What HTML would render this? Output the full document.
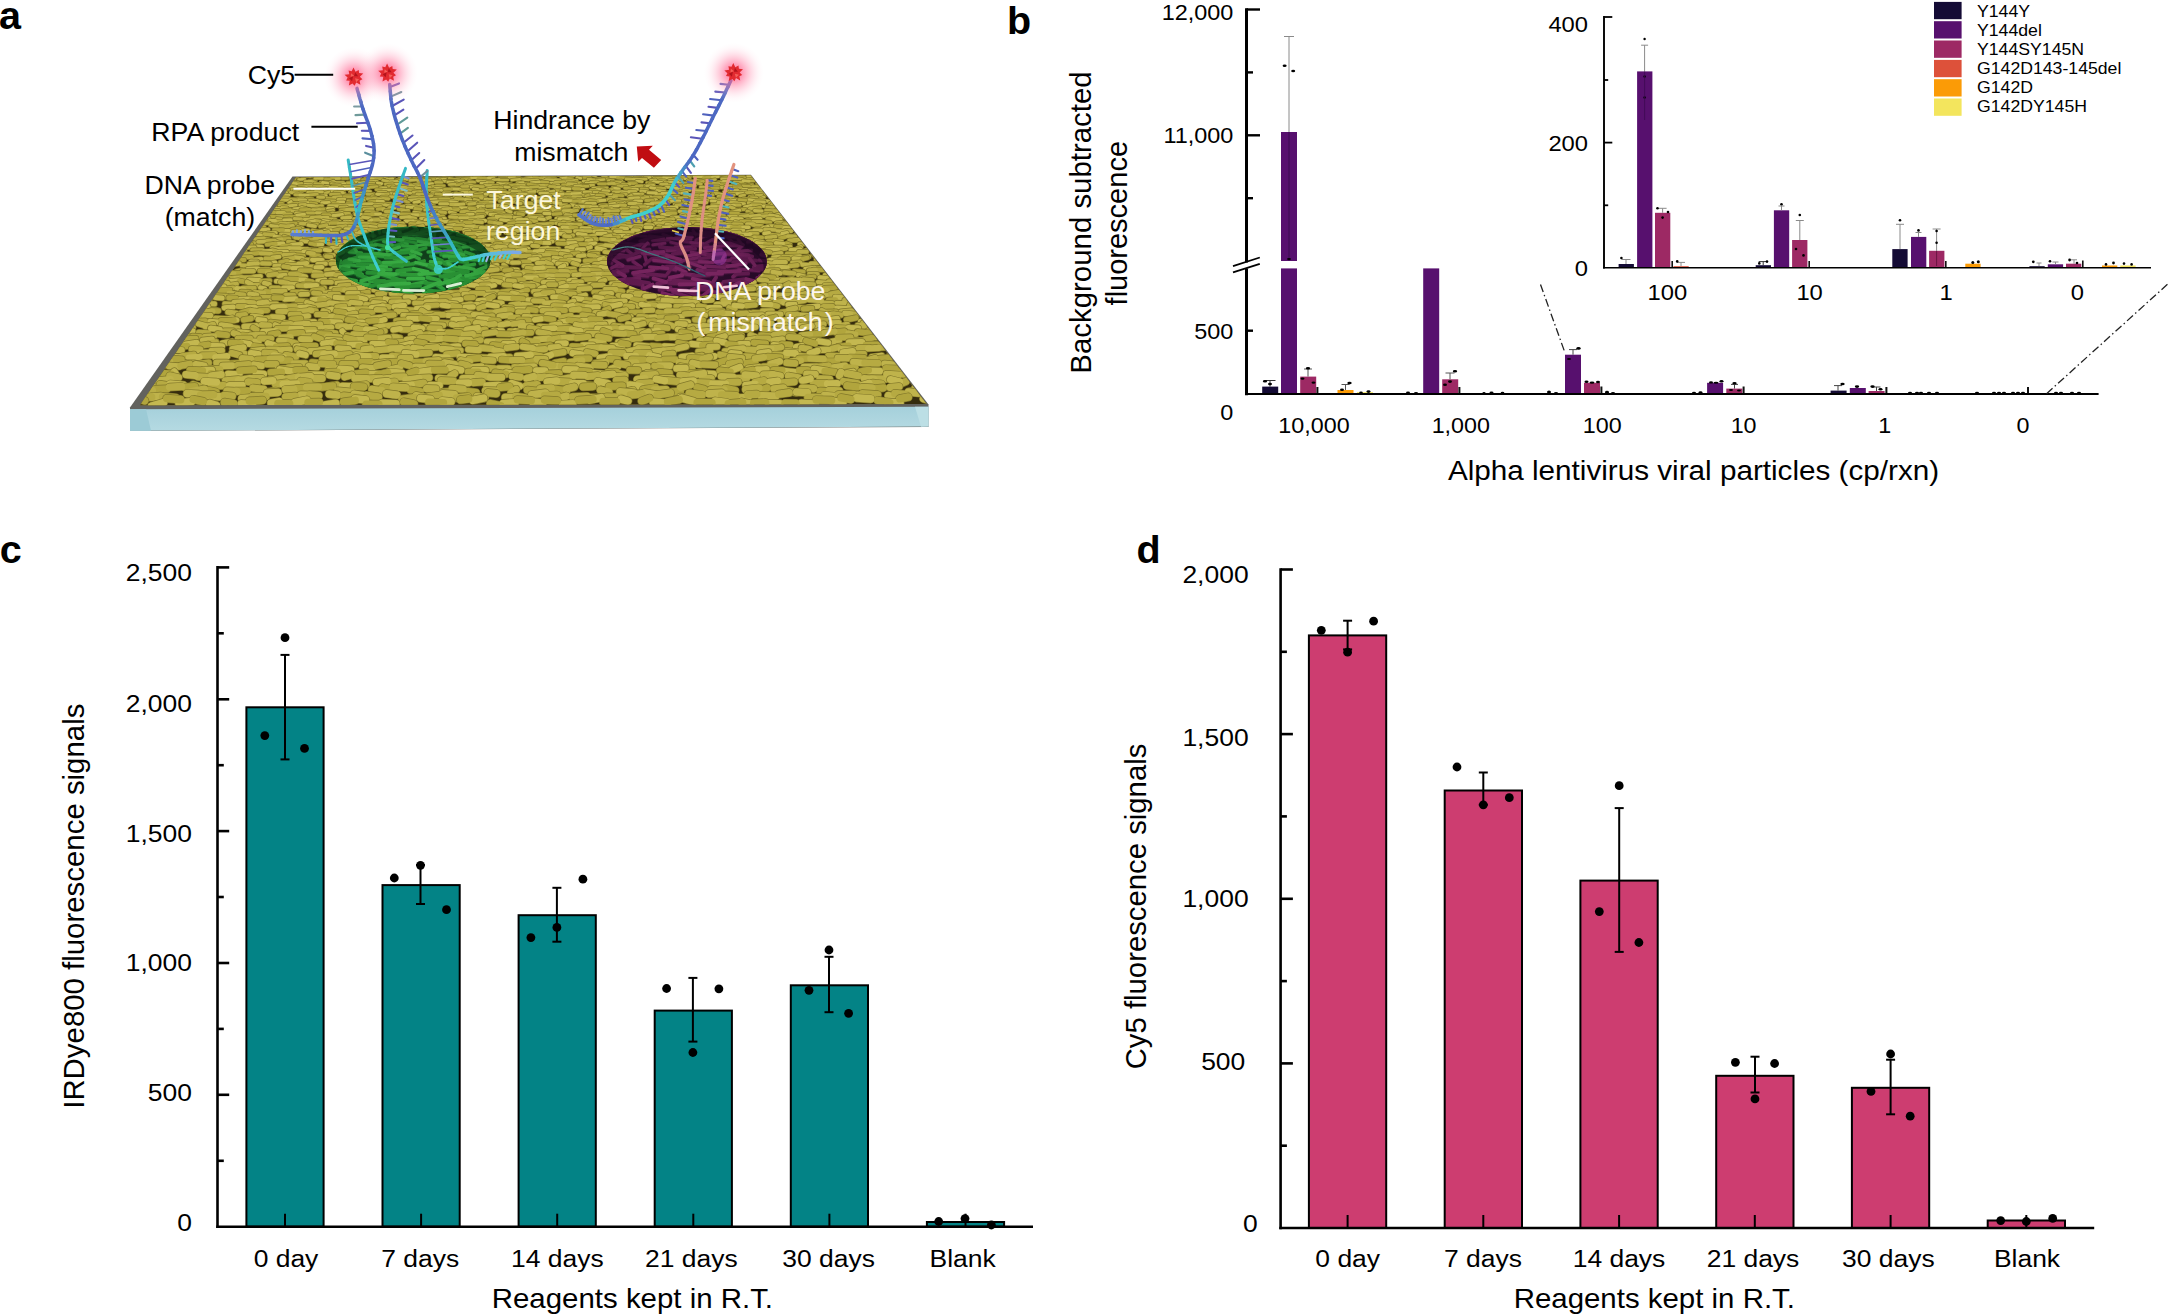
<!DOCTYPE html>
<html><head><meta charset="utf-8"><title>Figure</title>
<style>html,body{margin:0;padding:0;background:#fff}svg{display:block}text{font-family:"Liberation Sans",Arial,Helvetica,sans-serif}</style></head>
<body><svg width="2168" height="1316" viewBox="0 0 2168 1316">
<defs>
<radialGradient id="glow"><stop offset="0" stop-color="#ff4f7e" stop-opacity="0.8"/><stop offset="0.3" stop-color="#ff6a94" stop-opacity="0.62"/><stop offset="0.6" stop-color="#ff97b6" stop-opacity="0.32"/><stop offset="0.85" stop-color="#ffc4d6" stop-opacity="0.1"/><stop offset="1" stop-color="#ffd8e4" stop-opacity="0"/></radialGradient>
<radialGradient id="gwell" cx="0.5" cy="0.7" r="0.65"><stop offset="0" stop-color="#4fd04f" stop-opacity="0.15"/><stop offset="0.6" stop-color="#1a6a2c" stop-opacity="0.1"/><stop offset="1" stop-color="#0c3a18" stop-opacity="0.55"/></radialGradient>
<radialGradient id="pwell" cx="0.5" cy="0.75" r="0.7"><stop offset="0" stop-color="#a0357a" stop-opacity="0.15"/><stop offset="0.55" stop-color="#4a1440" stop-opacity="0.1"/><stop offset="1" stop-color="#1c0620" stop-opacity="0.6"/></radialGradient>
<linearGradient id="glass" x1="0" y1="0" x2="0" y2="1"><stop offset="0" stop-color="#a5d0db"/><stop offset="1" stop-color="#b5dae2"/></linearGradient>
<clipPath id="cq"><polygon points="296,177.6 750.5,175.4 926.5,404 140,405.3"/></clipPath>
<clipPath id="cg"><ellipse cx="413.2" cy="260" rx="77.3" ry="33.6"/></clipPath>
<clipPath id="cp"><ellipse cx="686.9" cy="261.5" rx="79.8" ry="34.6"/></clipPath>
</defs>
<g>
<polygon points="292.5,176.6 751,174.8 928.5,404.6 928.5,427 130,431 130,407.4" fill="#62625e"/>
<polygon points="130,409.2 928.5,406.7 928.5,426.6 130,430.8" fill="url(#glass)"/>
<polygon points="130,409.2 146,409.1 151,430.7 130,430.8" fill="#9ccbd6"/>
<polygon points="915,406.8 928.5,406.7 928.5,426.6 921,426.7" fill="#bcdfe5"/>
<polygon points="296,177.6 750.5,175.4 926.5,404 140,405.3" fill="#baa945"/>
<polygon points="296,177.6 750.5,175.4 926.5,404 140,405.3" fill="#352c0e"/>
<g clip-path="url(#cq)" fill="none" stroke-linecap="round">
<defs><path id="w1" d="M283.2 178.6l6.8 -0.6M302 176.5l8.1 -0.1M320.8 177.6l5 -0.2M333.5 176.5l7.8 -0.6M351.7 177.2l8.8 -0.4M368.7 176.2l4.9 0.7M388.3 175.7l6.5 0.2M403.8 177.4l6.3 -0.1M420.5 175.6l4.1 0.6M438.8 176l6.6 -0.2M456.3 176l6.3 0.2M474.4 175.9l6.3 -0.1M489.3 176.1l6.4 -0.4M507.6 175.3l7.1 0.7M526.1 175.1l5 0.9M541.8 175.7l8.2 -0.2M557.6 175.1l8.3 0.1M573.6 175l5.2 -0.1M590.7 175.1l4.9 1M605.7 174.4l7.7 0.8M627 175.3l7.1 0.2M644.3 176.1l7.5 0.4M663.1 176.6l5.4 -0.6M679.4 176.3l6.1 0.5M695.9 174.5l7.4 -0M713.3 175.5l5 0.2M727.8 176.3l8.1 -0.4M747.6 175.4l5.4 0.7"/><path id="w2" d="M290.2 177.3l7.3 0.1M309.9 176.2l8.5 0.2M327.5 176.3l5.7 -0.2M343.2 177.4l6.8 0.1M365.1 176.9l0.3 1.1M378.7 176.5l8.1 0.4M399 176.3l3 0.7M414.6 177.3l5.3 0.1M429.8 176.5l5.4 0.2M443.5 176.3l8.7 -0.3M465.5 176.9l5.3 -0.2M480.6 175.2l3.9 0.6M499.5 176.5l7 -0.3M513.7 175.2l5.7 0.9M532.1 175.5l4.9 -0.3M549.9 175.8l5.4 -0.3M566.1 175.2l7.5 0.7M581.5 175.4l6.6 0.5M602.8 176.4l3.9 -0.7M615.4 176.3l6.3 -0.4M635.7 176.6l7.9 -0M654.6 176.5l6.4 -0.3M670.6 175.9l5 -0.3M688.2 175.9l5.7 -0.6M702.7 174.9l7.6 -0.2M720.7 175.8l5.6 -0.2M738.3 175.8l5.1 -0.4M756.6 174.9l4.7 -0.4"/></defs>
<g stroke="#82782a" stroke-width="4"><use href="#w1"/><use href="#w2"/></g><use href="#w1" stroke="#bfb34b" stroke-width="2.6"/><use href="#w2" stroke="#b6aa42" stroke-width="2.6"/>
<defs><path id="w3" d="M284 180.5l6.1 -0.3M298.6 179.5l6.1 -0.4M314.8 178.3l7.7 0.1M331.2 178.6l8.3 -0.2M351.4 179.4l7.8 -0.6M368.6 178.2l6.7 0.6M387 179.4l5.9 -0.6M404.7 179.3l7 0.4M421.8 179.3l6.7 0.5M436.9 179.1l8.6 0.3M454.2 179.5l5.2 0.2M471.1 177.6l8.1 0M487.2 178.3l6.6 -0.9M508.9 177.5l6.1 0.1M524.5 178.7l8.3 -0.3M543.2 178.5l6.9 -0.3M561 178.6l5.8 -0.8M577 177.5l3.9 0.8M595.3 179.1l5.3 -0.4M610.6 176.9l7.7 0.1M625.9 178.2l5.8 0.3M644.5 177.8l5.6 -0.3M663.3 177.9l8 0.2M678 178.4l8.5 0.4M694.2 176.6l8.2 0.3M710.6 177.2l7.9 -0.6M732.4 177.8l5.5 0M747.7 176.5l8.5 0.1"/><path id="w4" d="M290.8 179.9l3.9 -0.9M309.3 180.7l6.6 -0.4M325.3 179l8.1 -0.2M342.4 178.5l5.1 -0M362.6 179.8l5.4 -0.5M375.7 178.6l6.3 0M396.3 180.1l4.9 -0.4M413.6 178.5l6.7 0.4M426.2 179.5l8.2 -0.3M449.2 178.3l5 1.1M462.3 179l7.7 -0.5M478 178.4l8.1 -0.2M498.5 179.5l7 -0.1M516.3 178.5l6.2 0.6M533.6 177.5l7.8 0.5M550.3 178.6l5.1 -0.1M567.7 178.4l4.9 0.4M583.9 177.5l6.4 -0.3M602.8 178.9l5.6 0M617.3 177.5l7.3 0.3M634.6 177.7l6.5 0.4M654 178.1l7.1 -0.1M673.1 178.7l6 -0.3M688.4 176.4l1.5 1.4M703.2 177.6l6.9 -0.5M721.8 178l4.7 -1.1M737.6 177.4l7.2 0.1M761.5 178.1l5.5 0.2"/></defs>
<g stroke="#82782a" stroke-width="4"><use href="#w3"/><use href="#w4"/></g><use href="#w3" stroke="#c4b850" stroke-width="2.6"/><use href="#w4" stroke="#b1a53d" stroke-width="2.6"/>
<defs><path id="w5" d="M279.5 181.7l6.8 0M291.6 182.1l6.6 0.1M311.1 181.1l4.5 1.1M329.9 182.4l3.8 -1.4M347.4 182.7l6.8 -1.1M363.1 181.7l6.3 0.4M382.7 180.4l5.1 0.6M396.9 182.6l7.6 -0.6M417.5 180.6l5.8 -0.1M436.6 181.7l3.6 -1.2M447.1 181.2l8.8 -0M469.1 180.6l3.8 0.9M483.5 181.4l7.5 -0.5M499.2 180l8.6 -0M522.3 179.5l6.5 0.4M541.3 181.7l3.3 -1.4M555.2 179.6l5 0.4M571.4 180.9l5.6 -0.8M588 179.1l6.5 0.7M608.2 180.6l5 -0.5M626.1 178.9l6.6 0.3M639 179.3l7.2 -0.3M659.3 180.5l5.6 0.1M675.3 179.7l6.5 -0.1M695 180.1l6.3 0.4M710.7 180.2l4.6 -0.7M729.1 178.9l7.4 -0.3M747.6 178.9l7 0.6"/><path id="w6" d="M285.7 181.8l7.2 -0.5M304.9 181.6l5.8 -0.3M320.6 182.3l7.4 0.1M335.3 182.4l8 -0.1M355.7 181.7l6.8 0.7M369.6 180.9l7.4 0.2M390.2 181.5l7.1 -0.3M409.8 180.4l6.7 -0.7M424.3 180.2l6 0.1M443.4 181.3l8.3 -0.1M457.8 180.9l5.7 -0.2M476.9 180.8l6 0.4M493.1 179.7l6 -0.2M511.7 180l8.2 -0.7M530.9 180.2l6.9 -0.3M546.1 179.5l7.4 0.3M563.1 180.7l6.8 0.2M583.2 181.1l7.6 0.5M597.3 180.1l6.8 -0.6M614.4 181.6l7.3 -0.8M633.2 179.1l7.2 0.1M650.7 180.2l5 -0.5M669.2 180.3l8 -0.2M687.8 180.5l5.1 0.8M702.2 180.7l5.2 -0.2M721.7 178.7l5.9 0M736.8 178.5l5.7 0.7M757.6 180.1l8.5 0.6"/></defs>
<g stroke="#82782a" stroke-width="4"><use href="#w5"/><use href="#w6"/></g><use href="#w5" stroke="#baae46" stroke-width="2.6"/><use href="#w6" stroke="#bfb34b" stroke-width="2.6"/>
<defs><path id="w7" d="M279.6 183.7l8.8 -0.3M296.2 183.8l5.7 -0.4M314.7 183.7l7.9 0.4M331.4 183.5l6.4 0.8M347.4 182.8l5.4 -0.1M366.8 182.9l7 0.1M385.4 184.2l7.2 -0.7M402.1 183.4l7.3 0.6M418.3 183.7l6.6 0.1M435.6 182.4l6.1 0.1M451.9 183.5l5.3 0M468.8 182.2l5.9 0.1M487 182.3l6 0.3M504.4 183.6l6.9 0.4M520.7 183.8l7.2 0.1M541.9 181.9l5.9 0.5M555.5 182l8.5 -0.3M575.6 182.5l4.7 0.3M590.9 182l7 -0.1M611.7 181.9l8.8 0.1M629.2 182.1l5.9 0.4M647 182.9l4.9 -0.4M665.1 182.2l7.6 0.5M678.8 183.1l7.7 0.1M698.4 181.9l5.1 -0.5M718.1 182.1l8.4 -0.1M734.4 182.2l8.6 0.2M748.3 181l8.6 -0.3"/><path id="w8" d="M290.5 183.2l5.7 0.4M304.8 184.4l6.8 0.3M322.5 182.3l5.3 0.7M336.7 183.9l8.2 -0.2M358.9 183.4l5.5 -1.1M377.2 182.9l4.6 0.7M392.8 184.4l6.7 -0M411.4 184.8l6.5 -0.8M424.1 184.2l8.5 -0.7M447.7 182l5.6 0.4M460.8 183.5l8.5 -0.4M481.1 183.1l5.7 0.3M497.7 183.3l5.7 0.7M517.3 182.9l5.8 -0.2M531.2 182.6l8.3 -0.7M550.7 183.2l7.5 0M566.2 182.7l8.8 0.4M586.2 182.9l7.2 0.8M602 183.6l7.3 -0.3M618.5 183.3l5.3 -0.5M636.7 181l5.3 0.7M653.5 181.7l8.3 0.7M671 182.2l7 0M688.7 181.9l6.8 -0.4M706.7 182.3l6.2 0.4M723.5 181.2l4.9 -0.4M743.1 180.7l5.9 0.4M759.6 181.7l7.8 0.1"/></defs>
<g stroke="#82782a" stroke-width="4.1"><use href="#w7"/><use href="#w8"/></g><use href="#w7" stroke="#b6aa42" stroke-width="2.7"/><use href="#w8" stroke="#c4b850" stroke-width="2.7"/>
<defs><path id="w9" d="M282.7 186.1l5.2 -0.2M299 186.5l6.5 -0.1M314.2 186l7.3 0.2M332.5 185.8l7.9 -0.4M353.3 184.9l4.7 0.5M369.2 185.2l6.3 0.4M388 186.1l5.6 -0.6M402.9 184.7l8.5 0.2M419.3 185.6l5.8 0.1M436.6 185.9l7.5 -0.1M456.4 184.8l5.4 -0.4M473.5 185.3l4.6 0.6M489.9 185.7l7.9 -0.4M510 185.3l7.7 -0.8M528.2 184.2l7.1 0.9M542.8 185.1l6.8 0.2M562.6 184.9l6.7 -0M581.1 185l8.1 0.4M598.5 183.8l7.3 0M613.7 183.7l6.1 1.1M629.3 183.3l7 0.3M649.3 183.6l4.5 0.7M665.9 185.1l7.6 0.3M683 185.1l7.9 -0.6M705.6 183.9l6.4 0.3M719.1 184.5l7.9 0.1M737.9 185.2l7.5 -0.3M757 183.8l5.9 0.6"/><path id="w10" d="M287.4 186.3l8 0.6M305.9 186.5l5.5 -0.1M321.6 187.2l7 -1.1M343.4 186l8 -0M356.8 185.4l7.4 -0.3M374.7 186.9l5.7 -0.2M395.1 187l8.4 -0.3M409.6 186l8.2 -0.5M431.2 186.5l7.8 0M449.4 184.5l5.5 -0.4M464.7 184.6l6.9 0.4M484.5 185.4l6.9 0.2M499.7 186.8l6.8 -1M517.6 185l6.7 0.2M535.7 185.1l8 0.3M553.4 184.7l5.3 0.1M568 183.6l8.3 0.5M586.6 185.6l6.9 -0.5M608.2 183.7l5.9 -0.3M622.5 184.1l7.2 0.4M643.9 185.7l6.8 -0.3M660.7 184.4l6.2 -0.5M676 185.2l5.4 -0M695.3 182.9l6 1M713.1 183.4l5.9 0.1M732.6 184.5l5.3 -0.4M746.3 185.3l6.4 -0.4M765.1 184.6l5.6 0.1"/></defs>
<g stroke="#82782a" stroke-width="4.1"><use href="#w9"/><use href="#w10"/></g><use href="#w9" stroke="#b1a53d" stroke-width="2.7"/><use href="#w10" stroke="#baae46" stroke-width="2.7"/>
<defs><path id="w11" d="M276.4 188l5.9 -0.1M291.7 189.5l5.9 -0.9M308.4 188.7l7.1 0.1M329.6 187.5l7.5 0M346.4 188.8l6 0M363.9 189l4.6 -0.8M380.6 187.9l5.4 -0.1M400.5 187.2l5.1 0.2M415.5 187.7l4.4 0.6M435.3 188.2l6 0.4M450.9 188.2l6.8 0.3M471.1 187l6.6 -0.4M487.6 188l7.4 0M504.8 186.8l4.5 0.5M520.5 187.5l8.2 0.5M539.7 187.9l5.9 0.1M555 187.3l9.1 -0.3M574.9 186.2l6.2 -0.2M593 188.1l6.6 -0.1M612.8 187.4l6.5 0.1M628.2 187.6l6.7 -0.2M646.5 185.8l7.2 -0.3M666.1 187l6.3 0.2M684.4 186l6 -0.1M700.5 187l7.8 0.5M719.1 187.4l7.8 0.3M733.8 186.2l6 -0.3M752.4 186.7l6.6 -0"/><path id="w12" d="M285.6 189.4l4.2 0.5M299.4 188.1l5.7 0.8M319.9 189.1l6.7 -0.7M334 188.3l8.2 -0.4M355.3 187.9l4.5 0.4M370 187.2l6.8 -0.5M392 187.7l5.1 0.9M405.7 188l6.9 0.3M423.2 186.8l7.1 0.5M441.3 188.8l5.2 0.1M461.7 186.6l6.1 -0.1M474.5 186.3l8.9 0.3M493.2 187.2l8.5 0.5M513.4 187.8l5.4 -0.1M530.2 187.4l7.8 -0.7M549.5 186.3l5.6 0.4M568.3 187.8l5.6 0.4M582.1 186.6l5.7 -0.4M600.9 188.2l6.2 -0.4M618 186l8.7 -0.1M636.4 185.8l5.8 -0M654.3 187l5.9 0.4M674.5 186.3l6.7 0.2M687.8 185.2l7.5 0.5M710.4 185.9l7.9 -0.1M724.9 186.4l6.4 -0.3M742.8 185.8l6.9 0.5M761.3 185.3l7.6 0.2"/></defs>
<g stroke="#82782a" stroke-width="4.2"><use href="#w11"/><use href="#w12"/></g><use href="#w11" stroke="#bfb34b" stroke-width="2.8"/><use href="#w12" stroke="#b6aa42" stroke-width="2.8"/>
<defs><path id="w13" d="M276.7 191l5.7 0.5M294.2 191.1l6.1 -0.4M312.3 190.2l7.1 -0.2M329 191.6l7.6 0.1M349.9 191.7l4.4 -0.6M364.4 191.4l6 0.2M382.8 190.1l7.8 0M401.3 191.5l8.8 -0.4M419 191.2l7.7 0.1M435.6 190.8l6 -0.4M452 188.9l7.9 0.2M473.4 188.9l4.5 0.5M489.6 190.3l6.5 -0M509.9 190.3l6.5 -0.8M526 190l5.3 0M542.3 190.3l5.9 -0.6M562.2 188.4l7.8 0.4M577.6 189.8l5.9 -0.5M597 189.5l6.8 0.1M614.4 188.1l4.7 0.8M631.3 189.1l6.1 0.4M650.6 187.6l4.8 0.8M671.7 188.1l6.8 0.4M686.9 189.5l8.6 -0.4M707.9 189.3l5.9 0M724.8 188.3l6 -0.1M742.6 189.4l8.5 -0.1M758.9 189.9l5 -0.6"/><path id="w14" d="M283.7 190.5l5.3 0M299.6 190.3l8.7 0.1M320.8 191.8l6.6 -0.3M338.7 190.7l5.6 -0.7M355.3 190.1l4.9 0.7M376.2 189.6l5 0.2M392.3 190.3l6.4 0.6M408.3 190.5l7.4 0.4M427.6 190.4l6.6 -0.3M444.4 189.3l7.3 -0.1M460.5 189.8l8.3 0.1M479.8 190.4l6.9 -0.9M498.2 189.9l6.8 0.9M519.4 190.2l5.4 0.3M534.3 190.4l8.9 0.4M556 190.5l5.2 0.3M573.3 188.5l6.5 0.1M590.6 190.1l6.4 0M609.6 190.1l2.8 -1.4M624.7 188l5.6 0.6M641.2 188.8l6.2 0.5M657.7 188.1l7 0.4M680.8 188.9l4.9 -0.4M699 190.2l6.7 -0.3M711.7 187.8l6.7 0.1M733.7 187.6l7.4 -0M752 189.6l8 -0.7M769.3 187.2l7.5 0.5"/></defs>
<g stroke="#82782a" stroke-width="4.2"><use href="#w13"/><use href="#w14"/></g><use href="#w13" stroke="#c4b850" stroke-width="2.8"/><use href="#w14" stroke="#b1a53d" stroke-width="2.8"/>
<defs><path id="w15" d="M270.1 193.1l6.5 -0.5M290.3 192.5l7.5 0.4M307.8 192.2l6.4 0.2M325.3 193l3.7 -1M340.7 194.5l3.9 -1M359.2 193l5.4 0.4M378.2 192.5l7.7 -0.3M396 192.4l6.4 0.8M413.3 192.2l6.8 -0.6M432.1 192.5l6.9 0.3M451.9 193.9l4.6 -0.7M469.8 192.1l6.2 1M487.5 192.7l7.1 -0M502.2 192.1l7.5 0.7M524.4 193.3l5.5 -1.2M538.2 191.3l5 0.5M560.6 192.3l2.8 1M574.4 192.2l6.6 -0.1M593.9 192.1l8.1 0.1M613.3 192l9.1 -0.3M629 191.1l6.7 0.4M649.2 192.7l5.6 -0.4M664.5 192.4l8.8 -0.4M683.6 190.4l6.5 -0.4M702.1 190.8l8.6 -0.3M723.8 192.2l4.8 -0.5M737.5 191.7l8.6 -0.3M756.2 190.9l7.2 -0.5"/><path id="w16" d="M280.9 193.2l5.6 -0.7M295.1 193.5l7.1 0.3M315.3 191.7l7.1 0.2M334.5 192.7l8.3 -0.4M351.1 193.1l5.1 0.5M368.1 194l5.8 -0.2M388.1 193.7l7.7 -0.4M404.9 192.6l5.8 0.6M420.2 193l6.8 -0.4M443.4 193l6.5 -0.1M462.1 192l5.4 0.5M477.4 193.6l5.3 -0.3M496.1 192.6l4.3 0.7M511.9 191.3l8.3 0.3M529.6 191.8l5.4 -0.3M546.9 192.1l7.1 -0.9M567.5 192.3l7.2 0.8M584.2 192l6.4 0M603.1 190.7l5.7 0.2M622.3 192l6.7 0.2M640.9 191l6.6 0.6M656.8 190.5l8 0.8M675 192.2l6.8 -0.6M694.9 190.6l8.2 0.2M710.1 190.9l6.7 0.1M731.4 190.3l6.2 -0.4M749.2 190.1l7.1 -0.5M766.1 192l9.4 0.1"/></defs>
<g stroke="#82782a" stroke-width="4.2"><use href="#w15"/><use href="#w16"/></g><use href="#w15" stroke="#baae46" stroke-width="2.8"/><use href="#w16" stroke="#bfb34b" stroke-width="2.8"/>
<defs><path id="w17" d="M273.2 196.7l9.2 -0.7M295.1 194.6l6.2 0.3M309.1 194.9l8.1 -0.6M330.6 194.4l8.8 -0.2M346 195.5l8.5 -0.4M367.1 194l5.7 0.5M381.8 194.7l6.5 -0.7M399.4 196.4l7.3 -0.6M417.1 193.9l7.7 0.4M436 193.9l7.1 0.9M455.1 193.6l6.8 0.4M475.1 194.4l6.1 0.4M492.1 194.7l6.9 -0.4M511.5 194.7l5.5 -0.3M527.3 195l7 -0.1M549.8 194.2l6.1 -0.4M565.7 194.3l5.7 -0M582.7 195.2l7.7 -0.5M600 193.4l7.7 0.4M621.5 193.8l4.8 0.5M635 194.9l7.7 -0.9M656.2 194.6l6.6 -0.5M671.3 192.6l7.4 0.4M695.1 193.6l7 0.3M713 193.2l6.6 0.5M729.2 193.2l8.4 0M746 192.8l6.7 -0.5M767.6 194.1l1.7 -1.1"/><path id="w18" d="M282.4 195.8l6.4 -0.7M300 195.2l8.3 -0.1M318.3 196.5l7.8 -0.7M341.3 196.2l5.3 -0M356.1 195.2l5.8 -0.1M376.7 194.3l6.6 0.3M394.2 193.9l8.6 0.2M412.5 196.1l7 -0.1M428.3 195.2l4.5 -0.6M445.4 194.6l5.6 -0.2M464.9 195.8l9.1 -0.4M484.9 194.2l6.6 -0.3M499.9 195.2l5.2 0.3M518.8 193.9l7.2 0.2M539.9 193.2l7.7 -0M556.9 194.6l6.4 -0.3M571.9 193.7l8.5 -0.3M589.5 195.1l8.7 0.3M609.7 195l4.1 -0.6M631.2 194.7l7.3 -0.4M648.1 192.6l8.3 0.4M662.3 193.1l8.2 0.4M681.6 193.1l5.3 -0.6M703 194.5l5.7 -0.2M721.3 194.5l7.4 0.1M737 193.7l5.9 -0.2M755.2 193.2l8.5 0.7M775.5 192.5l6.5 0.1"/></defs>
<g stroke="#82782a" stroke-width="4.3"><use href="#w17"/><use href="#w18"/></g><use href="#w17" stroke="#b6aa42" stroke-width="2.9"/><use href="#w18" stroke="#c4b850" stroke-width="2.9"/>
<defs><path id="w19" d="M273.4 197l4.5 0.8M289.3 198.8l6.4 0.5M306.8 198.2l5.7 0.8M327.2 198.3l8.5 0.1M344.1 196.7l9 0M363.8 198.3l8.3 -0.4M381.5 196.9l5.8 -0.1M396.6 197.3l8.7 0.2M417.8 197.8l7.7 -0.8M434.3 197.9l6.8 0M454.5 196.7l5.7 0.1M472.8 196.3l9.3 -0.4M490.4 195.5l8 0.9M508.2 196.1l7.2 -0.4M527.5 196.7l7.2 -0.3M541.9 196.5l8.7 -0.6M565.2 197.4l7 0.6M585.8 196l2.5 -0.9M596.7 195.2l7.2 0.4M614.2 195.1l8.5 0.5M633.7 197l7.5 -0.1M654 197.1l6.4 0.1M672.1 196.6l6.4 -0.1M689.4 195.7l8.5 -0.2M710.3 195.9l2.5 -1.1M727.1 194.9l6.8 0.2M749.4 196.7l3.4 -0.7M765.4 194.7l9.4 0.4"/><path id="w20" d="M281.6 197.6l7.2 0.4M297.4 198.6l5.7 -0.3M317.9 197.3l5.8 0.1M333.5 197.1l7.5 -0.3M355.7 198.4l6.1 -0.7M372.1 196.6l3.4 0.7M390.2 196.7l6 0.3M409.4 197.7l7.5 -0.3M425.1 196.8l6.7 -1.2M445.5 198l6.6 0.6M467 197l2.8 0.9M480.4 198l5.6 -0.1M499.3 197.7l8.6 0.1M517 196.9l6.1 -0.1M535.7 197.9l7.7 -0M556.2 197.3l8 0.9M572.9 196.8l7.9 0.1M587.5 197.6l9.2 -0.3M609.4 197.5l7.1 -0.9M628.7 196.5l2.7 -1.1M645.1 196.4l6.5 0.7M664.3 196.8l6.7 0.2M684.6 195l5.8 0.5M700.6 195.5l6.4 -0.9M718.3 196.4l8.3 1M740.1 195.9l4.4 -0.8M756.3 195.4l5.7 0.1M776.2 194.7l7.3 1.2"/></defs>
<g stroke="#82782a" stroke-width="4.3"><use href="#w19"/><use href="#w20"/></g><use href="#w19" stroke="#b1a53d" stroke-width="2.9"/><use href="#w20" stroke="#baae46" stroke-width="2.9"/>
<defs><path id="w21" d="M264 201.5l8.1 0.1M281.6 199.9l8.7 0.4M298.4 199.8l7.4 0.1M319.5 201.2l5.3 0.2M338.1 199.4l6.5 -0.3M354.8 201.1l9.2 -0.5M373.4 198.8l8.2 0.2M394.6 200l6 -0.3M409.1 200.3l7.7 -0.5M430.1 199.8l6.2 -0.6M448.3 200.3l9.1 0.4M465.2 199.4l5.5 0.6M485.1 199.2l6.2 0.5M503 199.8l7.3 -0.3M520.9 198.8l5.1 0.7M541.2 199.6l8.2 -0.8M560.4 199.2l6.2 -0.2M578.1 199.3l8.7 0.3M593.4 198.3l7.5 0.1M615.5 200l8.1 -0.2M629.5 198.2l9.1 -0.5M647.3 199.6l9.1 0.1M669.2 198.4l6 -0.1M689.7 199.2l5.9 -0.5M709.1 197.6l5 0.9M725.5 198l7.3 -0.2M742.8 198.9l7.9 -0M760.6 198.5l3.4 -1.3"/><path id="w22" d="M274.1 200.8l8.9 0.3M290.1 199.4l6.4 0.3M309.5 200.3l8.2 0.3M325.9 200.7l9 0.2M348.1 200.9l6.2 0.6M367.3 198.8l8.5 0.1M382.7 198.6l6 0.2M400 199.6l5.2 -0.4M418.4 199.1l8.4 0.5M439.7 199.1l9.2 -0.2M455.5 198.5l7.5 0.6M474.2 199.5l4.4 0.9M491.2 199.6l6.3 -0.3M510.7 199.7l9.5 0M532.8 199.8l6 0.4M549.1 199l6.4 0.3M568.1 199.6l9.3 0.4M587.3 198.7l6.9 -1M603.1 199.7l7.9 -0.1M619.9 200.2l9 -0.2M641.8 198.3l6.2 -1M661.2 200.3l5.6 -1M678.8 197.9l8.2 0.1M694.5 198.9l8.3 -0.1M717.2 199.1l8.3 -0.7M731.6 198.9l7.2 0.7M751.1 197.7l5.7 0.3M770.5 198l6.1 -0.2"/></defs>
<g stroke="#82782a" stroke-width="4.4"><use href="#w21"/><use href="#w22"/></g><use href="#w21" stroke="#bfb34b" stroke-width="3"/><use href="#w22" stroke="#b6aa42" stroke-width="3"/>
<defs><path id="w23" d="M268.3 202.4l7.8 -0.9M288.9 202.9l2.2 -1.4M299.6 203l8.5 -0.2M321.8 202.7l7.4 -0.3M337.7 202.1l5.9 -0.2M357.8 203l5.5 -0.3M376.7 201l6.6 0.5M395.3 202.8l5.4 -0.5M414.2 202.4l5.1 -0.8M430.6 202.3l7.7 -0.6M450.2 201.8l6.5 0.4M467.4 202.5l8.5 -0.1M486.6 202.3l7.6 0.1M502.6 201.6l8 0M522.3 202.4l7.8 0.8M544.5 202.4l6.5 -0M563.3 200.6l8.5 0.1M579.3 201.3l8.9 0.5M598 200.8l7 -0.5M616.1 201.8l8.1 0.5M634.6 201l6.9 -0.1M657.6 202.3l5.9 -0M670.9 201.1l8.9 -0.1M692.5 200.5l7.4 0.3M711.4 201l6.3 0.3M728.5 201.3l6.3 -1.2M749.1 199.7l5.7 0.7M764.6 200.7l6.5 1"/><path id="w24" d="M273.9 203l8.7 0.4M291.7 203.7l5.5 -0.4M310.7 202.9l5.8 0.9M332.8 203.6l5.5 0.1M347.4 203.1l8.1 -0.7M369.5 201.8l5 -0.6M382 203.4l8.7 0.3M404.8 200.9l3.6 1.5M424.3 202.4l6.2 0.7M439.8 201.6l8.6 0.1M460.8 203.5l8.4 -0.6M480.1 202.6l7.8 -0.6M499.6 201l6.3 1M512.5 201.9l9.1 -0.6M535.1 201.3l7.8 0.3M553.7 202.2l6.5 -0.8M573.1 201.3l7.2 -0.6M589.7 200.5l7.9 0.8M609.8 201.8l8.9 -0.5M628 202l7 0.2M645.9 200.4l6.7 -0.1M661.1 201.7l8.5 0.4M683.5 200.4l8.3 -0.2M699.3 201l8.5 -0.4M718.7 200l9.5 -0.1M739 199.8l6.8 0.4M756.1 200.5l6.5 -0.9M776.2 199.5l5.6 0.3"/></defs>
<g stroke="#82782a" stroke-width="4.4"><use href="#w23"/><use href="#w24"/></g><use href="#w23" stroke="#c4b850" stroke-width="3"/><use href="#w24" stroke="#b1a53d" stroke-width="3"/>
<defs><path id="w25" d="M265.7 205.7l5.7 0.1M279.3 205.9l7.5 -0.2M300 204.7l5.5 -0.1M316 206.4l6.3 -0.6M337.7 205.9l6.7 -0.6M356.2 205.7l5.2 0.2M374.3 204.2l8.4 0.5M392.5 205.3l7 -1.4M410 206.3l6.1 -0.6M427.4 205.8l6.8 0.3M450.7 204.4l7.9 0M468.8 204.1l6.1 -0.6M483.6 204.9l8.7 0M501.7 204.8l8.5 -0.1M525.4 203.4l6.1 0M540.4 204.9l7.9 0.3M560.6 205l6.2 -0M578.9 205.2l6.2 -0.1M599.8 205.4l6.7 -0.4M617.6 203.7l5.5 -0.2M633.6 203.9l7.5 0.3M651.6 203l9.1 -0.1M674.6 204l8.6 -0.1M690.4 201.9l5.2 1M712.2 204.4l6.7 0.2M729.9 202.4l7.1 0.3M748.4 202.9l5.8 0.6M769.7 203.4l2.7 -0.9"/><path id="w26" d="M269.2 206l6.2 -0.2M289.2 205.7l6.8 -0.5M308.3 205.3l6 0.4M328.9 205.7l8 0.1M345.9 205l7.7 -0M363.3 204l8.8 -0.3M384.9 204.8l5.6 1.1M404.8 205.8l5.6 -0.3M421.4 204.9l9.6 -0.3M439.9 203.7l7.8 -0M455.7 205l8 -1M477.9 204.8l5.4 0.2M494 205.5l7.7 0.2M516.9 202.8l4 0.7M532.8 205.4l6.8 0.1M553.8 202.6l6.8 0.7M571.2 204.9l5.2 0.7M586.3 203.6l8.9 -0.3M609.9 204.2l4.8 -0.6M629 203.5l6.8 -0.1M645 204.5l7.7 -0.2M660.8 203l7.2 -0.3M681.9 204.8l4.2 -0.8M697.4 202.2l9.1 0.2M718.2 202.4l6.3 0M737.1 203.2l7.3 0.6M754.9 201.9l9.4 0.2M776.7 203.9l6.6 -0.4"/></defs>
<g stroke="#82782a" stroke-width="4.5"><use href="#w25"/><use href="#w26"/></g><use href="#w25" stroke="#baae46" stroke-width="3.1"/><use href="#w26" stroke="#bfb34b" stroke-width="3.1"/>
<defs><path id="w27" d="M266.3 206.9l8.7 -0.2M282.1 207.4l5.1 0.5M301.8 207.5l4.4 1.1M320.2 208.8l7.4 0.4M340.3 207.3l6.2 -0.3M355.4 207.4l9.1 -0.2M374.6 206l6 0.4M396.3 207.3l7.5 -1.1M412.8 206.9l8.4 -0.1M430.9 207.5l7.2 0.1M453.1 208.3l5.5 0.2M469.9 208.1l8.2 -0.3M486.9 206.1l7.9 -0.4M508.8 207.2l7.4 0.6M526.5 207.7l5.2 -0.4M545.3 206.6l8 0.3M564.3 207.1l5.1 -1M583.1 206.2l7.2 0.1M600.7 206.7l6 -0.8M619.7 205l5.8 0.4M637.2 206.7l8.1 0.1M656.6 206.9l8.4 0.1M676.1 205.3l6.1 -0.5M695.4 206.9l6.3 0.7M711.9 205.8l9.5 0.6M733.1 205.1l6.9 -0.1M751.7 204.7l9.1 0.3M771.9 204.6l5.6 0.6"/><path id="w28" d="M273.9 208.2l8.5 0.6M293.7 209l8.3 -1M311.2 209.3l9.1 -0.4M328 208.3l5.2 0.3M347 208.1l8 0.9M365.4 207.9l6.8 -0.4M389.1 207.8l5.7 -0M407.2 207.1l6.8 0.1M420.3 208.5l8.8 -0.9M439.8 207.8l7.9 0.1M459.9 207.9l8.4 0.1M477.9 206.3l5.5 0.1M500.9 206.6l6 -0.1M518.4 207.7l9.1 -0.7M535.8 206.5l7.5 -0.6M555.3 207.9l8.9 0.1M576.2 206.6l7.2 -0.1M591 207l6.1 -0M609.8 206.5l8.3 -0.8M628.3 207.7l8.1 -0.6M647.7 207.2l6.5 0.5M667.8 207.2l9 0.1M689 205.6l7.7 -0.5M707.3 207.3l8.6 -0.4M726.6 205l7.6 0.6M744.6 206.9l5.9 -1.1M763.3 206.1l7.2 0.2M782.9 206.1l8 -0.2"/></defs>
<g stroke="#82782a" stroke-width="4.5"><use href="#w27"/><use href="#w28"/></g><use href="#w27" stroke="#b6aa42" stroke-width="3.1"/><use href="#w28" stroke="#c4b850" stroke-width="3.1"/>
<defs><path id="w29" d="M262.6 211.3l7.1 0.6M282 210.6l8.4 -0.8M300.7 209.9l9 -0.2M318.6 209.7l5.2 -0.6M340.7 210.1l6.6 -0.4M354.7 210.5l6.2 0.1M377.5 209.2l6.1 -0.7M398.5 209.1l5.5 1M415.1 208.7l5.6 0.4M434.4 210.8l8.6 -0.5M450.7 210l7.9 -0.3M469.4 208.2l5.7 0.7M487.6 210.7l8.4 -0.7M510.3 208.5l8 -0.2M526.4 209.4l6 -0.1M547.8 207.6l5.1 1M564.4 209.7l6 0.5M587.2 210.4l6.8 -0.3M605.5 209.3l6.2 -0.6M621.6 209.2l7.2 0.1M641.7 210.1l7 0M662.2 209.9l5.8 -0.2M681.5 209.4l6.9 0.3M699.6 208.8l4.5 -0.9M721.9 209.4l5.7 0.7M736.1 209.6l9.3 -0.3M755.8 208.5l4.4 -1.2M776.9 207.9l5.8 -0"/><path id="w30" d="M271.6 210.4l7.1 -0.1M292.4 211l5.2 0.8M312.6 209.8l6.9 0.2M327.8 211.4l5.5 -0.8M346.7 209.6l8.6 0M364.1 209.4l8.6 -0.6M383 209.8l6.8 0.2M402.7 211l5.6 -0.5M425 209.9l9 0.4M443.2 209.2l7.3 -0.6M463.8 210.9l4.9 -0.7M480.9 209l4.9 1.2M497.5 209.4l4.5 0.7M519.6 208.8l5.9 1M535.2 208.2l6.4 0.9M552.9 210.3l9.8 -0.2M574.3 208.9l3.9 -1M591.9 209.5l8.7 0M612.2 209.5l8.6 0.2M631.5 207.7l5.9 0.1M650.7 208.5l6 -0.1M668 209.4l6.6 0.2M691.2 209.3l6.9 0.1M710.2 209.7l8.2 0.2M730.3 207l3.6 1.2M749.5 208.7l5.4 -0.3M767 207l6.3 0.6M784.2 208.4l7.4 0.2"/></defs>
<g stroke="#82782a" stroke-width="4.6"><use href="#w29"/><use href="#w30"/></g><use href="#w29" stroke="#b1a53d" stroke-width="3.2"/><use href="#w30" stroke="#baae46" stroke-width="3.2"/>
<defs><path id="w31" d="M258.3 212.1l7.7 -0.3M276.9 212.6l7.5 0.1M295.8 213l8.6 0.3M316.4 212.8l9 0.3M334.9 213.8l7.3 -1.3M354.5 213.6l6.2 0.6M371.4 213.9l5.7 -0.9M393.7 213.7l5.9 0M414.1 212.4l6.1 0.6M428.6 212.4l6 -0.1M449.6 212l5.6 1.4M466.9 213l9.5 -0.6M486 212.9l6.6 0.1M506.8 210.4l4 1.5M526.5 211.9l5.7 -0.8M544 210.5l5.4 1.5M563.2 210.9l9.1 -0.2M583 212.6l7.8 0.7M602.4 210.2l8 0.9M622.5 211.8l7.3 0M641.4 211.9l5.1 0.5M659.7 211.2l8.4 -0.2M679.3 211.4l8.8 0.6M699.2 211.5l7 0.5M719.3 211.1l9.5 0.8M734.9 211.2l4.6 -1M754.6 210.6l7.3 0.5M773.7 211.1l6.9 -0"/><path id="w32" d="M268.8 212.8l5.7 -0.4M284 214.1l7 0.1M306.8 213l7 0M327 214l5.9 -1M341 213.7l8.3 -0.2M366.1 211.8l7.8 0.2M385.5 211.4l6.5 0M403.3 213.5l5.6 -0.4M416.9 213.5l9.6 0.1M439.4 211.8l6 0.8M461.2 211.9l6.2 -0.5M477.6 211.2l5.8 -0.3M494.3 213.1l9.5 -0.2M515.2 213l8.7 -0.4M534.7 211.2l9.7 -0.2M555.6 213.1l8.8 -0.5M571.3 211.4l5.9 -1.2M593.8 212.4l7.2 -0.1M611.6 211.2l6.8 -0.6M629.7 210.9l6.5 0M652 212.1l8.1 -0.6M665.9 211.9l9.6 0.2M693.7 211.7l2.6 -0.9M705.5 212.6l7.2 -0.7M728.3 212.7l5.7 -0.8M747.2 211.2l3.7 1M765.8 210.3l9.7 0.7M786.4 210.4l7.8 0.1"/></defs>
<g stroke="#82782a" stroke-width="4.6"><use href="#w31"/><use href="#w32"/></g><use href="#w31" stroke="#bfb34b" stroke-width="3.2"/><use href="#w32" stroke="#b6aa42" stroke-width="3.2"/>
<defs><path id="w33" d="M255.7 215.8l6 0.4M276.1 216.9l6.1 -0M296.8 215.3l7.5 -0.9M311.2 217.1l8.6 -0.2M333 215.6l9.3 -0.9M355.3 214.5l6 -0.2M371.1 214.1l9.4 0M387.3 215.5l8.2 0.9M411.2 214.8l7.3 0.1M431.9 214.8l6.4 0M451.9 215.2l5.6 0.2M467.3 214.3l5.7 0M490.2 214.3l5.8 0.3M502.5 215.4l9.3 0.1M529.2 215.7l5.2 0.5M544.1 213.3l5.7 0.3M565.6 214.8l5.4 0.5M586.3 214.2l4.5 -0.6M605.1 215l7.8 0M621.7 214l9.7 0.3M644.1 213.5l6.4 -0.2M662 214.7l8.2 -0.4M681.3 214.9l7 0.1M700.5 214.4l9.7 0.3M717.1 213.1l6.6 0.9M739.8 215.1l9.8 0M759.2 215.2l7.7 -0.4M776.9 214.6l7.6 -0.1"/><path id="w34" d="M266.8 216.5l8.4 0.2M284.7 216.9l10 -0.3M301.2 217.2l7.8 -0.4M322.8 214.8l6.8 0.1M345.5 217.2l5.2 -1M364.2 214.6l8.7 -0.2M382.8 215.5l7.5 -0.2M401 214.2l8.6 0.2M420.4 215l6 -0.7M435 216.8l8.4 -0.7M457.3 215.3l9.7 0.1M477.3 214.6l7 0.3M493.1 215.7l8.5 -0.9M518.1 213.8l5.1 0.7M535.1 216l5.7 -0.3M553.4 214.1l7.2 -0.4M573.8 215.2l6.6 0.4M592.9 214.2l8 0.7M611.7 214.4l5.9 0.3M633.9 215.3l7.4 0.1M649.8 213.7l2.9 -1M667.2 213.2l8.3 0M688.4 214.2l5.5 -0.2M711.2 215.3l7.8 -0.8M730.7 213.2l7.5 0.3M748.7 214.6l3.2 -0.9M765.2 213.7l6 -0M786.3 213.1l5.2 -1.3"/></defs>
<g stroke="#82782a" stroke-width="4.7"><use href="#w33"/><use href="#w34"/></g><use href="#w33" stroke="#c4b850" stroke-width="3.3"/><use href="#w34" stroke="#b1a53d" stroke-width="3.3"/>
<defs><path id="w35" d="M255.7 217.8l6.2 -0.2M276.8 218.7l5.6 0.4M294.3 218.7l7 0.4M311.1 217.6l9.3 -0.8M329.9 219.1l5.5 0.2M353.8 219l6.9 -0.2M371.5 219.7l7.2 -0.9M389.1 217l6 -0.3M408.7 217.1l6.7 1.2M429.2 218.3l8.1 -0.3M449.9 216.8l6.9 0.5M468 218.1l7.9 -0.4M489 219l7.9 -0.3M504.5 216.9l6.5 -0.1M526.5 218.1l7.9 -0.6M545.2 218.8l4.6 -1.4M564.5 217.2l6.4 -0.1M588.1 217.7l5.6 -0.2M604.8 217l8.5 -0.1M619.7 217.7l9.8 -0.3M640.8 216l8.8 0.3M661.5 217.1l4.7 1.7M681.2 216.9l3.9 -0.9M703.2 217.4l7.1 -0.8M719.1 217.3l5.8 -0.4M740 216.3l8.3 -0.7M759.7 216.1l7.6 -0.1M778.9 217.8l7.2 -0.7"/><path id="w36" d="M262.9 218.4l6.2 0M281.7 219.8l8 -0.7M304.1 219.6l8.1 0.1M322.1 217.7l5.7 -0.2M342.1 217.8l8.3 -0.3M362.8 217.1l7.6 1M380.5 218l4.2 1M401 217.3l8.9 -0.4M420.9 218.6l9.4 -0.7M436.4 218l8.7 0.6M459.7 217.9l7.9 0.1M476.2 217.1l6.8 -0.7M496.3 216.3l7.9 0.9M514.4 217.5l6.2 0.3M534 217.7l8.2 -0.6M556.3 218.5l5.7 -0.8M578.1 219.1l6 -1M594.1 217.7l8.4 0.2M614.3 218.1l6.6 -0.9M632.7 216.5l7 -0.7M649.3 217.2l9.8 -0.4M671.6 217.3l7.8 0M691.3 216.5l8 0.4M710.1 216.1l6.5 1.5M728.7 216.5l7.6 0M750.5 216.2l9.1 -0.7M769.7 215.2l8.4 1.1M788.9 216.4l8.3 0.2"/></defs>
<g stroke="#82782a" stroke-width="4.7"><use href="#w35"/><use href="#w36"/></g><use href="#w35" stroke="#baae46" stroke-width="3.3"/><use href="#w36" stroke="#bfb34b" stroke-width="3.3"/>
<defs><path id="w37" d="M259.7 220.3l5.8 0.1M274.8 221.3l6.3 0M294.5 223l7.8 -0.8M315.4 220.6l5.2 1M333.7 221.2l6.1 0.3M355.1 221.3l7.1 -0M372.8 219.9l5.8 -0.2M390.7 221.8l8.6 -0.4M413.2 221.1l6.1 0.5M431.2 220.1l9.5 -0.7M451.9 221.6l5.8 -0.5M469.2 220.8l8.9 -0.5M488.8 221.1l6.8 -0M509.6 221.3l7.8 -0.3M530.4 220.8l5.9 0.4M551.1 221.5l9 -0.1M566.6 219.3l6.7 0.1M588.3 219l7.9 0.4M609.4 220.9l6 -1M630.4 220.6l5.8 -0.4M648.2 220.3l6.6 -0.4M665.9 220l7.4 -1M690.4 219.8l5.6 -0.8M706.2 218.9l7.7 0.5M728.3 220.3l9.7 -0.1M747.1 220.2l8.1 0.2M767.3 218.8l6.7 -0.2M786.3 218.5l7.5 0.9"/><path id="w38" d="M269.5 220.8l5.8 -0M283.9 220.1l7.1 -0.1M308.2 222.1l5.8 -0.8M323.2 220.6l7.1 1M344.5 221.5l6.5 0.2M369.3 221.6l2.1 -1.6M381.2 221.1l6.5 -0.2M405.4 221.1l7.6 0.1M425.2 220l5.2 -0.7M440 221.7l9.9 -0.3M461.4 221.7l8.8 -0M477.9 220.2l7.5 0.5M500.7 219.9l8 0.7M517.3 219.8l9.9 -0.2M539 218.9l5.1 0.5M559.1 218.9l9.1 0.1M579.6 221.5l6.2 -1.1M598.3 219.8l8.6 0.2M620 220.9l8.9 0.7M637.9 219.2l8.3 -0.2M659 220.7l7.2 0.2M678.2 220.3l8.9 0.4M698 219.2l8.2 0.3M717.2 218.5l9.8 0M731.8 218.8l10 0.1M753 219.2l7.5 -0.4M772.7 219.7l8 -0.4M797 218.4l6.5 -0.4"/></defs>
<g stroke="#82782a" stroke-width="4.8"><use href="#w37"/><use href="#w38"/></g><use href="#w37" stroke="#b6aa42" stroke-width="3.4"/><use href="#w38" stroke="#c4b850" stroke-width="3.4"/>
<defs><path id="w39" d="M249.1 225.6l10 -0.2M270.3 225.4l7.8 -0.5M288.1 223.4l7.9 0.1M310 224.6l7.3 -0.3M330.7 223l7.4 -0.1M347.9 223.2l5.5 0.8M370 223.9l8.3 0.9M386.6 223.2l9.1 -0.1M410.3 223.7l6.2 0.5M427.6 223.2l6.9 -0.6M449.9 222.5l7.6 -0.5M464.5 222.5l7 -0.2M489.3 222l5.1 0.6M509 223.4l5.4 -0.5M524.4 223.1l5.9 -0.3M546.8 223.9l6 -0.5M563 222l6.9 0.8M584.7 222.5l5.9 0.1M607.6 223l7.7 -0.2M623.9 223.1l7.7 0.2M648.6 222.5l1.3 -1.7M663.4 222.2l7.9 -0M685.8 222.5l8.7 -0.1M703 222l9.4 0.2M726.7 222.4l6.3 0.5M741.1 221.3l8.7 0.1M763.1 221.6l7.3 0.8M782 222.7l6.3 -0"/><path id="w40" d="M260.1 223.5l9.2 -0.3M279.8 223.8l8.4 -0.2M300.2 223.7l9.7 0.1M322.7 222.5l5.6 1.5M338.6 223.6l7.3 -0.4M359.2 223.2l8.9 0.8M379.1 224.4l4.6 -0.9M395.3 223.5l7.9 -0.1M417.8 222.8l8.6 0.9M437.2 222.9l4.6 1.4M459.3 223.6l5 0.7M474.4 221.8l7.8 0.4M494.7 223l6.5 0.5M517 222.9l9.4 -0.2M537.1 224.4l10.3 -0.2M556 223.1l8.4 -0.5M574.3 223.4l7.4 0.7M597.8 223.9l8.2 -0M615 222.6l8.5 -0.3M635 221.1l6.3 0.6M654.9 223.1l10.1 0.4M672.3 222.8l9 -0.2M696.7 222.9l7.8 -0.3M712.8 220.8l8.5 0.4M735.3 221.6l4.5 1M752.8 221.4l10.2 0.2M775.9 222.9l6.6 -0.4M794.3 221.6l7.1 -1"/></defs>
<g stroke="#82782a" stroke-width="4.8"><use href="#w39"/><use href="#w40"/></g><use href="#w39" stroke="#b1a53d" stroke-width="3.4"/><use href="#w40" stroke="#baae46" stroke-width="3.4"/>
<defs><path id="w41" d="M251.8 226.2l6 -0.6M270.9 225.6l6.5 1.2M287.5 226.3l5.6 -0.5M308.2 225l7 1.2M327.5 227.7l10.2 0M349 226.7l9.1 0.6M368.5 226.5l7.5 0.9M386.9 225.8l9.1 -0.2M410.2 227l5.5 0.4M430.7 225.3l5.2 0.5M448.3 225.4l6.4 -0.7M465.9 226.6l8.5 -0.3M486.4 226.7l9.8 0.3M506.2 226.3l6.1 0.2M529.5 226.2l5.9 -0.3M544.3 227.7l6.7 -0.8M566.8 224.2l8.5 0.5M589.4 226.7l5.7 0.5M608 225.8l6.2 0.1M622.7 226.2l10 0.2M645.8 224.7l7.1 0.6M666.4 224.6l6.1 0.7M684.2 224.6l5.5 -0.7M704.5 226.4l6.7 -0.4M723.3 224.5l9.8 0.8M746.8 224l6.9 0.1M768.3 225.9l8.7 0.1M783.7 224l8.6 0.2"/><path id="w42" d="M256.6 226.4l7.7 0.9M280.5 225.8l8 0.7M297.9 226.8l4.5 1.5M320.1 226.4l6.5 -1.4M337.9 227l8 -0.9M361.4 226.3l5.9 -0.2M379.2 225.8l8.8 -0.3M399.3 225.8l5.4 0.4M417.1 226.7l5.9 -0.9M434 226.6l8.5 0M455.6 225.4l7.8 -0.3M476.1 227.1l6.4 -0.4M500.3 227.3l6.6 -0.7M516.6 225.5l9.8 0.3M534.9 226.8l6.8 0.4M559.5 224.3l7.1 0.7M574.6 224.7l6 -0.3M597.5 225.9l8.9 -0.5M614.6 224.8l10.1 0.4M634.3 225.7l8.5 0.2M658.3 226.1l5.6 0.6M675.3 224.2l7.7 -0.4M695.8 224.8l9 -0.1M715.1 223.9l10 0.1M733.4 224l8.3 0.3M753.1 225.1l9 1M776.9 225l8.3 0.5M793.3 225.9l10.4 0.1"/></defs>
<g stroke="#82782a" stroke-width="4.9"><use href="#w41"/><use href="#w42"/></g><use href="#w41" stroke="#bfb34b" stroke-width="3.5"/><use href="#w42" stroke="#b6aa42" stroke-width="3.5"/>
<defs><path id="w43" d="M245.7 230.1l6.4 0.6M258.5 230.1l10 -0.6M280.3 230.6l9.1 0.1M298.7 230.5l9.5 -0M322.7 230.7l8.3 -0.6M345.4 228.9l7 0.2M360.4 230.3l7.3 -0.8M379.5 230.2l7.6 -0.7M400.2 230.7l9.9 -0.8M422.5 230.5l9.9 0.1M444.6 227.7l8 0.5M463.9 229.8l8.5 0.3M480.5 227.8l8.3 0.2M502.2 229.5l9.7 0.7M519.4 229.9l7.4 0.1M540.3 229.1l6.5 0.3M562.3 227.3l9 0.3M581.2 228.1l8.8 0.1M600.5 229.4l7.2 -0.9M620.9 228l6.3 0.6M645.4 227.3l6 -0.1M663.4 227.4l6.9 -0.3M684.6 227.9l9 -0.4M704.2 229.7l5.5 -1.1M724.4 227.1l6.6 -0.5M739.1 227.3l9.7 -0.1M762.2 228.1l5.8 -1.4M783.3 227.4l6.3 0.5"/><path id="w44" d="M252.6 228.7l6.8 -0M273.8 229.9l9.4 0M292.1 229.2l7.5 -0.6M312.2 230.5l7.6 0.9M333.9 230.5l5.9 -1.3M354.6 229.7l5 0.5M368.8 229.7l9.2 0.7M390.8 231.2l9.4 -0.8M410.7 228.9l5.6 -0.9M432.8 229.1l8.6 0.9M453.9 228.6l7.2 -0.1M472.6 230.5l9.2 -0.1M491.9 227.8l5.9 0.3M510.6 228.7l9 0.6M533.7 230.5l4.7 -0.8M551.7 229.7l8.4 -0.2M570.3 227.1l6.4 0.7M594 228.9l10.1 0.3M613 229.1l8.8 1.2M634.6 227.9l5.8 0.3M655.5 228.7l5.8 0.6M672 228.4l8.8 -0.1M692.2 227.2l6.7 0.3M713.2 227.2l7.7 0.4M731.3 227.1l8.6 0.1M755.9 228.9l6.5 0.3M775.6 226.5l5.9 -0.1M795.6 226.9l7.3 -0"/></defs>
<g stroke="#82782a" stroke-width="4.9"><use href="#w43"/><use href="#w44"/></g><use href="#w43" stroke="#c4b850" stroke-width="3.5"/><use href="#w44" stroke="#b1a53d" stroke-width="3.5"/>
<defs><path id="w45" d="M244 232l6.9 -0.4M260.1 233.9l5.2 0.8M280.8 234.2l10.2 0.2M304 233.6l6 -0.1M321.8 233.4l6.6 -1.6M341.7 231.8l5.1 0.5M359.6 231.8l6.2 0M379.1 232.6l10.4 -0.1M403.2 232.1l9.1 0.7M420.5 233.2l7.7 -0.2M445.6 231.3l5.8 -0.8M464.7 232l4.9 -0.9M484.9 232.2l7.6 0.3M505.6 232.5l7.2 1.2M523 230.4l6.6 0.4M546.4 232.3l5.9 -0.3M563.4 231.3l6.9 0.1M582.3 231l8.4 -0M602.4 231.6l8.3 0.5M623.8 232.6l8.8 -0.1M644 232.4l10 0.1M668.2 232.9l6.7 -0.6M687.3 232l4.4 -0.7M707.4 230.9l7.6 0.1M724.9 231.1l10.2 0.8M747.4 232l5.9 -0.9M764.9 229.3l10.3 0.7M785.5 230.5l5.7 0.6"/><path id="w46" d="M252.6 233.5l9 0.2M267.7 233.1l8.1 -0.2M292.8 231.6l6.7 -0.4M313.6 232.7l8.2 -1.1M330.4 233.8l6.7 -0.2M353.5 233.4l7.9 0.2M371.5 232.9l6.2 -0.5M390.6 233.4l5.8 -0.6M409 232.8l7.6 1.3M430 233.7l8.4 -1M448 233.6l9.2 -0.6M473.4 232.4l7.6 0.4M490.2 232.2l9.2 -0.4M515.3 231.3l4.7 -1.3M530.3 232.1l7.2 -0.4M553.8 232l8.2 0.1M574.9 231.1l7.4 -0.1M593.9 231.3l9 -0.4M615.1 231.2l6 0.2M632.6 230l6.1 0.3M656.8 231l6.2 -0.8M672.6 231l6 -0.7M693.5 230.4l5.5 -1M716 230.7l8.7 -0.5M732.8 230.3l10.6 0.1M754.3 230.2l7 0.1M777.4 231l9.3 0.6M793.3 229.6l7.6 0.1"/></defs>
<g stroke="#82782a" stroke-width="5"><use href="#w45"/><use href="#w46"/></g><use href="#w45" stroke="#baae46" stroke-width="3.6"/><use href="#w46" stroke="#bfb34b" stroke-width="3.6"/>
<defs><path id="w47" d="M241.3 234l6.6 1.4M264.3 234.1l9.2 0.7M284 236.4l4.9 1.5M301.8 237.1l8 -0.2M323.7 236.3l9.8 0.2M345.9 234.2l6.9 -0.2M365 234.4l9.6 -0.2M382.8 235.9l8.7 0.4M399.6 235.9l9.8 0.2M425.7 235.3l5.9 0.7M445.8 235l7.1 0.6M466.5 233.6l9.2 0.1M483.7 233.4l9.3 0.5M507.6 233.2l7.1 0.6M527.9 234.4l6.2 0.1M545.9 235.7l8.9 -0.9M565.1 236.7l8.1 -1.4M587.4 236.5l7.4 -1.1M607 235l7.7 0M627.6 235.7l8.3 0.3M650 235l2.8 -1.6M668.5 234.4l7.9 -0.8M687.8 235.1l7.4 -1.4M707.1 234.7l8.8 0.2M732.1 232.9l7.7 -0.7M750.2 233.5l7.2 -0M771.8 234.7l8.5 0.8M794.5 235.7l2.9 -1.8"/><path id="w48" d="M256.5 234.4l4.5 0.9M274.6 236.5l6.1 0.7M294 236.9l6.8 -1M314.1 236.4l8.2 -0.1M329.9 236.5l5.9 1M353.2 236.1l8.2 0.6M373.5 236.5l8.9 0.8M396.1 236.7l6.1 -0.6M416.2 234.4l6.5 -0.4M437.5 236.1l4.5 0.9M452.9 236.4l7.3 -0.4M477.1 234.5l8.7 -0.1M493 234.2l6.4 -0.6M518 235.9l7 0.1M536.3 235l6.5 -1M558 233.6l6.3 0.4M577.6 233.7l8.2 1M597.2 233.6l8.6 -0M616.4 236.1l7.8 -0.5M637.4 234.5l4 -1M655.3 233.2l9.1 0.2M678.5 232.8l8.3 -0M700.7 234.4l8.4 0.2M718.7 234.8l8.3 0.6M740 234.2l10.5 0.1M764.2 233.4l5 -0.7M782.3 233.6l4.9 -0.8M802.8 234.3l6.8 -0.7"/></defs>
<g stroke="#82782a" stroke-width="5"><use href="#w47"/><use href="#w48"/></g><use href="#w47" stroke="#b6aa42" stroke-width="3.6"/><use href="#w48" stroke="#c4b850" stroke-width="3.6"/>
<defs><path id="w49" d="M247.3 237.6l6.1 0.8M265.2 238.7l5.1 1.2M282.5 239l6.8 -0.2M304 240.3l9.2 -0.8M325 239l4.1 0.9M346.6 237.9l8 0.4M367.5 239.4l8.1 -0.4M386.5 238.9l7.2 0.1M405.4 237.8l7.4 -0.4M427.7 237.3l9 0.3M451.3 238l7 0.1M467.7 238l6.8 -0.6M489.8 238.8l6.6 -1M507.5 238l9.7 -0.5M527.4 237.3l8.9 0.6M551.4 238.9l6.2 -1.2M573.6 239.5l6.2 -1.5M590.5 238.5l6.4 0.7M611.6 237.9l7.2 -0.7M630.9 236.8l8.1 -0.4M653.7 237.1l5.4 0.7M677.5 236.6l7.1 0.3M696.5 236.1l8.5 0.1M716.7 237.9l8.1 -0.5M735.3 236.2l6.7 0.1M754 237l8.2 0.6M780.1 238.4l5.3 -1.5M801.7 236.9l7.8 0.7"/><path id="w50" d="M254.9 239.1l9 -0.7M272.7 239.9l8.8 -0.8M295.1 237.6l5.5 0.8M314.2 238.9l8.4 -0.9M339.3 238.1l6.2 -0.6M356.5 238.1l7.3 0.9M379.2 237.7l4.9 -0.9M398.5 237.3l4.6 1.9M414.8 239.9l7.8 -0.5M435.4 238.4l7.5 -0.2M462.3 237.8l6.1 -0.1M479.3 238l6.8 -0.1M498.4 239.6l6.2 -0.4M518.3 237.9l8.7 0.2M543.7 238.9l6.1 0.5M564.1 235.9l6 1M580.9 238.3l8.4 0M604.6 236.7l5.9 -1.2M625 237.7l7 0.5M646.1 238.6l6.9 0.6M664.8 237.6l7.8 0M686.6 238l7.7 0M706.1 236l9.4 1.1M728.1 235.7l7.3 -0.2M750.2 238.5l4.7 -0.8M766.2 237.5l9.2 -0.8M787.8 236.1l7.5 0.3M807.5 235.9l10.4 0.4"/></defs>
<g stroke="#82782a" stroke-width="5.1"><use href="#w49"/><use href="#w50"/></g><use href="#w49" stroke="#b1a53d" stroke-width="3.7"/><use href="#w50" stroke="#baae46" stroke-width="3.7"/>
<defs><path id="w51" d="M240 241l7.3 0.7M258.1 241.9l8 -0.6M276.6 241.9l4.8 1.1M301.4 241.2l6.1 0.1M320.3 241.7l8.3 -0.6M339.7 241.6l9.2 0.7M363.8 242.5l7.2 -1.3M380.3 240.2l9.4 -0.3M400.7 242.2l7.3 1.3M422.9 240.2l9.8 -0.6M441.3 242.3l5.2 0.6M464.9 241.2l9.2 0.4M483.3 240.3l9.5 -0.5M502.2 241.4l10.1 -0.5M528.3 242.6l9.2 -0.2M544.6 242.5l8 -1.1M568.4 240.5l7.8 0.1M586.7 240.9l4.9 -0.8M609 240.1l5.7 -0.4M632.3 239.8l8.5 0M648.1 239.9l9.5 0.7M671 239.9l10.1 0.3M693.4 239.2l7 -0.7M713.9 239.8l9.4 0.7M730.9 241.6l8.9 -0.5M754.8 240.7l8.2 1.2M774.2 240.7l7.6 0.8M793.8 240.2l7.4 -0.8"/><path id="w52" d="M245.7 243.8l8.6 -0.6M267.5 240.6l7.5 0.1M288 241.7l6 0.7M311.5 242.5l7.3 -0.1M330.5 242.9l7.2 -0.1M353.2 241.7l7.7 -0.6M371.2 242.2l7.2 -0.2M395.7 242.8l5 -1M410.3 240l7.8 1M433.4 239.9l7.8 -0.1M456.2 240.9l8.3 -0.8M470.8 240.6l10.2 0.4M493.3 242.5l9.5 -0.7M515.5 241.3l6.3 0.1M536.7 241l6.9 -0.3M557.1 241.3l6.7 -0.7M575.7 239.6l6.5 -0.5M601 238.8l8.5 1.1M616.6 241.4l9 -0.5M637.9 240.7l9.4 -0.8M660.4 240.2l9 -0.5M683.2 241l8.3 -0M705.5 241.5l5.6 -1.2M720.2 239.7l9.8 0.7M744.8 239.2l6.7 0.4M767.7 241.4l6.8 -0.1M789.2 240.3l7.2 0.1M802.8 239.6l9.7 -0.4"/></defs>
<g stroke="#82782a" stroke-width="5.2"><use href="#w51"/><use href="#w52"/></g><use href="#w51" stroke="#bfb34b" stroke-width="3.8"/><use href="#w52" stroke="#b6aa42" stroke-width="3.8"/>
<defs><path id="w53" d="M233.3 243.7l4.7 1.2M256.3 246.4l5.7 0.5M273.1 243.9l10.3 -0.4M291.8 244.6l9.7 -0.6M316.4 244.3l5.8 0.2M336.3 244.3l6 1M357.1 245.7l9.5 -0.2M379.3 244.4l9.4 0.9M399.2 245.6l7.7 -1.5M421.4 242.5l4.2 1.7M439.9 243.4l7.8 -0.5M462 243.9l7.8 -0.7M482.9 245.6l8.4 0.3M501.9 245.3l10 -0.2M522.3 243.8l9 -1.1M542.9 242.8l6.7 0.2M567.4 243.1l8.3 -0.2M587.8 244.5l7.6 -1.2M610.3 244.3l7 0.1M630.4 242.7l6.8 -0.2M649.6 244.1l6.7 -0.4M671.6 242.6l8.6 -0.4M692 243.3l6.5 0.4M711.1 244.4l7.3 -0.4M730.2 242.5l8.7 -0.5M756.5 243l8.9 0.7M775.8 243l8.4 0.8M799.5 244.2l6.4 -0.1"/><path id="w54" d="M241.3 245.2l10.2 -0.7M266.8 244.6l9 -1M282.3 245.9l8.1 -0.5M310.2 243.5l5 0.9M328.3 243.3l5.4 1M350.9 244.2l6.8 -0.4M365.8 246.7l8.8 -1M388 246.3l7.5 -0.4M407 245.5l8.4 -0.5M431.9 243.7l6.1 -1M447.5 243l10.1 0.6M468.6 245l10.4 0.2M495.1 244.2l5.7 -0.6M511.4 244.3l6.9 -0.2M535.7 243l5.6 -0.6M557.6 243.3l8 0.5M579.3 244.1l7.5 -0M598.7 245.4l10.7 -0M621.4 243.7l5.9 -0.4M641.7 242.1l6.4 1.7M662 243l5.6 -0.9M677.4 243l10.8 0.2M702.8 242.3l7 0.1M721.7 243.8l8.2 -0.6M742.3 242.2l6 -0.3M765 244.2l6.2 0M786.7 243.3l3.4 1.2M810.5 244.2l7.3 -0.1"/></defs>
<g stroke="#82782a" stroke-width="5.2"><use href="#w53"/><use href="#w54"/></g><use href="#w53" stroke="#c4b850" stroke-width="3.8"/><use href="#w54" stroke="#b1a53d" stroke-width="3.8"/>
<defs><path id="w55" d="M240.3 247.1l7.5 0.1M254.5 249.8l7.5 0.2M279.6 248.8l9.9 -0.6M298.9 248.8l8.7 0.4M320.3 249l10.3 -0.2M340.5 246.4l8.7 0.4M362 246.9l9.4 -0.1M383 247.2l10.5 -0.7M404.4 247.1l9.4 -0.1M427.5 248l10.6 -0.3M447.4 246l6.5 0.2M465.3 247.4l8.8 -0.3M492.2 247.4l7.5 -0.2M510.1 246l5.7 1M532.3 245.7l5.8 0.4M549.4 248.8l9.5 0.1M571.1 246.6l5.6 -0.8M597 246.9l7.4 -1M612.8 248l9.3 0.1M635.9 245.3l6.3 0.2M655.3 245.1l7.8 0.3M681.2 245.8l8.3 -0.2M699.4 247.6l6.6 0.1M720.3 247.1l6.8 0M742.1 246.9l7.4 0.5M761.3 247.1l9.6 0.5M784.5 247.6l5.8 -1.2M808.8 246.5l6.7 -1.3"/><path id="w56" d="M246.2 247.5l8.5 -0.1M271.9 248l6.3 1M289 248.1l10.7 0.1M307.1 249.4l9.9 0.7M331.8 247.7l6.4 1.3M355.9 246.9l5.9 0.6M371.6 246.5l7.1 0.8M398 248.6l6 -0.6M416.9 246.9l7 0.2M438.4 247.9l6.4 -0.4M455.5 246.4l8 1.5M475.8 247l7.7 -0.1M496.8 246.5l8.8 0.7M517.7 248.3l10.7 0.4M540.8 248.9l6.8 -1.1M566.7 247.7l6.1 0.3M587.1 248.2l3.6 -1.1M605.2 245.1l8.1 0.9M629.5 248.6l7.6 -1.2M648.1 248.5l8.3 -0M665.9 247.7l10.7 0.7M688.3 246.4l9.4 -0.5M708.4 248.3l8.3 -1.3M730.3 245.9l5.4 -1.5M751.6 246.2l10.1 1.1M770.9 247.4l10.6 0.1M797.6 248.2l3.5 -1.3M813.6 246.3l10.8 1"/></defs>
<g stroke="#82782a" stroke-width="5.3"><use href="#w55"/><use href="#w56"/></g><use href="#w55" stroke="#baae46" stroke-width="3.9"/><use href="#w56" stroke="#bfb34b" stroke-width="3.9"/>
<defs><path id="w57" d="M229.3 252.3l8 -0.2M252.1 250.1l10.3 -0M272.3 250.2l4 0.9M291 252.5l10.6 0.2M312.9 250.5l7.4 -0.2M336.1 251.4l10.9 -0.5M354.8 251.8l7.6 -1.2M376.4 251.2l6.7 -0.3M401 251.2l8.3 0.3M418.4 249.5l8.4 0.1M440.6 251.1l6.2 -0.3M462.6 251.7l6.7 1M481.3 249l10.2 0.6M503.3 250.3l10.6 0.3M525.3 251.7l7.7 0.4M547.3 250.6l8.5 -0.1M566.2 251.3l8.8 1.2M589.7 252.3l8.4 -1.2M611.8 251l6.2 0.3M631.6 248l9.8 1.2M654.8 251.7l6.1 -0.8M674.1 251.6l9.8 -0.1M695.2 248.2l7 0.7M716.5 250.5l10.9 -0.1M736 248.9l7.4 0.2M760.8 250.7l8.2 -0.3M780.1 249.5l6 -0.9M802.8 251.5l4.2 -1.4"/><path id="w58" d="M237.8 252.5l7.5 -0.7M264 251.3l6.6 -0.4M278.6 251.8l8.4 -0.2M303.5 251.5l6.9 -0.3M324.8 249.8l5.3 0.7M342.8 252.2l6.3 0.1M368.7 249.6l7.3 0.3M384.8 249.6l9.1 0.2M408.2 251.6l6.1 0.8M433.5 250.3l4.1 1.3M451 249.2l7.4 0.8M472.3 252.4l5.5 -0.9M491.8 252.5l7.7 -1.3M517.7 250.6l7.9 -0.8M534.6 251.5l8.8 -0.7M557.7 251.3l10.2 -0.1M577 249.5l7.1 -0.2M596.7 248l8.1 1.6M624.2 251.9l7.7 -0.5M644.3 249.9l6.8 -0.3M661.6 249.3l7.5 -0.2M687.9 248.9l7.5 0.5M705.2 250.7l8.5 0.5M728.4 251.2l3.1 -1.1M751.6 250.5l8.8 0.3M767.3 249.7l10.8 -0.3M790.5 249.9l9.8 -0.7M814 248.2l6.5 -0.5"/></defs>
<g stroke="#82782a" stroke-width="5.3"><use href="#w57"/><use href="#w58"/></g><use href="#w57" stroke="#b6aa42" stroke-width="3.9"/><use href="#w58" stroke="#c4b850" stroke-width="3.9"/>
<defs><path id="w59" d="M228.8 254.6l7.4 1M251.7 253.7l7 -0.6M273 254.6l7.5 -0.9M293.8 255l9.9 0.8M311.3 254.8l7.9 0.9M339.6 253.9l5.8 -0.8M359.8 254.5l5.6 1.5M379.5 253.8l8.1 0.3M402.5 255.1l6.8 -0M422.1 255.8l5.9 -1.3M442.7 252.8l9.5 0.4M466.9 254l8.4 0.9M482 255.8l8.5 -0.4M503.5 255.5l9.6 -0.3M524.7 255.5l10.7 -0.2M546.5 252.8l10.3 0.8M572.1 253.7l6.6 -0.4M591.6 253.8l6.4 0M612.6 254.2l6.4 0.1M633.2 252.7l8.7 0.2M656.7 251.6l7.8 0.6M679.3 253.9l8.6 -0.5M702.7 252.8l7.4 1.1M724.9 254.6l8.5 0.1M745.2 253.5l7.1 -0.5M762.5 251.8l7.8 0.4M786.9 253.8l10.1 -0.2M812.9 254.2l7.1 0.5"/><path id="w60" d="M239.7 254.2l11 -0.2M260.8 253.3l10.2 0.4M283.5 254.9l10.8 -0.4M307.9 252.8l5.9 0.8M325.1 255.8l8.5 -0.8M347.3 255.9l6.5 0.1M369.3 255l6.8 -1.2M388.6 255.7l9.4 -1.1M408.8 254.4l6.6 -0M432.9 253.3l6.4 0.4M457.1 253l7 0.4M476.7 256.9l0.8 -2.3M495 255.2l8 -0.5M515.2 254.1l8.2 0.4M539.2 255.1l9.9 -0.3M560.7 253.6l8.8 1.5M583 254.2l2.5 1.3M604.6 251.9l7.2 0.6M624.4 252.5l9.6 1.1M646.6 252.9l7 -0.2M666.5 254.1l8.3 0M693.1 254.1l3.3 -1.2M713.4 252.8l8.6 0.3M735.2 254.9l7.2 -0.8M754.4 254.8l6.3 -0.2M773.7 254.2l7.6 -1.2M798.8 251.8l8 -0.1M823.9 254.4l4.5 -1.1"/></defs>
<g stroke="#82782a" stroke-width="5.4"><use href="#w59"/><use href="#w60"/></g><use href="#w59" stroke="#b1a53d" stroke-width="4"/><use href="#w60" stroke="#baae46" stroke-width="4"/>
<defs><path id="w61" d="M231.7 259.7l6.8 0.2M251.8 259.8l9.6 -0.8M272.5 257.6l6.8 -0.8M294.9 257.3l7.7 1M313.3 260.3l7.5 -2M338 258.2l9.1 -0.6M357.2 257.4l8.8 -1.6M379.7 258.6l4.9 -1M398.3 257.5l9.9 0.3M423.9 258l7.7 -0.7M447.7 258.3l8 0.7M463.1 258.4l8.5 0.7M489.3 259.1l8.1 -0.6M512.5 255.7l8.7 0M533.4 257.1l6.4 -0.6M553.5 257.9l7.8 0.6M578 256.1l6.4 -0.9M595 257.2l10.2 0.5M616.1 256.1l11 0.6M641 255.5l7.3 -0.4M658.5 256.3l6.7 -0.1M682.3 255.8l6 1M706.2 256.7l10.5 -0.4M724.6 256.6l7.4 -0.2M746.3 258l8 -1M773.2 257.6l5.9 -0.9M790.2 256.7l9.8 -0.3M814.6 255.5l4.1 -0.9"/><path id="w62" d="M243.5 257.3l8 -0.2M265.4 258.5l7.4 0.4M284.7 259l8.7 -0.9M306.1 259.7l9.4 0.1M326.1 256.2l5.1 0.7M345.1 257.3l9.7 -0.6M373.9 259.2l4 -1.2M391.5 256.5l9.9 -0.4M416.8 258l3.8 -1.9M434.5 258.5l10.8 -0.7M458.1 258.7l6.8 0.5M476 257.2l9.4 -0.2M501.1 257l10.1 0.8M520.9 256.1l8.9 -0.4M540.1 258.9l9.4 -0.2M565.4 257l5.3 -0.8M588.8 255l6 0.8M607.5 259.2l4 -1.1M630.1 256.3l11.3 0.1M651.7 256l7.8 -0.3M669.5 255.1l10.9 0.4M689.6 255.9l10.7 0.7M715.7 255.8l10.3 -0.2M738.2 255.3l5.9 0.7M756.6 255.2l8.4 0.3M782.9 256.7l10.5 0.3M802.7 257.7l6.3 -0.9M821.9 255.8l9.3 1"/></defs>
<g stroke="#82782a" stroke-width="5.5"><use href="#w61"/><use href="#w62"/></g><use href="#w61" stroke="#bfb34b" stroke-width="4.1"/><use href="#w62" stroke="#b6aa42" stroke-width="4.1"/>
<defs><path id="w63" d="M225.3 262.8l9.1 -0.4M250.8 261.6l6.4 0M265.3 263.6l10 -1.1M290.1 262.1l4.3 1.4M312.1 259.8l10.3 0.3M331.6 261l7.6 1.3M355.6 261.4l8.7 1.2M372.9 259.8l10.5 -0M397.9 259.6l7.9 0.6M416.2 263.2l9.2 -1.4M442.7 260.3l3 1.5M463 262.9l6.4 -0.5M482.8 259.5l10.2 0.9M507.4 261.2l4.5 1M529.4 259.6l8.4 -0.5M553.5 261.4l5.1 1.3M568.9 259.7l10.1 0.8M599 259.4l4.7 -1.3M617.9 261.4l6.3 -1.3M641 261l9.3 -0.4M659.7 259.2l7 0.1M684.1 259.7l8.3 0.3M708.1 260.4l5.6 -0.8M724.4 261.4l10.1 -0.3M745.9 259.6l7.2 -1M769.7 260.2l8.2 0.4M793.7 258.4l8.6 0.8M816.1 259.3l7.1 -0.1"/><path id="w64" d="M235.3 260.2l8.9 -0.3M256.6 264l8.7 -1.2M280.5 262.3l6.7 -1.5M302.3 261.2l4.1 1.4M323.5 262.6l10.1 -0.4M343.3 261l6.3 0.4M363.7 262.6l7.4 0.3M386.7 260.1l10.1 -0.7M410 261.4l6.7 -0M432.2 261.7l7 0.5M453.9 260.4l8.1 -0.2M476.2 259.1l9.9 0.7M494.6 260.2l10 0.2M519.1 262l10.2 -0.4M542.2 260l7.1 -0.9M561.1 260.7l8.6 -0.1M585 260.8l10.7 -0.5M604 259.9l8.8 -1.3M628.3 260.6l6.7 -0.9M646.6 260.2l7.4 -0M670.6 260.6l6.5 0.6M692.4 257.9l6 1M712.6 261.1l9.6 0.4M737.4 258.7l10.8 1M759.5 260.9l7.6 -0.1M779.8 259.2l8.5 -0.4M802 259.1l5.5 -1.4M826.2 259.9l7.5 1.4"/></defs>
<g stroke="#82782a" stroke-width="5.6"><use href="#w63"/><use href="#w64"/></g><use href="#w63" stroke="#c4b850" stroke-width="4.2"/><use href="#w64" stroke="#b1a53d" stroke-width="4.2"/>
<defs><path id="w65" d="M218.4 265.2l10.2 -0.9M242.1 265.5l5.9 0.5M262 263.4l7.8 0.2M286.5 264.7l9.2 0.4M306 266.9l7 -0.4M330.9 263.6l8.6 0.3M348.4 266.4l7.8 0.4M373.2 264l7.8 -0.9M390.1 263.9l10 -0.5M413.1 267l5.7 -1.2M438.5 264.8l7.7 -0.2M463.2 262.8l4.5 1M482.5 262.7l6.5 -0M503.5 264.6l2.3 1.6M523.8 265.9l8.4 -0M546.3 262.3l5.3 2.2M572.8 263.1l4.9 1.4M594.2 264.1l8.3 -0.2M611.5 264.1l10 0.1M634.2 264.6l8.1 -0.9M655.1 263.6l7.4 0.4M674.6 262.9l11 -0.3M699.1 262.4l9.8 0.8M722 263.1l8.8 -0.1M742.7 265.4l9.3 -1.1M766.5 262.9l8 1M792.2 262.7l7.9 -0.3M810.7 263.7l9.2 -0.7"/><path id="w66" d="M232.7 264.5l6.8 -1.1M248.9 263.9l9 -0.6M274.7 265.9l7.5 -0.2M298.2 263.9l8.9 -0.8M317.6 264l8.1 -0.4M341.6 263.7l7.8 1.3M359.7 264.9l9.3 -0.3M381.1 264.5l8 -1.3M405.7 262.9l6.4 1M425 263.2l8.1 0.3M448.6 263.1l11 0.5M471 264.4l8.4 -0M492 266.1l5.2 -1.2M512.1 262.6l6.9 -0.1M537.1 263.2l6.4 -0.4M557.4 263.6l8.9 0.5M581.5 266.1l6.8 -0.9M601.4 263.1l11 -0.5M626.3 265.2l7.3 -0.7M647.8 262.4l7.5 0.2M669.7 264l5.2 1.4M687.8 263.3l8 -0.8M711.7 265l9.5 0.6M736 264.4l6.9 0.3M753.7 261.7l9.7 1.1M774.6 262.2l11.1 -0M802.2 264.6l6.5 0.5M820.6 262.2l10.3 -0.6"/></defs>
<g stroke="#82782a" stroke-width="5.6"><use href="#w65"/><use href="#w66"/></g><use href="#w65" stroke="#baae46" stroke-width="4.2"/><use href="#w66" stroke="#bfb34b" stroke-width="4.2"/>
<defs><path id="w67" d="M214.6 270l9.2 0.8M236.7 271.3l6.6 -1.5M259.2 269.5l9.7 0M283.4 266.4l5.8 0.9M304.9 269.3l6.9 1.2M326.2 270.1l9.4 0.2M349.9 266.5l9.7 0.2M367.9 267.4l7.6 -0.5M390.8 267.5l8.2 0.3M414.5 267.1l9.7 -0.5M432.7 266.8l10.1 0.3M456.4 267.8l9.7 -0.7M479.1 267.6l6.6 0.1M499.5 268.3l7.8 0.4M526.9 267.9l8.1 1M543 267.6l10.6 0.7M566.5 268.9l8.1 -0M592.8 266.8l6.4 0.9M612.1 266.8l7.8 0.9M631.4 268.4l10.2 0.2M659.6 266.6l7.2 -0.5M680.8 267.6l8.1 0.1M699.6 267.3l8.5 -0.5M722.6 266.7l7.3 0.9M747.1 266.1l10.4 1.3M767.8 267.7l7.4 -0.7M789.7 266l7.8 -0.9M816.7 268.7l6.2 -0.8"/><path id="w68" d="M225.3 269.9l5.1 0.9M247.9 268.9l10.1 -0.3M271.8 269.8l7.3 -0.5M292.4 268.1l9.3 -0.3M315.5 267.3l6.6 -0.1M333.2 268.1l10.3 -0.6M355.8 268.6l8.6 -1.4M378.9 267.3l6.9 0M400.6 267.4l6.4 0.3M428.1 268.8l6.8 0M448 269.4l8.6 -0.3M467.9 269.6l8.9 -0.9M491.5 266.8l5.6 1.7M511.1 269.4l6.6 0.4M535.1 268.1l7.9 -0.5M560.2 267.5l3.9 -1.9M583.2 267.7l6.2 -0.6M600.6 267.2l6.8 0.9M625.6 269.3l10.7 -0.6M647 267.1l8.4 -1.6M669.9 266l6.4 -0.1M687.9 268.8l10.6 -0.2M714.4 266.5l5.4 -0.8M732.5 266.9l8.5 1.4M759.5 266.4l7.9 -0.6M777.3 266.9l10.2 0.6M805.6 268.8l9 -0.9M823.8 266.4l7.4 -0.4"/></defs>
<g stroke="#82782a" stroke-width="5.7"><use href="#w67"/><use href="#w68"/></g><use href="#w67" stroke="#b6aa42" stroke-width="4.3"/><use href="#w68" stroke="#c4b850" stroke-width="4.3"/>
<defs><path id="w69" d="M210.9 271.6l10.3 -1M232.9 272.9l6.9 0.2M259.7 270.8l10.3 0.5M278.7 272.6l8.4 0.3M299.9 270.4l10.9 0.1M325.1 274.4l8.2 -1.2M345.7 273.9l7.3 -0.7M368.2 273.9l9.6 -0.5M392.8 270.4l9.8 -0.5M412.5 270.2l8.7 0.6M432.6 273.3l9.3 0.1M458.7 272.8l8.7 -0.1M479.6 270.9l6.4 0.6M504.5 270.4l6.6 -0.3M523.6 271.8l8.7 1M548.5 270.9l8.2 0.6M569.2 272.7l5.8 -1.1M590.7 270.2l9 0.4M616.2 270.5l9.6 -0.3M634.3 271.6l11.2 -0.1M659.2 270.4l5.9 -1.7M681 271l10.4 0.7M702.1 269.9l7.3 -0.6M727.1 269.9l5.8 -0.6M750.3 268.4l7.9 1.7M769.4 270.5l8.7 -0.4M794.5 271.2l8.8 0.7M813.4 269.6l11.3 0.3"/><path id="w70" d="M223 274.2l11.3 -0.4M242.3 271.3l11.3 -0.2M267.1 272.6l8.3 -0M290.9 273.3l9.7 -0.2M314.1 272l6.8 1M333.7 273.5l6.8 0.1M355.5 273.1l10 -0.4M381.4 272.4l10.4 0.6M404.2 273.1l7.4 -0.4M424.9 273.2l7.6 -1.1M446 271.1l6.1 -0.7M468 272.3l7.4 0.5M488.9 270.5l8.7 -1.1M516.1 271.8l6.9 1.6M535.6 273.3l11.1 -0.7M560.3 270.9l7.4 0.6M581.1 270.1l6.9 -0.5M601.7 272.6l7 -0.1M622.7 271.5l9.3 0.3M649.9 272.3l11.1 -0.4M667.6 271.4l10.3 0.9M693.4 272.3l10 -0.8M710.9 270.8l11.2 -0.6M736.2 270.4l8.2 0.7M762.5 270.7l7.4 0.6M782.5 272.5l6.6 -0.8M808.9 270.5l6.9 -0.2M831.8 271.5l8.2 -0"/></defs>
<g stroke="#82782a" stroke-width="5.8"><use href="#w69"/><use href="#w70"/></g><use href="#w69" stroke="#b1a53d" stroke-width="4.4"/><use href="#w70" stroke="#baae46" stroke-width="4.4"/>
<defs><path id="w71" d="M214.3 274.9l10.2 -0.9M232.8 277.9l9.2 -0.5M253.6 276.9l7 -0.7M278.5 275.7l6.8 -0.7M298.1 274.9l7.6 1.7M326.2 274.5l7.3 -0.5M347.1 275.2l6.9 0.6M369.7 274.1l7.9 -0.7M392.6 275.4l8 -0.4M414.3 277l7.4 -1M436 277.1l7.2 -0.4M457.1 276.9l7.7 0.1M479.7 275.7l7.7 0M506.2 275.7l7 -1.5M527.1 276.2l8.6 -0.2M545.2 275.5l11.2 0.5M573.8 275.1l6.7 -0.7M592.5 273.9l10.3 -0.1M615.6 274.2l7.9 0.1M640.2 274.6l10.3 -1M659.4 273.5l8.1 0.1M684.5 272.9l6 1.2M709.5 273.9l9 -0.2M731.2 274.9l7.3 1.4M750.9 273.2l10 0.2M772.7 272.1l7.6 1.1M798.3 275l6.3 1.6M825.2 275l5.6 -1.7"/><path id="w72" d="M220.9 277.8l11.1 0.4M241 277.8l10.8 -0.4M268.7 275.1l7.9 -1.1M290.1 274l9.4 0.6M313.5 275.6l8.9 0M335.4 274.9l6.5 0.6M357.2 274.6l9.2 0.8M380.6 276.2l8.9 1.5M398.9 276.6l10.6 0M420.1 275.2l10.6 0.6M447.4 274.5l6.9 0.3M469.3 275.1l8.9 -1M491.5 275.9l10.5 -0.9M512.7 274.7l7.1 0M533 275.9l10.4 -0.3M556.5 275.4l11.4 0.1M583.4 274.7l10.4 0.4M603.5 274.1l11.5 0.5M627.6 274.1l8.7 0.6M651.9 276.6l7.9 -0.6M674.1 273.2l9.9 -0.5M694.3 274.9l6.5 -0.5M717.3 272.9l10.3 0.3M740.9 275.3l7.5 -0.8M768.1 275.9l8.1 0.3M784.3 272.5l9.8 1M809.3 274l8 0.2M833.8 272.8l7.6 -0.5"/></defs>
<g stroke="#82782a" stroke-width="5.9"><use href="#w71"/><use href="#w72"/></g><use href="#w71" stroke="#bfb34b" stroke-width="4.5"/><use href="#w72" stroke="#b6aa42" stroke-width="4.5"/>
<defs><path id="w73" d="M207.8 278.8l8 0.4M227.6 281.6l10.5 -1.2M249 279.7l10.5 0.5M276.2 281.2l9.9 -0.1M296.3 279.6l9.2 0.2M317.6 281l7.5 -1.3M339.9 278.3l10.6 -0.6M364.2 278.9l8.1 -0.1M390.1 277.2l7.3 0.5M407.8 280.2l8 -1.1M430.6 278.8l9 -1M459.5 277.2l8 0.1M478.5 281l9.4 -1.7M502.6 279l7.4 1.8M525 277.5l11.6 0.1M548.9 279.6l8.5 1.1M568.7 280.5l6.7 -0.8M593.2 278.7l6.6 -0.3M617.5 279.5l9.2 -0.6M635.3 279.4l9.8 -0.7M662.9 279.4l8.4 1.3M682.1 279.3l8.3 1.4M704.9 277.7l11.6 0.4M732.4 278.2l7.1 -0.5M751.3 276.3l11.2 0M776.2 280.1l8 -0.6M801.5 278.5l10 0.8M819.8 277.6l7.3 0.7"/><path id="w74" d="M217 279.4l10.4 -0.4M239.2 280.7l8.1 1.6M261.2 281.2l8.6 -0.5M285.5 278.8l11.2 0.1M306.8 280.7l5.7 1.1M330.6 279.9l10 0.9M353.8 278.9l7 0M378.6 277.6l8.6 0.6M396.4 278.4l9.3 -1.6M421 279.4l10.2 -0.8M444.2 280.9l7.7 0M467.6 280.7l7.2 -0.3M492.6 278l8.3 0.1M512.6 279.8l11.1 -0.3M535.2 279.6l7.5 0.8M557 280.1l7.7 -0.1M583.3 279.4l11.1 -0.2M603.7 278.1l11 -0.1M627.9 277.7l8.9 -0.3M652.7 277.2l6.7 0.2M673.8 276.1l8.3 0.7M695.6 276.9l11.7 -0.2M715.8 278.2l10.5 -0M742 279.2l6.7 -1.6M764.5 276.7l9.4 0.8M787.9 279.7l4.4 -1.3M807.9 277.4l6.2 -0.7M830.6 278.7l12.1 0.5"/></defs>
<g stroke="#82782a" stroke-width="5.9"><use href="#w73"/><use href="#w74"/></g><use href="#w73" stroke="#c4b850" stroke-width="4.5"/><use href="#w74" stroke="#b1a53d" stroke-width="4.5"/>
<defs><path id="w75" d="M211.9 283.1l5.7 -1.2M229.2 285.1l7.4 -1.2M250.4 285.4l8.3 -0M280.1 281.9l7.9 1.1M302.5 284.6l8.2 -0M322.5 282.3l9.1 -0.1M346.8 282.2l7.9 -0.2M370.3 285.4l9.2 -1M395.3 282.1l6.5 0.4M413.7 284.6l10.8 0.7M438.3 282.3l10.5 0.6M457.3 284.3l11.1 -0.2M484 282.7l8.3 -1.9M507.8 280.6l6.9 0.4M531 283.3l6.9 2.1M555.2 284.6l8.3 -1.6M573.5 281.9l8.2 -0.1M600.4 281.7l4.5 -1.6M621.7 283l7.9 0.3M646.7 281.5l7.9 0.7M667.3 283.1l8.1 0.7M690.4 279.9l11.3 0.9M716.7 283.5l7.2 0.3M739.7 281.5l9.5 0M759.1 279.5l7.8 1M782 280.4l10.1 -0.8M803.3 279.6l8.9 0.7M828.4 281.6l8.6 0"/><path id="w76" d="M221 282.3l6.7 0.7M247 282l4.1 2.1M264.3 283.1l5 1.1M290.2 284.1l6.7 0.2M309.1 284.9l8.1 -0.1M336.8 283l7.8 -0.4M356.1 283.3l5.2 -1.1M378.7 283.6l9.7 -0.7M401.1 282.7l10.2 0.9M427.3 282.9l4.3 -2.2M444.8 284.9l9.9 -1.4M476.1 280.6l5.2 1.3M493 280.7l8 1.6M521.4 284l7.2 -0.1M543.1 282.2l10.4 -0.1M566.5 284.7l10 -1.2M589.6 284.3l9.3 -0M611.4 283.8l8.8 -0.5M628.8 280.9l10.7 0.8M657.8 283.3l8.4 0.6M681 281.1l9.9 -1.4M699.4 281.7l9.7 1.6M726.7 281.2l10.9 -0.5M747.3 282.7l6.9 -0.5M770.4 283l9.2 -0.2M791.4 279.7l9.5 0.7M818 282.2l7 0.5M843.9 282.4l6 2"/></defs>
<g stroke="#82782a" stroke-width="6"><use href="#w75"/><use href="#w76"/></g><use href="#w75" stroke="#baae46" stroke-width="4.6"/><use href="#w76" stroke="#bfb34b" stroke-width="4.6"/>
<defs><path id="w77" d="M200.8 289.4l6.8 0.3M222 289.3l11 -1.4M242.8 288.2l11.5 -0.1M271.3 287.9l7.5 0.2M298.1 285.5l7.7 0.2M313.7 288.7l10.9 -0.7M339.7 285.8l9.3 -0.7M359.1 287.8l10 -1.5M383.8 288.6l6.2 -2.3M408.9 286.8l9.6 -1.1M433.1 287.8l8.1 -0.2M453.5 285.5l11.5 -0.3M481.3 284.9l7.9 -0.4M504.1 284.7l6.5 0.5M524 285.6l9.5 0.5M548.5 284.6l7.4 0M567.2 286.5l10.9 -0.8M593 285.4l10 -0.5M614.4 285.2l11.2 -0.3M640.9 284.3l9.1 0.6M667.9 284.5l7.7 -0.2M689.5 287.4l7.9 -0.7M712.7 287.1l9.5 -0M734.5 287.1l7.9 -0.2M760.3 286.4l4.7 -1.1M785.6 285l3.1 -1.6M804.5 284l9.2 0.5M824.9 285.2l9.3 0.3"/><path id="w78" d="M217.2 287l7.1 -0.5M236.7 288.4l7.6 1.2M260.4 287.7l4.4 1.1M283.4 287.9l9.1 -0.2M306 285.7l10.8 -0.4M331.4 288.5l7.2 -0.3M352.5 287.9l10.8 0.2M371 288.2l7.8 0.6M395.7 288.4l11.3 -0.7M421.8 286.4l8.6 -1.6M444.8 285.4l8.4 0M469.1 284.7l7.8 0.9M487.8 286.5l6.8 -1.2M514.8 285.5l7.1 1.1M540.1 288.5l4.5 -1.4M560.8 287.8l5.8 -1.8M580.4 286l8.3 1M605.6 287.7l8.1 0.1M631.5 287.5l5.6 -1.5M650.9 286.5l7.2 -0.6M674.9 284.2l10.2 0.3M702.5 287.5l7.2 0.9M722.1 286.2l10.9 0.3M745.9 287.6l10.5 -0.9M770.6 285.8l9.8 0M792.3 284.9l10.7 -0.2M819.3 287l9.9 0.6M839.1 286.1l7.8 -0.1"/></defs>
<g stroke="#82782a" stroke-width="6.1"><use href="#w77"/><use href="#w78"/></g><use href="#w77" stroke="#b6aa42" stroke-width="4.7"/><use href="#w78" stroke="#c4b850" stroke-width="4.7"/>
<defs><path id="w79" d="M195 292.3l6.9 -1.3M219.2 290.7l10.9 -0.7M241.3 291.8l8.2 0.3M265.6 291.3l6.4 0.7M292.5 292l7.9 0.1M312.7 290.7l9.9 -1.4M334.5 290l10 -0.5M360 293.3l8.3 -1.1M383.2 290.7l11.9 -0.5M405.6 290.2l8.5 0.3M433.6 289.4l5.7 -1M450.1 292.8l11.1 -0.4M477.9 289l10 -0.1M502 291.8l8.4 -0.9M522.2 291.5l5.4 -1.6M546.2 290.8l9.2 0M567.7 291.9l11.2 0.6M593.8 292.2l8.9 -0.3M616.2 290.3l6.6 1.1M637.5 291.8l9.6 0.4M661.9 289.7l7 -0.5M686.3 288.5l7.9 1.6M710 290.2l9.5 0.7M734.3 289.8l7.9 0.4M759 289.7l6.6 -0.5M785.2 290.6l9.1 1.5M808.1 289.1l8.2 0.6M824.6 288.1l11 -0.4"/><path id="w80" d="M209.2 292.9l6 0.6M228.9 293.2l7.4 0.4M254.4 292.5l9.5 0.4M273 291.2l11.9 -0.2M301.4 292l6.1 0.6M323.7 293.2l6.3 -0.8M344.4 290.1l10.1 -1.1M373.7 289.9l9 0.5M394.9 290.8l7.6 0.1M417.8 288.7l11.1 1M444.4 292.5l7 0.3M462 290l6.6 1.2M485.9 292.5l12.1 -0.3M512.5 292l9.6 0.9M533.4 291.5l9.9 -0.5M558.4 291.1l8.9 0.4M579.1 288.8l10.9 -0.4M605.4 289.1l10.4 0.1M629 292l7.4 0.1M651.7 291.3l9.4 -1.3M676.2 292l11.3 -0M694.5 288.6l10.8 -0.2M719.9 287.9l7.5 1M746.9 288.8l6.7 -0.2M769.7 288.4l6.2 -0.7M793.9 289.9l8.2 -0.4M818.6 290.6l9 -0.5M841.6 290.6l8 -0.4"/></defs>
<g stroke="#82782a" stroke-width="6.2"><use href="#w79"/><use href="#w80"/></g><use href="#w79" stroke="#b1a53d" stroke-width="4.8"/><use href="#w80" stroke="#baae46" stroke-width="4.8"/>
<defs><path id="w81" d="M201.7 297l6 1.2M225.7 296.7l10.5 -0.2M249.6 293.9l7.2 1.1M273.7 296.4l9.8 1.2M300.6 294.4l6.9 -0.3M323.5 296l8.4 0.6M347.8 293.4l10.2 -0.3M364.2 296.7l9.1 0.5M391.3 293.8l7.7 0.2M415.5 293.1l7.8 0.3M439 294.2l9.4 1.4M463.8 294.3l11.1 1M485.6 295.2l8.4 -0.5M512.1 292.9l5.4 1.3M535.7 294.9l9.3 -0.8M561.7 295.7l4.8 -1.2M579.2 296.2l6.3 -1.1M601.2 293.8l10.5 -0.3M630.9 294.6l8.1 0.4M653.7 294.6l8.4 -1.4M675.3 293.2l9.3 -1.2M700.3 293.8l8.6 0.3M724.1 292.1l11.9 -0.4M747.2 295.5l11.8 -0.2M773.8 294.8l10.4 0.8M799.3 295.1l5.7 -1.5M821.7 295.1l8.9 0.2M839.5 293.3l11.3 0.1"/><path id="w82" d="M217.5 295.6l9.9 0.7M237.1 294.3l6.8 0.7M262.2 297.2l9.9 0.2M285.5 295.3l8.2 -0.2M313.5 292.9l6.5 0.7M329.8 294.1l8.6 0.1M351 296.5l11.7 -0.8M377.6 294l7 -0.5M399.4 293.4l11.3 0.1M423.3 296.5l9.2 -0.5M452 296.2l6.2 -1.3M471.2 293.1l12.1 0.1M500.1 294.3l10.4 0.6M519.4 296l6.6 -0.9M543.2 292.6l9.7 -0.1M567.6 293.7l6.9 0.3M595.8 295.9l8.7 0.2M618.1 295.4l9.7 0.9M636 293.1l10.5 0.3M662.7 293.8l9.4 -0.4M685.6 295.8l10.9 0.3M711.2 292l6.9 0.5M733.2 292.6l9.2 0.9M759.7 292.4l11 -0.5M785 295.3l9.9 -0.4M805.3 294.7l7.9 1.3M830.5 293.9l8 -1.6M854.6 294.5l10 -0.5"/></defs>
<g stroke="#82782a" stroke-width="6.3"><use href="#w81"/><use href="#w82"/></g><use href="#w81" stroke="#bfb34b" stroke-width="4.9"/><use href="#w82" stroke="#b6aa42" stroke-width="4.9"/>
<defs><path id="w83" d="M195.5 300.3l8.1 -0.3M215.3 297.6l6.9 0.4M240.1 299.2l10.5 -0.3M259 301.6l10.3 -0M284.5 299.2l11.2 -0.5M312.4 299.5l12.2 -0.9M335.1 297.2l10.7 1M358.5 297.6l7.1 1.5M384.8 298.6l8 1.9M405.2 296.9l9.3 0.7M426.2 298.1l10.7 -1.6M450.3 300.3l10.7 -0.8M478.2 300.6l11.9 -0.8M500.2 298l12.2 0.2M527.6 299.8l8.3 0.1M552.7 297l7.9 0.1M574.3 298.3l8.5 0.9M595.1 297.3l7.4 0.9M623.4 296.3l7.5 0.1M644.8 296.5l9.6 -0.4M666.9 296.5l8.7 -0M690.1 300.1l9.2 -1.1M719.7 297l9.4 0.6M735.8 297l12.1 1M764.4 299.6l7.7 -0.1M791.9 298l8.3 0.9M816.2 294.5l5.9 2.7M835.1 297.1l11.6 0.9"/><path id="w84" d="M202.6 298.7l7.3 0.3M228.7 297.8l7.4 0.3M250.9 299.5l8.3 -0.6M273.8 297.8l8.1 0M297.2 300.7l9.9 0.8M319.4 299.4l9.6 1.2M346.8 297.7l9.8 -0M371.9 300.5l8.3 -1.3M391.7 299l7.7 -0.1M419.2 300.6l11.2 -1M441.6 297.4l8.2 0.2M466 297.7l7.3 -0.2M488.2 298.3l5.1 -2M512.8 298l10.4 0.8M538.1 300l7.9 -0.7M559.9 297.5l6.5 0.7M586.1 299.5l8.6 1.2M607.1 297.5l6.9 1.4M632.5 299.5l11.6 1M658.3 300.3l9.8 -0.5M681.6 299.4l9.1 -1M707.3 297.9l6 -1.4M732.5 298.8l9.5 -0.4M751 299.2l11.8 1.1M779.5 299.7l8.1 -0.5M799.8 297.2l6.9 0.8M828.5 299.9l7.1 -0.2M847.9 295.3l8.4 1.1"/></defs>
<g stroke="#82782a" stroke-width="6.4"><use href="#w83"/><use href="#w84"/></g><use href="#w83" stroke="#c4b850" stroke-width="5"/><use href="#w84" stroke="#b1a53d" stroke-width="5"/>
<defs><path id="w85" d="M202.4 302.4l5.8 2M224.9 303.7l7.6 0.8M243.8 302l10 0.7M264.9 304.3l11.6 -0.3M293.1 305.6l8.8 0M316.4 305.3l11.1 -1.3M336.6 304l12.1 -0.1M365.6 304.6l7.6 0.4M391.2 302.1l9.5 -0.2M414.6 303l8.4 0.3M436 301.8l10 -0.2M462.7 305.3l8.1 -1.3M482 303.6l8.5 0.9M510.9 304.9l8.2 -1M533.5 300.7l9.3 0.3M555.2 302.4l8.5 0.9M584.7 303.3l8.3 1.3M603.3 302.7l9 -1.5M630.7 303.3l7.2 2.6M655 303.8l12.1 0.2M675.4 301.3l11.7 0.5M704.5 300.6l7.4 -0.5M723 300.4l7.2 -0.4M747.6 300.9l8.8 2.2M774.9 302.2l10.3 -1.1M795.3 301.9l9.4 -1.4M821.4 303.1l11 0.4M844.7 300.3l7.4 -0.5"/><path id="w86" d="M205.7 303.8l8.8 0.1M234 302.2l9.2 -0.4M258.6 303l8.1 -1M277.3 305.4l8.4 0.4M306.7 302.4l5.6 1.8M329.2 302.8l8.2 1M351.2 302.2l9.4 1M373.4 302.6l10.7 0.6M397.2 302.5l11.2 -0.8M426.1 301.8l9.4 -0.3M448 303.1l8.3 0.7M470.7 305.2l7.1 -1M494.6 302.5l7.3 0.5M522.3 304.6l8.1 0.5M544.6 303.1l8.4 -0.2M570 302.8l3.8 -1.6M594.3 302.3l8.9 1.7M614.6 301.6l10.4 -0.5M646.1 304l6.9 -0.5M663 300.3l9 0.4M685.5 301.7l11.7 1.2M716.3 304.2l12.4 -0.4M740 301.6l12.3 1M759 300.6l10.7 1.9M783.5 302.8l11 -0.9M809 299.8l12.4 0.8M837 303.3l7.5 0.2M859.6 302.9l11.7 0.2"/></defs>
<g stroke="#82782a" stroke-width="6.5"><use href="#w85"/><use href="#w86"/></g><use href="#w85" stroke="#baae46" stroke-width="5.1"/><use href="#w86" stroke="#bfb34b" stroke-width="5.1"/>
<defs><path id="w87" d="M187.1 307.3l11 -0.4M208.8 309.6l7.1 0.4M238 306.3l7.5 0.3M257.2 308.7l10.9 -0.9M286.5 306.5l8.8 -0.3M307 306.8l7 1.4M336.8 307l7.9 -0.8M355.3 309.2l11.6 -0.4M382.5 305.8l6.6 1.1M401.7 309.2l11.3 0.9M426.4 305.6l11 -0.6M452 305.7l7.7 0.8M478.9 308.1l5.3 -2M504.4 307.3l7.6 0.6M528.8 308.4l8.1 -0.4M553.3 305.7l11.8 0.4M577.3 305.2l10.4 1.8M604.9 304.5l7.2 1.5M625.6 306.1l7.2 0.4M648.4 304.7l7.1 0.3M675.9 306.3l11.7 0.8M698.4 305.9l7.8 1.5M729 307.7l6 1.3M746.1 305.6l9.1 -0.8M769.4 304.4l8.1 1.6M793.5 307.4l12.4 0.4M823.3 306.7l9.2 -0.3M849.5 305.2l1.8 -2.3"/><path id="w88" d="M198.1 307.4l9.9 -0.9M224.3 307.8l8.8 -0.8M247.5 307.6l7.7 0.1M272.5 306.9l11.9 -0.4M299.8 307.4l9.8 -0M325.3 310.4l6.5 -1.2M341.2 310.2l11.7 -0.9M371.3 307.5l11.6 -1.2M394 306.7l10.4 -1.3M416.5 308.3l11.9 -0.7M442.2 305.2l6.1 0.8M465 307.2l8.3 -0.3M487.9 304.7l9.3 1.4M513.5 309.3l12.1 -0.3M540.6 307.8l9.4 1M565.5 306.9l7.2 -1.4M587 307.2l11.3 -0.3M612.2 306l8.1 -1.7M641.1 304.4l7.3 1.6M659.2 305.8l10.2 0.2M685 306.5l7.6 -0.7M709 307.7l10.6 -0.2M734.1 305.3l8.2 0.8M763 304.5l7.7 0.1M787.9 304.6l7 -0.3M807.9 307.2l10.2 -1M836.9 308l12.3 0.6M858.8 306.5l10.5 0.2"/></defs>
<g stroke="#82782a" stroke-width="6.6"><use href="#w87"/><use href="#w88"/></g><use href="#w87" stroke="#b6aa42" stroke-width="5.2"/><use href="#w88" stroke="#c4b850" stroke-width="5.2"/>
<defs><path id="w89" d="M188.6 311.6l9 1M211.3 310.7l7.1 0.1M241.3 312.7l8.6 -2.5M259.6 310.7l7.8 -0.3M289.8 310.5l8.1 0.5M309.5 309.6l6.3 1.2M336 311.2l8.6 1.1M361.6 311.8l10.9 0.6M385 313.1l10 0.6M411.5 313.9l8.5 -0.7M429 313.5l9.5 0.3M452.6 311.8l12 -0.5M483.8 312.3l8.5 0.2M504.4 309.7l7.7 0.1M528.6 309.3l7.4 1.1M554.6 310l10.5 0.3M578.3 309.9l10.7 1M604.8 310.1l3.9 -1.5M631.1 312.3l11.2 0M657.9 312.3l8 1.1M681.6 309.9l7.5 -0.4M707.6 312.6l8.6 -0.5M728.1 311.9l4.8 2M753 312.6l11.1 0.2M781 312.3l8.1 -1.1M803.4 308.9l8.5 -0.6M826.2 312.1l9.9 -0.3M852.1 313l11 -1.2"/><path id="w90" d="M205.1 311.7l7.9 -0.3M227.9 312.1l8.7 1.2M251.7 310.6l9.7 1.5M278.2 311.6l7.9 -0.1M299.5 311.5l12.2 -1.1M323.3 310.9l4.5 1.3M347.9 314.7l7.7 -1.5M376.5 309.7l7.8 0.2M396.5 311.1l9.6 0.8M421.7 310.2l4.3 2.7M446.5 313.6l9.6 -1.2M467.5 313.2l8.4 1M495 312l9.7 -2M517.9 311.9l9.7 0.2M542.2 310.6l12 0.3M571.4 310l7.9 -1M595 312.7l12.1 0.3M616.8 311.5l9.1 -1.7M645.2 310.4l7.3 -0.2M666.7 311l12 0.1M691.2 310.9l11.9 -0.5M711.1 311l11.7 0.1M739.5 312.8l9.9 0M762.5 311.1l9.5 -0.1M788.8 309.5l6.7 -1.4M821.9 310.6l3.6 2M841.1 311.8l10.6 -1M866.8 311l6.3 -0.8"/></defs>
<g stroke="#82782a" stroke-width="6.7"><use href="#w89"/><use href="#w90"/></g><use href="#w89" stroke="#b1a53d" stroke-width="5.3"/><use href="#w90" stroke="#baae46" stroke-width="5.3"/>
<defs><path id="w91" d="M181.2 317.2l8.2 -0.4M200 315.8l10.5 -0.3M224.9 319.3l7.3 -1.3M252.3 316.3l8.6 1M271.9 317l10.7 0.3M297.4 317l10.9 -1M323.9 317.2l8.9 -1.1M349 317.9l9.6 -0.4M371.1 318.4l11.7 -1.2M403.1 315.5l6.8 0.7M422.6 317.4l10.8 -1.4M447.8 315.2l10.6 0.1M473.4 314.6l8.8 0.3M499.3 316.2l11.4 -1.3M524.4 316.4l9 0.8M546.9 314.8l11.5 -0.5M571.7 318l12.2 -0.4M599.3 314.3l7.9 -1.3M618.9 317l11.9 -0.3M646.3 317.7l8.9 -0.8M673.5 316.5l8.4 0.2M697.5 314.9l7.9 0.4M722.7 313.3l9.3 0.1M749.5 315.4l12.7 -0.4M768.1 314.2l12.6 0M799.8 315.3l8 0.4M824.3 315.7l7.1 -1.4M844.8 313.3l11.4 1.2"/><path id="w92" d="M188.8 316.6l10.4 0.4M215.5 318.5l10.5 0.3M238.2 315.5l7.1 -0.7M259.3 319.1l9.5 -1.1M290.6 314.5l8.6 -0.2M316.8 314.4l9.2 0.1M336 317.2l7.4 1M361 316.5l7.1 0.3M385.3 315.5l8.6 -0.5M408 315.7l12.2 0.2M435.3 314.6l8.4 0.1M461.4 316.5l7.9 0.5M484.2 316.7l8.4 -0.7M510.2 317.9l7.9 -0.6M534.5 317l7.9 0.1M561.1 317.3l9.8 -1.9M582.3 315l10.5 1.1M608.9 313.8l10.1 1.5M639.2 316.4l7.6 0.9M659.3 317.3l11.4 -0.4M684.4 314l10.4 -0.9M711.1 313.5l11.9 -0.7M738.1 313.9l8.3 -0.8M763.2 317l7.8 -0.1M788.1 314.8l9.2 -0.4M812 313.2l12 1.1M833.7 314l7.2 1.1M855.4 314.4l11.5 -0.4"/></defs>
<g stroke="#82782a" stroke-width="6.8"><use href="#w91"/><use href="#w92"/></g><use href="#w91" stroke="#bfb34b" stroke-width="5.4"/><use href="#w92" stroke="#b6aa42" stroke-width="5.4"/>
<defs><path id="w93" d="M185 320.8l9.8 0.4M209.9 321.5l8.2 0.7M229.9 320.9l6.7 -1M258.2 319.6l6.6 0.9M284.4 322.9l6.9 0.4M304.8 322.3l9.6 -0.4M328.9 321.8l11.4 0.5M353.5 322.2l9.2 -0M379.7 321.1l4.9 -1.5M408.7 318.5l8.9 0.2M428.9 318.6l7.9 0.1M453.1 319.8l11.3 -0.7M478.7 318.7l9.7 0.5M506.8 322.8l10.5 -0.4M534.7 319.7l6.8 -0.9M559.9 322.2l6.8 -1.2M582.3 320.4l12.8 0M603.4 322.7l9.4 -0.8M634.5 320.3l8.8 -0.4M653.8 322.4l11.7 -0.4M680.4 321.8l7.8 0.2M710 321.8l8.5 0.4M733.4 322l9.8 -0.5M759.2 320.2l3.4 -2.2M780.1 320.5l11.2 -0.9M806.4 318l11.3 0.8M830.9 319.5l6.4 -1M860.7 321.6l9.4 0.3"/><path id="w94" d="M192.5 321.5l12.6 -0.6M221 320.7l13 -0.5M243.6 319.7l7.4 -1.2M270.6 322.2l10.6 1.3M291.5 319.2l9.2 -0.6M320.6 321.5l7.3 0.2M347.4 319.7l7 0.6M367.8 321.2l9.1 -0.6M396.2 320.7l8.3 -0.6M420.8 318.1l9 1.1M440.4 322.7l12.7 0.6M468 321l9.6 0.4M490.6 319.9l8 0.7M518.6 320.1l10.5 0.1M545.6 318.4l7.8 1.1M568.2 320.1l12.1 1.1M590.1 318.9l10.3 0.7M620.3 319.1l8.1 -2.1M642.2 321.8l12.3 -0.8M667 318.2l9.2 -0.5M694.8 319.7l8.5 0.6M719 319.3l9.3 0.6M745.5 320l8.7 -0.2M769.7 318.4l5.7 -1.3M797.8 319.6l11 -1M819.3 319.9l11.5 1M846.5 319.7l9.4 -1.8M870.3 318.9l6.2 -1"/></defs>
<g stroke="#82782a" stroke-width="6.9"><use href="#w93"/><use href="#w94"/></g><use href="#w93" stroke="#c4b850" stroke-width="5.5"/><use href="#w94" stroke="#b1a53d" stroke-width="5.5"/>
<defs><path id="w95" d="M186 326l7 1.6M205.5 326.7l7.8 -2.2M228.8 327.2l8.6 1M261.5 324.9l7.8 0.4M283.3 324.6l7.4 -0.9M312.4 324.8l8 -0.5M337.8 326.1l7.7 0M357 324.9l8.5 1M384 326.3l11.1 -1.4M408.8 326.6l9.8 0.2M432.6 324.8l10.8 0.4M459.1 324.6l9 -0.7M486.1 324.8l8.8 -0.9M512.4 324l10.4 -1.4M539.2 326.6l8.9 0.5M560.1 326.1l9.9 1.5M581.6 325.2l12.6 -0.3M613.6 325.7l9.3 1.1M637.5 325.1l6.2 -1.5M666.8 323.7l7.3 2.7M690.1 326.6l9.2 0.1M715.8 325.6l8.5 -1.2M740.6 325.7l7.8 0.4M761.5 324.7l10 -1.3M793.7 324l8.2 1.9M816.8 324.8l7 -0.8M839.7 326.3l7.5 -1.7M863 323.3l12.3 -0.4"/><path id="w96" d="M198.2 323.6l7.4 2.2M221.2 325l9.3 1.2M244.3 326.6l12 -0.8M275.3 325l4.1 1.8M295.5 324.4l12.7 -0.9M320.4 328.4l11.1 -1.1M341.6 327.2l12.5 -0.7M375.7 327.3l7 -0.9M397.9 324.1l12.2 -0.9M424.9 326.9l10.5 1.1M451.4 324.3l5.3 1.3M475.8 322.8l8.9 0.6M500 325l8.2 -1.4M520.7 326.1l10.4 -0.4M551.7 325.2l8 -1.1M575.8 324.7l10.2 1.9M597.3 324.9l7.7 -0.7M627.8 324.1l9.1 2M651.6 324.7l11.1 1.9M677.5 323.8l7.6 0.3M702.9 325.9l13 0.7M727.5 323.2l11.6 -0.7M752.9 322.5l10.3 -0.5M778.8 327.1l7.3 -1.9M802.3 325.4l13.2 0.3M831.1 323l7.7 -0.3M857.7 325.6l7.6 0.2M879.6 324.7l8.1 0.2"/></defs>
<g stroke="#82782a" stroke-width="7"><use href="#w95"/><use href="#w96"/></g><use href="#w95" stroke="#baae46" stroke-width="5.6"/><use href="#w96" stroke="#bfb34b" stroke-width="5.6"/>
<defs><path id="w97" d="M176.9 328.1l10.1 1.1M198.9 332.6l9.2 0.6M224.6 331.1l8.4 -0.1M253.2 327.7l3.4 2.2M277.1 328.6l12.3 -0.3M303.5 329.9l10.6 -0.3M325.4 332.2l10.2 1M355.8 328.3l7.2 1.8M376.1 332.3l8.7 -1.4M401.7 329.6l9.8 0.3M429.8 328.1l10 0.3M456.3 330.6l9.6 0.7M477.8 331.1l7.6 -1.8M509.9 331.2l8.5 0.5M529.4 327.9l8.7 1.4M559.4 329.1l11.3 -0.5M585.9 331.2l8.6 0.3M604.6 328.4l12 -0.2M636.3 331.9l7.5 -0.7M656.3 327.2l11.3 0.8M688.4 331.2l4.5 -1.9M710 330.6l11 -0.2M738.6 328.7l12.3 1.2M763 329.3l12.2 1.7M786.9 328.4l8.7 0.3M816.6 331.7l6.3 -2.8M835.8 327.9l9 0.3M868.7 330.6l3.6 -1.6"/><path id="w98" d="M185.8 330.6l6.9 0.5M210.7 328.3l9.2 1.2M237.8 332l11.1 1.2M263 331.6l13 -0.7M291.3 328.6l10 0.1M308.1 332.6l12.6 -0.1M342.2 330.9l2 3.2M365.8 329.1l9.9 1.1M393.2 329.8l6.9 -1M413.5 327.3l8.8 1.1M439 331.7l8.1 0.8M466.8 329.3l11.1 -1.6M493.5 330.6l8.7 0.6M515.6 331l10.5 1.8M544.1 328.5l10.6 -0.3M571.6 329.5l8.9 1.4M597 328.3l12.4 0.5M621.4 328.2l9.8 0.2M647.1 331.8l11.1 -1.3M677.8 329.3l6.1 1.8M698.1 331.5l9.2 -0.6M728.1 329.4l7.5 1.5M744.9 327l10.7 0.2M775.7 330.9l8.5 0.8M802.5 327.7l9.5 -1.7M824.1 330.6l11 -0M848.3 327.8l10 0.3M880.4 331.4l8.7 -0.3"/></defs>
<g stroke="#82782a" stroke-width="7.1"><use href="#w97"/><use href="#w98"/></g><use href="#w97" stroke="#b6aa42" stroke-width="5.7"/><use href="#w98" stroke="#c4b850" stroke-width="5.7"/>
<defs><path id="w99" d="M162.8 336.5l12.9 -0.9M192.7 336.4l7.5 0.5M217.7 334l9.4 1.1M242.5 335.3l11.7 1.1M270.5 334.4l7.4 -1.2M290.1 333.4l12 -0.8M319.6 334l10 0.4M347.2 335.5l6.7 1M371.3 333.8l9.4 -1.7M393.7 336.8l6.2 1M417.3 335.8l12.2 -1.6M447.9 332.5l12.4 0.4M469.3 335.7l11.8 1.4M498.9 333.9l10.7 0.2M521.2 333.1l9.9 -0.5M550 335.2l13.2 -0.6M574.9 336.1l9.8 -0.4M603.1 330.8l7.9 2.8M625.7 333.2l8.2 1M654.9 334.4l7.2 -0.7M681.4 332.2l10.1 1.4M709.5 336.8l11.5 -1.3M729.8 336.2l11.8 -0.9M761.1 335.2l12.1 1.2M784.7 335.2l8.6 0.1M811.1 334.2l12.4 -0.6M835.9 332.2l8.6 -1.1M857.5 331.9l12.2 1.4"/><path id="w100" d="M178.7 336.2l8.3 -0.1M205.2 336.7l8.9 -0.6M233.6 333.1l4.4 1.4M250.9 335.2l12 -0.5M281.1 337.4l9.5 -0.5M303.9 336.5l10.4 -0.5M327.2 336.5l12.6 0.8M353.3 334.3l12.2 0.6M383.9 337.4l13.1 0.1M411 335.2l9.1 -2.5M430.6 335.1l12.5 -0.5M463.6 334.6l9.4 -0.6M484.6 333.6l10.6 -1.5M513.3 333.9l10.2 -1.5M538.6 332.1l10.4 1.7M561.1 336.6l9.2 0.8M588.1 333.7l9.6 0.3M614.8 333.2l9.2 0.6M642.5 333.9l6.2 -2.3M671.1 337.4l8.9 -2M691.9 335.2l8.8 -0.6M720 333.4l9.3 -1.7M750.5 335.1l5.5 2M773.7 334.9l9.6 -2.1M801.6 335.1l8.6 -0.7M824.6 332.7l10.1 -1.4M848.1 333.2l7.4 1.3M877.1 334.8l12.6 0"/></defs>
<g stroke="#82782a" stroke-width="7.3"><use href="#w99"/><use href="#w100"/></g><use href="#w99" stroke="#b1a53d" stroke-width="5.9"/><use href="#w100" stroke="#baae46" stroke-width="5.9"/>
<defs><path id="w101" d="M170.1 341.1l11.7 -0.5M202.9 340.5l9 -1M222.4 343.3l9.5 -1.7M246.9 341.1l11.8 0.5M279.1 340.7l8.3 0.6M301 339l9.1 0.3M327.6 339.8l12.5 0.6M352 340.1l12.4 -0.1M379 338.4l9.7 -0.7M406.6 339.8l6.9 -1.1M432.2 339.8l9.7 -1.2M460.2 339.6l9.9 0.2M486.9 341.7l9.2 -0.3M511.8 341.1l10.4 -1.9M536 339.4l12.9 -1M562.1 337.7l11.2 -0.5M591.5 341.6l12 -0.4M618.2 342.1l10.3 -1.1M642.6 337.1l12.4 -0.4M667.5 336.7l9.7 0.6M699.6 340.3l7.2 1.3M718.2 338.1l6.6 -2.1M747.4 340.3l9.5 -1.7M773.4 340.4l9.1 -1.2M801.7 339.6l11.3 1.6M830.7 342l8.4 -1.7M851.1 340.7l12.8 -0.3M876.1 337.2l5.5 -1.1"/><path id="w102" d="M186 339.3l9.6 -0.6M208.8 343.1l7.2 -1M237.9 338.6l12.2 -0.2M260 338.5l11.2 -0.1M289.6 341.6l6.4 1.8M314.2 336.6l6.7 2.4M346.1 337.9l8.7 1.9M366.7 337.3l8.4 0.4M394.1 342.3l8.6 -0.4M419.8 338.1l13.1 -0.4M445.5 338.5l10.4 0.7M473.3 341.9l7.4 -1.7M497.8 341.5l11.6 0.2M527.1 340.8l10.4 1.2M549.7 339.7l8.7 -1.6M576.5 338.1l11.9 -1.4M597.9 336.5l11.1 2M632.7 338.9l7.9 -0.7M657 337.9l9.3 -1M678.5 338.2l11.3 -1.4M706.1 339.7l10.7 1.5M731.3 338.4l10.1 -1.2M757.7 338.6l10.8 -0.2M788.8 336.9l10.1 0.7M809.8 340.4l9.3 0.1M838.1 337.6l12.5 -0.4M866.2 338.7l6.5 -0.9M897.2 339.5l7 -0.9"/></defs>
<g stroke="#82782a" stroke-width="7.4"><use href="#w101"/><use href="#w102"/></g><use href="#w101" stroke="#bfb34b" stroke-width="6"/><use href="#w102" stroke="#b6aa42" stroke-width="6"/>
<defs><path id="w103" d="M166.2 342.9l2.2 3.1M185.5 344.5l11.2 -1.7M212.7 345.9l9.3 0.3M241.6 342.7l8 1.2M267.9 343.2l6.5 1.9M296.1 346.5l9.5 -0.4M323.1 343.6l11.4 -1.6M347.5 344.8l12.7 -0.3M372.5 343.7l13.3 0.5M400.5 346.1l10.6 -2.4M426 346.1l13.2 0.2M446.6 347.4l11.6 -1.1M476.5 346.7l10 0.8M504.2 343.7l8.5 -0M526.6 347.2l13.5 -0.5M557.9 343.6l7.7 -0.4M582.9 345.2l10 -0M612.4 345.9l10.1 -0.1M636.5 345.2l12.5 1.3M664.3 346.4l9.5 0.5M691.5 343.9l8.5 0.8M716.2 340.7l8.5 1.9M739.7 344l8 -0.3M773.6 345l8.5 0.8M795.9 347.1l5.9 -1.2M818.6 341.2l9.7 1.5M848.9 342.2l13.2 -0.1M876.2 347.2l6.8 -2.8"/><path id="w104" d="M178.9 346.8l8.3 -0.9M200.9 345.6l7.4 -1.1M230.8 342.8l10.1 0.4M253.9 346.1l7.7 0.9M276 346.5l11.5 -0.5M303 345.9l12.3 0M336.3 343.2l7.8 0.6M358.4 346.1l8.1 -0.1M388 342.1l7.1 0.8M416.8 341.9l7.8 1.4M443.8 345.4l5 1.6M465.2 343.6l9.8 0.5M492.7 345l11.7 1.1M522.4 341.3l4.2 2.1M540.5 346.6l9.8 -1.4M572.2 346.4l8.6 0.3M597.2 347.2l8.2 -0.7M620.8 343l7.2 1.2M651.7 346.1l8 0.4M678.4 342.9l9 1.8M702.1 345.2l9.3 -0.8M727.7 344.3l7.9 0.5M753.8 342.6l12 1M782.1 344.3l8 0.6M806.1 340.9l9 2.6M838.2 346.8l10.5 -1.2M865.7 344.8l11.6 -0.2M890.1 344.3l1.4 -1.9"/></defs>
<g stroke="#82782a" stroke-width="7.5"><use href="#w103"/><use href="#w104"/></g><use href="#w103" stroke="#c4b850" stroke-width="6.1"/><use href="#w104" stroke="#b1a53d" stroke-width="6.1"/>
<defs><path id="w105" d="M160.2 349.9l7.1 1.1M191.7 349.1l8.4 0.2M211.7 350.8l10.2 -0.2M238.1 351.8l6.7 1.9M268 349.5l9.2 0.2M297 349.2l7.3 1.3M320.1 350l8.7 -1.3M347.2 352.2l12.2 0.5M375.7 350.3l13.3 -1.2M397.4 350.7l10.8 -2.5M426.8 348l10.4 -0.9M450 350.1l10.5 0.4M481.2 347.9l10.7 0.9M506.7 347.9l9.8 -1.2M533.9 349.8l11.1 -0.7M558 348.9l11.8 1.5M588.2 348.2l12.5 -0.8M615.4 350l11.9 1.7M638.3 348.2l9.5 0.3M663.8 350.5l10.8 -1M698.4 351.8l11.7 -0.9M724.9 351.4l8.7 0M747.1 349.6l10.7 0.5M772.8 348.4l8.4 -1.2M801.5 347.8l7.6 1.2M831.9 348.7l6.3 -1.4M858.8 348.1l10.5 -0.2M879 347.7l11.6 -1.1"/><path id="w106" d="M174 349.6l7.7 0.6M197.9 353.1l13.7 -0.5M232.6 348.9l10.9 -1.5M252.7 351l10.6 -1.1M279.3 350.3l10.3 -0.7M309.9 351.1l13.2 -0.6M338 348.4l10.4 0.6M363.7 349.3l7.3 -0.9M390.5 348.3l11 -0.3M413.4 347.7l8 1.1M441.9 348.9l9.7 0.6M468.2 349.4l10.6 0.7M494.5 350.3l7.2 1.2M522.8 346.7l10 1.4M550.6 347.5l7.8 -0.5M571.9 351.4l12.6 -1.4M601.5 347.5l11.2 0.6M628.8 351.3l8.9 -1.9M654 351.6l9.1 -1M677.9 348.2l8.1 -1.7M709.3 346.9l7.8 -0.3M730.9 349.6l12.2 -1.3M759.4 348l12 0.4M786.7 351l11 1.3M818.4 349.9l9.8 -0M840.9 349.2l12.7 0.3M868.1 348.5l10.4 -0.6M902.1 351.2l8.4 -0.7"/></defs>
<g stroke="#82782a" stroke-width="7.6"><use href="#w105"/><use href="#w106"/></g><use href="#w105" stroke="#baae46" stroke-width="6.2"/><use href="#w106" stroke="#bfb34b" stroke-width="6.2"/>
<defs><path id="w107" d="M153 355l8.1 0.1M181.7 356.5l12 -1.9M202.2 355.5l12.1 -0.2M231.9 353.1l7.5 2M264.7 352.7l10.1 0.7M286 354.9l9.9 2M315.9 353.9l8.2 -0.8M336.1 355.3l13.5 -1.2M362.4 356.1l13.6 0.1M392 355.9l9.2 0.8M418.6 353.5l10.8 -0.7M446.5 354.4l10.8 -1M474.7 357.1l12.7 0.9M497.3 357.7l12.4 -0.5M530.2 354.5l10.9 1.9M553.3 353.7l10.2 -1.6M586.8 352.1l8.2 1.5M611.1 352.7l11.8 0.3M636.3 353.3l12.8 -0.3M665 354.5l7.8 -0.9M693.6 357.2l8.4 -1.5M720.2 354.8l11.5 2M744.9 356.4l13.8 0.8M774.7 354.8l12.3 0.4M796.8 356l12.6 0.6M828.5 356l11.9 0.2M855.6 354.5l8.1 -0.6M888.3 357l5.6 -2"/><path id="w108" d="M170.7 356.6l8.3 0.8M189.1 357.6l10.3 -0.7M215.4 357.5l11.6 -1.2M251 353.1l7.4 1M273.6 355.5l10.2 1.7M299.5 353.6l6 1.4M323.3 354.2l11.4 -0.6M356.1 355.3l12.3 1.5M382.3 357.8l9.3 -0.2M404.8 352.9l11.5 1.6M435.6 357.2l11.8 0.6M459.9 356.9l12.5 0.4M490.3 356.9l13.3 -0.8M517.2 355.9l13.4 -0.9M545.4 357l5.4 -2.1M572.7 353.1l8.6 1.3M599.8 357.9l10 -1.5M626.4 356l9.4 -0.1M649.3 355.3l9.4 2M681.8 357.2l10.5 -1.3M701.9 357.6l12.4 -1.3M731.3 353.2l8 0.8M759.7 353.3l8.8 -1.2M786.3 352.7l9.2 0.6M809.9 353.2l7.7 -2.3M843 352.5l9.7 -1.4M872 357.1l9.5 -1.1M894.4 354.5l9.6 -0.9"/></defs>
<g stroke="#82782a" stroke-width="7.8"><use href="#w107"/><use href="#w108"/></g><use href="#w107" stroke="#b6aa42" stroke-width="6.4"/><use href="#w108" stroke="#c4b850" stroke-width="6.4"/>
<defs><path id="w109" d="M143 361.7l9.6 0.3M170.8 358.8l10.7 0.7M197.3 364.1l11.3 -1.3M227.1 364l13.7 -0.8M256.9 359.7l10.6 -0.5M279.4 360.6l10.7 -0.1M312.1 362.5l8 0.8M335.5 362.2l9.1 -0.5M361.3 362.1l9.5 0M390.8 361.9l12.3 -0.2M413.5 362.3l14 -0.4M442.4 361.4l8.1 -0.2M469.4 358.9l9.7 -0.8M501.7 359.6l7.7 0.5M526.1 362.6l11.6 -2M555 362.9l8.6 -1.6M576.7 358.8l12.3 -0.3M609.1 359.1l8.5 0.5M631.8 359.5l12 0.2M664 359.7l11 -0.3M689.7 358.1l11.1 0.3M717.7 363.3l7.6 -2.8M745.7 363.2l9.4 -1.2M767.8 356.7l12.3 0.8M799.1 358.8l8.3 -0.3M825.3 361.6l11.7 0M849.9 357.6l13.7 0.4M879.9 358.7l10.5 -0.7"/><path id="w110" d="M159.5 359.6l10.6 1.8M185.3 363.4l9 0M216.5 362.8l10.5 0M242.2 358.3l8.8 0.8M269.9 358.8l11.5 -0.3M293.9 363.6l11.3 -0.2M322.4 359.1l8 -0.8M347.9 359.2l9 -2M374.7 363.4l12.9 -1.4M400.8 358.2l9.3 -0.2M425.8 361.3l12.7 -1M460.7 360.3l9.1 1.5M483.7 359.9l9.4 0.7M512.1 360.2l9.8 0.1M536.7 358.9l8.5 0.3M570.1 362.1l11.9 -1.6M595.4 363.2l10.4 -0.9M626.4 362.9l9.7 -0.5M649.2 359.8l9.6 1.2M679.1 362.2l9.7 1.2M702.6 358.9l7.1 -1.9M729.9 357l12.1 1.3M755 358.5l8.8 -1.3M791.6 361.5l9.1 -1.1M810.4 358.6l13.2 0.4M837.7 358l11.8 0.2M868.4 360l6.5 -2M897.6 362.2l10.4 -0"/></defs>
<g stroke="#82782a" stroke-width="7.9"><use href="#w109"/><use href="#w110"/></g><use href="#w109" stroke="#b1a53d" stroke-width="6.5"/><use href="#w110" stroke="#baae46" stroke-width="6.5"/>
<defs><path id="w111" d="M142.3 366.8l7.4 1.1M169 365.9l9.8 0.6M195.9 364.3l8.3 1.5M222.7 365.8l9.4 -0.2M254.2 364.7l7.3 1M278.3 369l10 -0.3M308.7 366.3l8 0.9M328.6 368.3l12 0.3M362.5 367.5l9.6 0.9M390.3 369.5l9.3 -2.1M415.4 366.9l13.9 0.1M444.6 362.6l10.1 1.7M471.5 367.6l9.9 -0.9M498.7 368.6l9.2 -0M521 367.1l13 -0.4M550.1 366.2l10.6 0M577.9 365.9l12.4 1.6M611.4 368.8l6.3 -2.2M635.7 367.2l11.7 -0.6M658.3 365.7l11.9 -0.1M692.5 362.9l7.2 1.8M723.2 368.4l7.4 -1.1M748.4 368.6l10.3 -1.4M770.6 363.9l9.2 -2.6M804 367l12.5 -0.1M833.2 367.5l11.8 -1.7M853.4 362.1l13 1M884.6 363.8l9.7 1"/><path id="w112" d="M152.7 366.1l12.4 -1.3M180.6 365.8l9.2 -1.8M206.4 368.8l13.5 0.5M237.7 365.4l11 -1.1M267.3 364l8.5 -0M289.1 367.6l10.2 -0.4M321 363.7l12 0.5M342.5 364.1l12.9 0.3M376.4 365.8l11.5 -2.2M401.2 363.3l8.2 2.2M429 363.9l12.9 0.1M461.2 363.9l6.5 1.7M485.9 368l7.9 0.7M514.5 367.4l7.9 0.4M542.2 363.1l11 2.1M561 366l12.9 0.7M594.6 364.7l9.7 0.4M616.9 363.1l10.4 2M654.5 365.9l6.2 2M680.5 366.4l11.4 2.2M702.9 364.5l12.2 0.4M729.3 363.9l10.3 -1.7M763.7 366.8l11.4 0M786.7 362.7l8.3 0.6M818 367l10.3 -1.3M846.3 367.5l8.9 0.7M864.7 362.9l13.4 0.3M902.5 366.8l11.2 -0.2"/></defs>
<g stroke="#82782a" stroke-width="8.1"><use href="#w111"/><use href="#w112"/></g><use href="#w111" stroke="#bfb34b" stroke-width="6.7"/><use href="#w112" stroke="#b6aa42" stroke-width="6.7"/>
<defs><path id="w113" d="M147.8 370.8l4.6 1.7M174.2 371.6l2.1 3.4M203.3 370.1l8.5 0.1M228.1 374.1l11.2 0.5M256.1 373.4l7.6 0.8M279.9 369.5l11.6 1.9M309.1 374.6l14.3 0.3M340.3 369l10.4 0.6M368.4 374.1l11.2 0.1M390.4 372l11.3 1M418.3 372.2l11.8 -1.7M449.5 368l11.5 2.1M474.1 370.2l11.5 0.1M506.3 372.7l9.9 1.9M536.4 370.6l8.4 -0M565.5 369.3l10.6 0.4M591.3 373.2l12.7 0.9M614.4 373.2l10.5 1.6M647.3 373.1l8.2 0.1M676.6 368.4l8.8 -0.2M702.4 373.7l11.2 0.4M731.9 370.1l7.9 -3M757.3 369.6l9.1 -0.1M783.8 371.2l11.1 1.2M814.1 368.9l12.7 1.9M845.3 373l7.5 -1M868.5 371l11.3 0.1M900.6 372.6l9.4 0.3"/><path id="w114" d="M157.7 373l13.4 0.9M190 370.1l12.8 0.6M210.6 373.4l10.7 2.2M239.8 370.7l14.1 -1M270.9 372.3l10.8 -0.3M295.7 370.3l8.9 -0M327.7 372.1l9.7 -0.2M352.2 374.1l13.7 -1.4M377.6 374.7l10.3 -2.5M409.6 373.3l6.5 -2.4M434.3 370l11.1 -0.1M468.2 371.8l10 -0M495.2 372.6l10.9 1.4M515.9 370.5l13.3 -1M548 374l11.1 -0.7M580.6 371.1l9 0.7M608.1 372.1l8.1 -0.2M629.9 370.2l8.2 0.1M659.5 372.2l9.9 0.9M689.5 373.4l12.7 -0.4M719.9 370.6l10.5 1.2M744 371.7l8.6 -1.7M773.5 370.3l8.6 0.1M799.3 370.4l8.3 0M824.8 371.2l9.9 0.8M861.1 371.6l7.5 -1.4M886 368.5l11.5 0.4M907.7 368.4l8.3 -0.8"/></defs>
<g stroke="#82782a" stroke-width="8.2"><use href="#w113"/><use href="#w114"/></g><use href="#w113" stroke="#c4b850" stroke-width="6.8"/><use href="#w114" stroke="#b1a53d" stroke-width="6.8"/>
<defs><path id="w115" d="M145.2 376.2l8.5 1.1M169.7 375.8l8.9 1.8M198 376.8l10.5 0.5M225.5 380.7l12.8 -1.3M252 378.5l9.7 -0.2M285.4 379.1l12.3 -2.2M311.4 378.5l10.8 -0.1M344.6 376.8l7.1 -2M368.4 378.7l11.9 -0.5M393.8 376.9l10.4 -0.1M419.7 378.2l9.5 -0.5M451 375.7l3.7 -2.2M477.6 375.2l10.4 1.4M512.3 376.2l7.9 0.8M536.4 377.8l8.1 -0.9M562.7 379.2l9.5 -1.7M587.8 376.4l10.1 -1M617 376.5l7.7 -0.9M643.5 375.2l11.8 -0.8M680.1 375.1l9.9 1.1M702.4 377.9l8.9 0.5M732.4 378.6l14.2 -0.4M763.5 374.7l9.2 -0.3M788.4 375.9l9.9 1.7M819.9 378.8l9.8 0.5M847 373.5l11.3 2.3M871.8 378.8l13.9 0.3M904 374.3l9.1 0.4"/><path id="w116" d="M157.4 380.8l13 -1.3M185.9 374.6l9.2 1M211.5 375.7l9.8 -1.1M238.3 380.4l11.5 -1.9M270.3 379.6l11.4 -1.4M298.2 377.2l12.3 -1M329.6 375.1l7.6 1.1M355 378.6l11.6 -0.1M377 379.4l12.6 -1.1M405.8 379.9l13.3 -1.7M438.5 378.3l14.1 0.9M462.9 378.5l9.3 -0.2M490.4 377.3l11.3 0M526.6 378.4l7.1 -2M548.9 377.3l9.1 1.7M573.7 375l10.7 0.2M603.4 375l9.3 -1.1M637.1 379.5l7.9 -0.9M660.9 378.5l11 -0M692.8 374.9l10.9 -1.5M721.3 376.4l11.6 0.5M745.1 374.8l11.4 1M772.3 374.5l8.1 1.5M806.7 373.9l8.5 0.3M839.4 375.7l1.6 -3.5M864.2 378.5l10 0.8M886.6 374.2l12.1 0.9M917.4 373.9l11.1 -0.3"/></defs>
<g stroke="#82782a" stroke-width="8.4"><use href="#w115"/><use href="#w116"/></g><use href="#w115" stroke="#baae46" stroke-width="7"/><use href="#w116" stroke="#bfb34b" stroke-width="7"/>
<defs><path id="w117" d="M133.1 381.5l12.7 0.1M160.1 384.3l7.7 1.1M193.1 384.6l6 1.9M211.3 385.9l12.6 -0.3M248.3 381.8l8.9 0.7M275.5 384.3l11 -1.6M300.7 381.1l8.4 1M327.9 386.5l8.9 -1.4M351.9 386.2l14 -1.6M385.1 382.6l9.7 -0.7M412.8 384.7l10.8 -1.7M440.9 380.6l12.4 0.4M473.2 382.6l8.7 -0.6M499.6 386.1l13.3 -0.6M526.2 385.9l10.9 -1.3M555.1 381.2l14.2 0.9M587.1 385.2l9.8 0.5M616.4 380.4l8.3 -0.4M639.1 383.5l11.2 -0.7M665.2 380.3l14.4 1.4M694.9 382.6l14.3 0.4M728.7 382.3l9.5 -0.3M755.3 382.3l8.6 -1.7M782.3 382.8l11.9 -1.1M813.6 383.6l12 -0.4M843.5 381.4l13.7 2.2M872.7 383l8.7 0.9M901 383.6l4.9 -2.1"/><path id="w118" d="M148.4 383.9l3.9 2.2M170.3 383.9l13.3 1.2M204.3 381.4l12.2 0.7M229.5 385.5l12.7 -0.2M264.3 381.1l8.5 -0.5M283 384.3l13.6 -0.6M310.6 385.7l12.6 1.3M342.3 386.3l8.4 0.2M376.5 382.2l10.8 -0.9M400.5 385.6l10.9 -0.6M430.2 385.3l9.2 0.3M459.3 383.1l9.2 -0.3M486.8 385.9l11.7 -0.6M511.6 383.3l8.1 2.7M547.2 381.7l9.5 -1M572.4 383.5l11.1 -0M597.7 381.3l10 2.1M629.7 384.8l11.1 1.8M656.2 379l8.4 1.7M683.2 381.5l10.1 -0.7M712.6 383.8l13.1 0.2M745.8 385.3l9.5 -0.9M769.7 381.9l7.8 -1M802.4 380.5l7.9 -1.8M827.4 383.7l9.7 -0.1M861.3 385.6l7.9 -2.4M890.4 379.5l9.1 2.3M919.1 381.2l10.5 0.5"/></defs>
<g stroke="#82782a" stroke-width="8.5"><use href="#w117"/><use href="#w118"/></g><use href="#w117" stroke="#b6aa42" stroke-width="7.1"/><use href="#w118" stroke="#c4b850" stroke-width="7.1"/>
<defs><path id="w119" d="M121.4 388.3l12.2 -2.9M155.2 389.3l11.7 -0.5M184.8 387.2l10 -0.6M208 390.4l7.8 1.7M236.1 391.1l11.2 -0.1M265.4 392.2l10.5 -1.2M296.8 388.4l10.7 -0.1M321.2 387.2l11.6 -1.3M354.1 386.5l9.6 0.4M382.5 387.7l8.3 1.6M410.7 390l9.5 1.5M442.9 392.1l11 -0.6M468.3 391.5l7.7 1.1M500.5 387.4l8.9 -0.9M527.4 390.1l11.9 1.2M556 389.3l10.6 1.5M583.1 386.8l9.6 -0.3M609.1 386.4l13.2 -0.6M643.3 389.6l12.2 -1.9M671.9 391.9l8.4 -0.6M697.2 387.5l7 1.7M725.5 388.3l9.6 2.2M760.4 390.4l6.8 -2.5M787.7 390.7l8.6 1.7M820.2 391.1l10.8 0.7M847.1 385.7l10.3 1.2M871.1 389.1l12.3 -1.3M910.3 391.7l6.4 -1.7"/><path id="w120" d="M142.3 390.5l10.1 -0M169.5 387.1l12.1 -0.6M191.2 391.7l13.2 -2.6M227.1 390.9l9.8 0.4M253.2 388l10.4 1.3M285.4 389.5l8.4 -0.3M306.6 387.1l11.8 -0.2M337.7 390.8l13.3 1.4M371.9 389.4l9.7 1.2M393.1 387l12.6 0.7M426.7 388.6l9.2 0.3M452.3 388.3l10.7 0.8M485.5 390.6l10.1 0.2M511.2 392.8l4.9 -3.4M540.3 388.7l11 -0.7M566.4 388.8l7.9 -1.9M600.4 390l8.5 2.1M626 392l6.8 -1.7M654.3 389.9l11.7 -0.3M680.6 387.4l10 -2.7M711 389.6l13.1 0.4M745.7 389.5l13.2 -1.5M774.1 388.9l9.3 -1.1M802.3 388.2l11.3 0.5M829.4 390.4l9.8 0.5M862.6 387.3l9.4 0.5M890.2 387.5l8.8 -0.9M915.4 387.7l11.1 -1.1"/></defs>
<g stroke="#82782a" stroke-width="8.7"><use href="#w119"/><use href="#w120"/></g><use href="#w119" stroke="#b1a53d" stroke-width="7.3"/><use href="#w120" stroke="#baae46" stroke-width="7.3"/>
<defs><path id="w121" d="M122.5 394.4l13.5 0.3M151 397.1l9.8 -0.9M187.1 393.6l11.8 0.7M207.2 395.7l12.6 1M241.8 398.6l10.6 -0.8M267.2 393l10.7 -0.6M301 394.9l8.6 0.3M329.3 394.1l7.9 0.9M354.4 394.1l11.3 1.8M386.5 393.7l10.2 1.3M416.1 395.7l9.8 2M442.7 393.8l11.5 0.7M477.1 396.5l7.6 1.5M505.3 397.5l10.6 -0M531.8 394.6l13.6 -1.6M556.9 398.8l9.5 -2.7M590.9 397.7l13.8 0.1M620.1 391.8l13.7 1.1M645.2 392.9l13.2 2.3M680.2 397.2l15.3 0.7M709 393.7l12.6 -0.7M737.1 398l10.8 -0.4M761 395.7l14.7 0.4M796.7 392.1l10.6 0.5M824.5 395.6l12 1M857.2 395.3l9.1 0.8M888.4 395.7l12.6 3.4M908.5 391.9l11.8 1.3"/><path id="w122" d="M138.7 397.8l12.9 -0.7M162.6 396.8l13.1 0.9M200.6 395l12.9 -0.2M224.3 395.5l7.9 0.7M252.2 396.6l13.7 -0.2M285.7 397l9.4 -0.7M309.8 395l8.8 0.7M343.8 395.9l13.6 1.6M366.9 395.4l11.5 1.6M402.1 399.1l11.9 -1.5M428.7 396.8l10.5 -1.4M456.6 398l11.1 -1.4M487.9 392.8l8.3 0.7M515.8 396.5l9.1 1.4M544.7 395.6l12.3 -0.5M572.6 396.9l14.5 -0.5M606.7 396.9l15 0.5M630.5 395l11.4 -1.2M657.2 394.8l13.2 -1.9M689.3 393.2l12.9 1.6M721.6 394.9l14.1 0.6M747.9 394.6l8.8 -0.4M778.8 394.1l10.3 -1.4M807.9 397.4l11.9 -0M838.5 394.7l14.9 -0.1M862.4 393.8l15.1 1M894.9 393.5l11.9 1.2M931.8 396.3l12.2 2.2"/></defs>
<g stroke="#82782a" stroke-width="8.9"><use href="#w121"/><use href="#w122"/></g><use href="#w121" stroke="#bfb34b" stroke-width="7.5"/><use href="#w122" stroke="#b6aa42" stroke-width="7.5"/>
<defs><path id="w123" d="M129.1 397.7l-1.8 3M151.6 406.2l11.9 -3.6M179 403.3l12.5 -1.7M209.8 403.3l6.5 2M241.3 403.8l11.1 0.7M271.2 403.1l7.9 -1.4M294.8 402.5l12 -2.4M325.1 405.1l10.7 -1.8M355 398.7l10.5 1.1M382.2 403.2l13.7 0.7M420.7 398.3l9.7 1M442.2 400.9l8.9 0.8M472.9 400.3l10.7 -2.2M503.3 403.5l11.7 -0.8M532.8 402l9.9 1.3M562.8 404.4l10 -0.5M590.2 399.9l10.9 -2.2M621.1 399.2l6.8 1.9M653.2 402.1l14 1.3M681.9 398.1l11.7 3.2M715.3 401.1l11.3 1.5M741.8 402.1l8.4 1.9M768.6 403.5l11.3 0.2M801.4 403.2l13.8 0.9M831.4 401l11.5 1.5M856.5 397.9l14.2 1M887.3 402.3l12.7 0.8M923.6 398.6l8.8 2.3"/><path id="w124" d="M136.1 398.1l8.6 2.5M166.8 398.5l13.8 1.1M193.3 399.4l9.9 2.1M224.5 402.3l9.1 1.3M249.4 401.1l13.1 -0.8M278 403.6l11.6 0.2M308.1 402.6l11.2 -0.3M343.7 401.9l11.4 -1.5M366.2 404.2l12.6 0M403.8 401.9l10.1 2.1M428.9 402.2l14.5 0.6M460.6 399.8l8 -0.9M490.5 403.6l10.2 2.2M517.5 399.7l13.7 0.8M544.6 400.1l12.7 0.7M578.7 400.3l14.2 -1M603.2 401.6l13.2 0.1M641.8 401.1l7.6 -2.9M667.7 401.9l11.4 -2.4M697.2 402.6l14.7 0.1M728.4 403.8l14.2 -1.2M753.7 403.3l11.9 -0.6M785 403.4l11 0.2M816.3 399.9l15.2 0.4M841.1 397.8l9.6 1.6M877.9 400.4l11.7 2.4M899.8 398.7l8.4 -1.6M936.6 404l9.7 -2"/></defs>
<g stroke="#82782a" stroke-width="9"><use href="#w123"/><use href="#w124"/></g><use href="#w123" stroke="#c4b850" stroke-width="7.6"/><use href="#w124" stroke="#b1a53d" stroke-width="7.6"/>
</g>
<ellipse cx="413.2" cy="260" rx="77.3" ry="33.6" fill="#0d3517"/>
<g clip-path="url(#cg)">
<defs>
<path id="w125" d="M336.5 225.9l11.4 3.1M364.4 228.3l19.4 -3.3M417.5 229.8l-5.9 -5.6M447.8 225.9l9.7 4.6M484.4 225.7l7.9 2.2M364.5 228.4l3.2 6.9M391.7 231.9l12.1 -3.9M429.5 232.9l13.2 -4.3M469.2 229.4l8.7 2.7M346.3 232.9l0.1 6.2M378 238.5l15.9 -4.9M413 234.2l15.6 -0.3M457.3 234.4l9.8 1.8M331.4 238.4l14.9 -1.2M373.2 240.6l9.7 -2.9M403.4 237.7l19.1 1.8M440.4 237.2l13.5 -0M485.3 234.6l11.9 4.3M360.7 240l7.3 4M394.2 238.7l13.2 5M432.2 240.7l16 1.7M470.2 241.9l13 0.7M347.7 243.3l-5 3.9M375 244l9.9 2M424.6 244.3l18.7 1.3"/>
<path id="w126" d="M350.3 225.8l10.7 3M382 227.2l20 1.1M421.6 229.9l11.4 -2.3M457.8 227.6l11.4 -1.6M328.2 231.8l16.4 -2.3M379.8 232.7l-1.4 -4.3M404.9 234.6l10.8 -4.7M443.8 230l15.5 1.4M476.1 229.8l13.8 2.2M357.7 234.2l17.3 1.4M392.2 233.4l14.4 1.6M434.6 235.3l0.2 -4M468.5 232.2l14.1 3.3M347.5 242.1l2.2 -5.7M378.6 238.7l14.2 1.2M416.5 238.1l16.7 2.6M453.9 237.9l17.3 2.9M327.5 243.2l13.5 -1.1M368.6 238.6l3.4 4.8M398.8 239.3l17.5 3.5M441.4 243l11.9 -1.3M485.7 240.6l11.1 0.6M353.6 247.5l16.2 -2.3M391.4 245.8l11.3 -2.2M453.2 243.6l8 4"/>
<path id="w127" d="M356.4 229.1l11.9 -1.3M391.2 229.1l16 -1.8M425.2 227.9l18.9 -1.9M468.1 227.1l15.2 -0.9M345.9 232.3l18 -3.6M383.3 231.5l17.1 0.8M416.8 233.5l11.9 -3.3M451.2 228.3l15.9 3.7M329.4 234.2l19.1 0.9M372.6 232.2l0.5 4.1M404.9 234.2l12.4 -0.3M445.5 236.4l7.1 -5.2M484.4 230.5l6.9 6.6M348 241.1l16.4 -3.2M391.7 239.3l11.5 0.4M429.3 238.8l11.3 0.2M468.7 237.7l18.2 -2.1M342 240.6l20.4 1.2M383.5 241.4l8.8 3.3M418.1 241.2l13.6 1.9M449.1 240.6l16 3.3M324.7 249.5l12.1 -7M365.4 245.4l10.8 -0.4M415 245.9l12.1 -1.9M484.7 241.5l11.3 5"/>
</defs>
<g fill="none" stroke-linecap="round">
<g transform="translate(0 0.8)" stroke="#186127" stroke-width="3.2"><use href="#w125"/><use href="#w126"/><use href="#w127"/></g>
<use href="#w125" stroke="#2f9f3a" stroke-width="2.9"/>
<use href="#w126" stroke="#289033" stroke-width="2.9"/>
<use href="#w127" stroke="#38ab42" stroke-width="2.9"/>
</g>
<defs>
<path id="w128" d="M402.6 245.6l12.9 1.3M321.5 250.5l21.4 0.3M363.1 247l9.4 2.7M401.4 250.5l15.5 -2M443.2 251l17.5 -1.2M476.3 248.3l11.4 2.9M349.5 251.8l12 1.1M389.6 254.9l10.9 -3.2M428.1 251.8l12.7 -0.2M465.4 252l8.6 3.1M334.1 256l6.2 4.6M374.9 255.5l12.2 1.1M410.6 254.1l8.6 4.6M449.4 257.6l17 -1M316.4 259.2l17.6 3.7M353.6 261.3l19.3 -0.9M394.3 258.5l14 3.8M444.2 262.2l11.7 -2.1M480.2 263.4l15.7 -6M343.7 264.1l20.6 2.3M381.8 263.5l20.4 2.7M422.4 263.7l15 2.4M464 266.1l10.6 -1.9M358.2 269.8l17.5 -3.1"/>
<path id="w129" d="M439.8 245.6l13.9 1.4M333.2 251.7l21.5 -2M379.2 250.2l10 -3.3M416.7 250.6l9.1 -2.8M448.2 249.1l14 3M327.4 251.9l-2.2 5.9M357.7 254.4l14.4 -0.1M393.7 253.5l18.6 -1.7M441 254.6l11.7 -2.2M489.6 254.6l2.4 -6.1M344.1 261.3l17.7 -5.8M385.3 257.7l22.7 -0.2M430.6 255.9l11.6 4.7M462.3 256.7l20.8 2.6M334.4 263.6l16.8 -1.8M372.8 257.3l7.8 5.4M413.4 263.4l10.9 -2.6M451.2 259.3l16.4 3.4M320 268.1l11.7 -3.1M357.1 264.3l19.9 -0.5M393.2 266l20.8 -2.4M444.1 263.5l8.4 2.8M483.2 261.7l12.5 7M427 265.5l11.1 5.3"/>
<path id="w130" d="M462.9 247.1l20.6 -2.3M353 245.9l3.2 4.9M387.2 251l12.4 -4.1M433.3 247l7.1 3.5M471.6 248.8l10.7 -2.2M334.7 255.9l8.8 -4M371.3 252.8l17.8 2M411.6 251.1l9.2 3.2M447.4 251.1l16.4 3.5M323.8 257.3l11.7 -0.2M359.4 257.1l15.7 0.2M401.8 260.3l12.8 -4.4M443.8 256.1l11.8 -0.2M485.5 254.4l9.7 2.1M349.1 259.1l10.3 1.6M383.4 262.3l19 -0.5M430.4 261.5l10.7 1.5M461.9 259.1l18 0.8M331 266.2l17.9 0.7M370.6 265.6l15.8 1.2M415.9 262.5l10.3 2.5M447.9 263.2l11 5.8M331 265.9l14.7 5.1M459.1 266.8l15 2.3"/>
</defs>
<g fill="none" stroke-linecap="round">
<g transform="translate(0 0.8)" stroke="#186127" stroke-width="3.5"><use href="#w128"/><use href="#w129"/><use href="#w130"/></g>
<use href="#w128" stroke="#2f9f3a" stroke-width="3.3"/>
<use href="#w129" stroke="#289033" stroke-width="3.3"/>
<use href="#w130" stroke="#38ab42" stroke-width="3.3"/>
</g>
<defs>
<path id="w131" d="M319.2 270.3l13.4 -1.9M378.5 269.1l12.2 0.6M443.2 269.2l10.5 1.9M323 271.3l4 4.2M353 272l9.1 2.5M390.8 275.3l13.6 -3M438.3 269.5l18.2 5.3M482.3 274.2l13 0.7M337 277l19.2 3.7M381.5 274.1l16.5 5.5M427.3 277.4l11.6 2.6M456.8 280.4l20.6 -3.7M320.9 285.5l8.7 -8.3M369.8 281.2l14.8 0M411.3 284.7l14.6 -2.9M445.3 279.2l11 3.6M300 288.3l23.8 -4.3M351.7 285.9l17.8 -1.1M393.5 284l10.4 5.5M436.1 284.1l7.6 5.2M486.3 289.3l2.7 -7.5M331.7 290.2l16.2 0M372 291.1l13.9 1.4M424 292.3l13.3 0.7M466.5 295.4l3.9 -9"/>
<path id="w132" d="M342.4 268.6l18 4M397.1 270.9l16.1 -2.1M451.4 268.9l16.5 2.6M321.1 273.7l19.4 3.2M367.3 272.6l18.7 0.9M400.9 274.3l21 0.5M444.2 275.4l20.9 -2.5M306 276.4l17.5 0.8M357.7 274.6l14 5M392.2 278.5l12.7 2.1M440.4 276l12.3 0.9M472.2 274.2l17.7 5.7M342.9 285.4l1.6 -5.8M374.9 281.5l23.7 0.2M425.2 282.9l15.1 1.7M462.5 277.7l12 5.8M320.3 291.2l9.2 -7.6M358 289.9l20.7 -6.2M396.9 286.7l23.1 -1.1M451.6 288.8l14.8 -6.7M303.8 293.5l20.2 -3.7M338.6 291.8l23.3 -0.3M393.1 292.3l14.8 -3.9M428.6 290.6l19.9 1.4M480.2 294.3l15.8 -5.7"/>
<path id="w133" d="M367.1 267.7l16.7 2.5M413.8 268.7l13.9 3.1M475.1 271.1l13.1 -5.1M332.8 276.1l19.7 -3.7M379 273.7l16.6 0.3M419.1 274.1l20 -1.1M465.9 275.8l18.5 -4M320.7 275.5l21.3 2.7M361.2 280.9l16.8 -4.6M407.8 278.6l15.8 -0.1M447.7 283.5l12.5 -8M304 280.4l18.1 3.3M348 283.2l19.4 1.3M390.1 284.1l19.3 -0.8M438.8 284.4l13.7 -4.4M486.4 280.8l4.5 5M338.3 285.3l18.1 2.5M378.5 286.4l15 -2.3M422.4 289l18 -6.9M463.9 286.6l13.5 -2.7M326.3 295.1l8.2 -8.4M363 295.2l9.8 -4.8M401.9 290.1l10.7 4.1M449.4 289.9l11 2.7"/>
</defs>
<g fill="none" stroke-linecap="round">
<g transform="translate(0 1)" stroke="#186127" stroke-width="4"><use href="#w131"/><use href="#w132"/><use href="#w133"/></g>
<use href="#w131" stroke="#2f9f3a" stroke-width="3.7"/>
<use href="#w132" stroke="#289033" stroke-width="3.7"/>
<use href="#w133" stroke="#38ab42" stroke-width="3.7"/>
</g>
<ellipse cx="413.2" cy="260" rx="77.3" ry="33.6" fill="url(#gwell)"/>
<ellipse cx="413.2" cy="266" rx="78.3" ry="34.6" fill="none" stroke="#0a2e13" stroke-width="8" opacity="0.6"/>
</g>
<ellipse cx="686.9" cy="261.5" rx="79.8" ry="34.6" fill="#220824"/>
<g clip-path="url(#cp)">
<defs>
<path id="w134" d="M597.1 227.3l11.5 2.3M637.3 227.7l12 3.8M677.9 231l10.4 -5.1M706 227.6l19.7 -0M754.9 228.4l8.3 -1.5M618.2 233.4l17.5 -1.4M654.4 231.6l19.7 -1.8M701.2 232.5l16.1 -0.2M746.3 233.1l11.3 -0.8M611.8 235l11.4 3.4M649.1 235.8l14.5 2M688.6 233.1l21.8 2.1M726.5 233.3l17.8 2.1M599.5 239.1l10.5 0.8M639.9 241l15 -4.3M675.7 237.2l15.3 1.9M726.6 236.3l7.2 6.7M761.8 241.8l15.5 -3.3M620.4 242.3l19.8 3M670.7 242.1l10.1 2.5M703.9 244.3l10 -5.8M747.5 242.1l10.2 -1.5M607.2 248.1l11.1 -4.4M675.1 246.9l16.7 -0.2M724.7 245.4l14.7 0.3"/>
<path id="w135" d="M608.1 229.3l17.2 -0.6M644.7 229.1l12.5 -3M689.2 226.2l17.1 3.3M720.5 227.3l21.2 2.4M603.4 236.6l-1.5 -6.7M639.4 231.7l10.7 -1.2M671.9 230.1l17.9 4.2M715.7 232.8l14.7 -0.8M753.4 230.7l14.6 0.5M622.3 235.5l10.1 -0.7M662.9 234.1l9.3 3.7M706.5 235.7l12.4 -2.7M750 238.8l-3.8 -6M611.5 238.4l12.6 3M652.5 240.2l16.6 -0.3M695.9 240.1l8.4 -4.2M728.8 236.8l17.1 2M592.2 244.1l18.9 -2M630.3 244.4l18.5 -0.5M679.4 240.3l13.2 2.3M718.6 243l21.3 -0.5M769.3 243.3l12.9 0.2M620.8 246l13.2 -0M692.3 245.5l15.8 -0.2M754.5 244l8.4 3.6"/>
<path id="w136" d="M613.1 227.5l14.7 -0.2M657.3 225.6l16.6 5.2M700.9 227.9l16.4 2.1M738.6 230l13.2 -2.1M604.6 230.7l12.9 1.4M644.6 232.5l18.2 -2.4M695.6 234.2l-2.6 -3.9M725.2 230.1l11.3 2.8M592.9 236.8l11.8 -2.1M629.2 235l17.2 1.1M677.6 235.1l14.7 1.7M724.6 237l10.8 -0.8M754.6 235.4l18.7 -1.8M628.1 239.5l5.8 -3.2M667.4 237.9l16 1.3M713.9 241l1.3 -5.4M748 241.1l8.3 -1.9M607.7 240.7l9.7 3.5M652.8 244.8l12.2 -1.7M690.7 242.4l12.3 0.7M738 239.1l4.8 6M595.7 246l20.1 2.7M642.9 247.8l4.8 -5.1M704.3 247.7l19.7 -2.1"/>
</defs>
<g fill="none" stroke-linecap="round">
<g transform="translate(0 0.8)" stroke="#3e1038" stroke-width="3.2"><use href="#w134"/><use href="#w135"/><use href="#w136"/></g>
<use href="#w134" stroke="#6c2057" stroke-width="2.9"/>
<use href="#w135" stroke="#601b4e" stroke-width="2.9"/>
<use href="#w136" stroke="#78255f" stroke-width="2.9"/>
</g>
<defs>
<path id="w137" d="M659.8 246l9.6 3.4M766.5 247.8l11.8 -0.6M625.5 248.9l6.4 4.9M667.1 250.7l19.8 -1.4M707.8 249.5l13.2 -0.6M762.2 252.2l7.6 -3M610.7 252.8l20.2 3.9M654.2 251.7l18.6 4.6M691.3 252.4l21.5 2.9M742.3 253.8l10.1 2.6M600 258.1l19.5 -0.7M644.6 254.7l2.2 7.6M680.4 260.9l19.3 -3.5M731.8 258.2l16.7 -1.5M781.7 260l9.3 -1.7M633.1 261.3l8 5.8M670.8 262.1l11.1 -0.6M713.4 262.2l16.9 -2.2M759 260.1l18.7 2.1M614.5 266.7l20.1 0.5M662.7 266.5l13.1 3.4M705.3 266l19.5 1.4M753.7 267l16.4 -1.8M645.9 271.9l12.5 -4M738.8 268.9l20.2 1.7"/>
<path id="w138" d="M660 247.1l21.2 1.6M599.6 247.6l7.5 6.8M636.1 249.9l13.6 -0.8M678 250.9l17.4 -2.2M726.1 252.2l11.6 -2M763.2 250.6l15 -0.3M626.4 257.3l13.8 -5.7M672.5 253.8l12.4 -1.1M707.9 254.8l15.6 -1.6M761.9 253.7l13.7 3.4M608 258.8l20.7 -2.9M653.1 258.5l14.6 -1M699.5 258.7l10.1 -1.4M743.2 258.8l13.4 1.6M594.3 259.6l17.5 3.6M644.6 264.4l6.8 -5.7M691.8 262.1l16.3 0.1M732.9 261.8l21.3 -1.3M772.4 260.7l19.5 0.3M625.1 267.3l15 0.5M666.5 266.4l23.6 0.4M722.1 264.1l15 2.8M755.2 266.5l21.2 -2M667.1 274l5.4 -7.4M754.6 268.8l13.9 0.9"/>
<path id="w139" d="M738.3 249.3l4.9 -4.5M602.9 250l20.9 0.7M649.6 252.3l14.3 -0.6M700.7 251.9l11.6 -2.1M735.3 251.7l16.3 -1.5M599.7 253.3l12 1.4M642.2 253.2l15.8 1.2M685.4 256.1l14.4 -2.3M726 253.9l22.6 1M776 257l-6.4 -7.9M628 259.8l11.9 -3.4M666.7 255.8l13.9 3.6M722.5 259.2l2.1 -4.1M761 254.6l15.7 4.9M612.2 259.1l10.7 6.4M653.7 260.4l21.4 2.2M699.1 261.6l13.6 0.7M754.9 265.3l-5.4 -7.3M608.3 269.6l8.7 -4.6M649.6 266.9l18 1.6M689.6 262.7l15.4 5.5M727.1 266.5l18.8 -3M773.9 266l16.1 1.3M676 267.8l9.9 4.1M782.6 269.2l23.5 0.9"/>
</defs>
<g fill="none" stroke-linecap="round">
<g transform="translate(0 0.9)" stroke="#3e1038" stroke-width="3.6"><use href="#w137"/><use href="#w138"/><use href="#w139"/></g>
<use href="#w137" stroke="#6c2057" stroke-width="3.3"/>
<use href="#w138" stroke="#601b4e" stroke-width="3.3"/>
<use href="#w139" stroke="#78255f" stroke-width="3.3"/>
</g>
<defs>
<path id="w140" d="M617.2 270.6l-4.3 4.7M697.3 269.9l11.6 2.3M771 274l10.6 -4.3M634.4 274.9l13.3 1.1M682 273.5l12.3 1.6M733.1 276.7l4.9 -4.2M767.4 274.7l19.4 4M615.9 280.1l23.5 -1.5M668.2 280.9l5.7 -3.8M712.1 283.4l4 -6.2M757.3 277.8l13.9 3.3M603.5 282.3l21.9 2.4M657.1 283.8l11 -1.9M701.9 286.5l17.6 -1.7M736.4 284l19.3 -2.8M793.2 279.1l15.5 7.2M642.7 292.2l-0.1 -7.7M691.7 289.9l9 -3.5M739 289.4l8.2 -3.8M771.6 289.5l17.3 -4.6M631.6 297.8l8.3 -4.8M673 291.9l17.5 5.6M713.4 291.9l23 3.5M769.3 296.8l14.8 -4.8"/>
<path id="w141" d="M613.1 271.5l14.5 -0.8M705.2 270.7l21.1 0.6M605.6 276.4l18.3 -3.2M647.2 273.9l18 1.7M692.9 275.9l16.3 -1.1M735.6 273.8l12.6 -0.4M791.2 276.7l13.1 -3.6M627.3 279.4l21.9 3.6M673.7 280.2l23.5 2.5M723.5 281.8l20.9 -2.7M779.2 279.7l11 -2.2M624.3 282l15.9 2.1M668.6 282.8l13.6 0.5M710.1 285.1l17.3 1.4M753.7 283l21.8 4.3M609.3 290.7l12.5 0.4M659.5 289.9l11 -2.4M696.8 288.5l14.7 1.3M754.7 292.1l5.7 -4.1M798.8 289.1l10.5 -3.8M645.1 292.3l12.9 5.4M685.3 290.8l15.8 5.8M731.4 292.9l23.8 2.3M773.2 293l19.7 -1.8"/>
<path id="w142" d="M633 272.9l20.5 -3.1M718.5 271.8l21.7 -1M618.2 272.2l6.9 3.9M669.7 277.5l12.5 -2.1M707.2 273.8l15.1 -0.2M759.8 276.2l12.2 -0.8M607.4 277l12.9 5.3M653.5 278.4l12.6 3.6M692.6 278.8l16.9 3.4M746.3 279l13.5 3.5M784.1 280.9l16.5 -3.8M644.6 288.1l8.1 -3.7M679.4 284.4l20 -0.4M726.8 288.4l13.1 -6M771.9 281.7l21.1 5.9M627 292.3l0.6 -7.2M668.1 289.3l18.7 1.3M720.9 291.8l0.4 -7.6M764.1 287.4l14.3 -0.1M606.9 293.6l18.7 0.4M662.4 293l10.6 3.1M699.2 298.7l10.2 -8.1M752.2 295.7l22.5 -1.2M790 293.2l22.2 -2.4"/>
</defs>
<g fill="none" stroke-linecap="round">
<g transform="translate(0 1)" stroke="#3e1038" stroke-width="4"><use href="#w140"/><use href="#w141"/><use href="#w142"/></g>
<use href="#w140" stroke="#6c2057" stroke-width="3.7"/>
<use href="#w141" stroke="#601b4e" stroke-width="3.7"/>
<use href="#w142" stroke="#78255f" stroke-width="3.7"/>
</g>
<ellipse cx="686.9" cy="261.5" rx="79.8" ry="34.6" fill="url(#pwell)"/>
<ellipse cx="686.9" cy="267.5" rx="80.8" ry="35.6" fill="none" stroke="#1c0620" stroke-width="8" opacity="0.6"/>
</g>
<line x1="380.4" y1="288.9" x2="399.3" y2="289.7" stroke="#d9efd4" stroke-width="2.8" stroke-linecap="round"/>
<line x1="403.5" y1="290.4" x2="423.8" y2="290.6" stroke="#d9efd4" stroke-width="2.8" stroke-linecap="round"/>
<line x1="447.3" y1="286.6" x2="460.7" y2="283.4" stroke="#d9efd4" stroke-width="2.8" stroke-linecap="round"/>
<line x1="653.7" y1="286.6" x2="668" y2="287.6" stroke="#f0c2d8" stroke-width="2.6" stroke-linecap="round"/>
<line x1="678.6" y1="290.4" x2="697" y2="291" stroke="#f0c2d8" stroke-width="2.6" stroke-linecap="round"/>
<line x1="723.8" y1="287.2" x2="736.7" y2="285.8" stroke="#f0c2d8" stroke-width="2.6" stroke-linecap="round"/>
<ellipse cx="719.5" cy="257" rx="7.5" ry="8.5" fill="#b44ad0" opacity="0.35"/>
<path d="M348.2 160.1L348.6 162.4L348.9 164.6L349.3 166.9L349.3 167.2" stroke="#35b8c4" stroke-width="3.0" fill="none" stroke-linecap="round" stroke-linejoin="round"/>
<path d="M349.3 167.2L349.6 169.1L350 171.4L350.4 173.6L350.5 174.3" stroke="#36b9c5" stroke-width="3.0" fill="none" stroke-linecap="round" stroke-linejoin="round"/>
<path d="M350.5 174.3L350.7 176L351.1 178.3L351.5 180.7L351.6 181.4" stroke="#36bbc6" stroke-width="3.0" fill="none" stroke-linecap="round" stroke-linejoin="round"/>
<path d="M351.6 181.4L351.8 183.1L352.2 185.6L352.5 188.1L352.6 188.5" stroke="#37bcc7" stroke-width="3.0" fill="none" stroke-linecap="round" stroke-linejoin="round"/>
<path d="M352.6 188.5L352.9 190.5L353.3 193L353.7 195.5L353.7 195.6" stroke="#38bec7" stroke-width="3.0" fill="none" stroke-linecap="round" stroke-linejoin="round"/>
<path d="M353.7 195.6L354.1 198L354.5 200.5L354.9 202.7" stroke="#38bfc8" stroke-width="3.0" fill="none" stroke-linecap="round" stroke-linejoin="round"/>
<path d="M354.9 202.7L354.9 202.9L355.4 205.4L355.8 207.9L356.2 209.8" stroke="#39c1c9" stroke-width="3.0" fill="none" stroke-linecap="round" stroke-linejoin="round"/>
<path d="M356.2 209.8L356.3 210.4L356.8 212.8L357.4 215.3L357.7 216.8" stroke="#39c2ca" stroke-width="3.0" fill="none" stroke-linecap="round" stroke-linejoin="round"/>
<path d="M357.7 216.8L358 217.8L358.7 220.3L359.5 222.8L359.8 223.6" stroke="#3ac4ca" stroke-width="3.0" fill="none" stroke-linecap="round" stroke-linejoin="round"/>
<path d="M359.8 223.6L360.4 225.2L361.3 227.7L362.2 230.2L362.3 230.4" stroke="#3ac5cb" stroke-width="3.0" fill="none" stroke-linecap="round" stroke-linejoin="round"/>
<path d="M362.3 230.4L363.1 232.7L364.1 235.1L364.8 237.1" stroke="#3bc7cc" stroke-width="3.0" fill="none" stroke-linecap="round" stroke-linejoin="round"/>
<path d="M364.8 237.1L365 237.6L366 240.1L367 242.7L367.4 243.8" stroke="#3bc8cd" stroke-width="3.0" fill="none" stroke-linecap="round" stroke-linejoin="round"/>
<path d="M367.4 243.8L368 245.3L369 247.9L370 250.4L370.1 250.5" stroke="#3ccacd" stroke-width="3.0" fill="none" stroke-linecap="round" stroke-linejoin="round"/>
<path d="M370.1 250.5L371 252.9L372 255.2L372.8 257.1" stroke="#3dcbce" stroke-width="3.0" fill="none" stroke-linecap="round" stroke-linejoin="round"/>
<path d="M372.8 257.1L372.9 257.3L373.7 259.2L374.5 261L375.3 262.6L375.8 263.7" stroke="#3dcdcf" stroke-width="3.0" fill="none" stroke-linecap="round" stroke-linejoin="round"/>
<path d="M375.8 263.7L376 264.2L376.7 265.7L377.4 267.1L378.1 268.6L378.8 270.2" stroke="#3eced0" stroke-width="3.0" fill="none" stroke-linecap="round" stroke-linejoin="round"/>
<line x1="349.4" y1="164.5" x2="372.2" y2="160.5" stroke="#5a55b8" stroke-width="1.6"/>
<line x1="350.4" y1="171.7" x2="370.2" y2="167.7" stroke="#4f61bd" stroke-width="1.6"/>
<line x1="351.4" y1="178.9" x2="368.3" y2="174.9" stroke="#5a55b8" stroke-width="1.6"/>
<line x1="352.4" y1="186.1" x2="366.4" y2="182.1" stroke="#5b8f9e" stroke-width="1.6"/>
<line x1="353.5" y1="193.3" x2="364.4" y2="189.3" stroke="#5a55b8" stroke-width="1.6"/>
<line x1="354.5" y1="200.5" x2="362.5" y2="196.5" stroke="#4f61bd" stroke-width="1.6"/>
<line x1="355.5" y1="207.7" x2="360.5" y2="203.7" stroke="#5a55b8" stroke-width="1.6"/>
<line x1="356.5" y1="214.9" x2="358.6" y2="210.9" stroke="#4f61bd" stroke-width="1.6"/>
<line x1="357.5" y1="222.1" x2="356.6" y2="218.1" stroke="#5a55b8" stroke-width="1.6"/>
<line x1="362.2" y1="106.5" x2="354.1" y2="106.5" stroke="#7a9aa0" stroke-width="2.1" stroke-linecap="round"/>
<line x1="364.9" y1="114.6" x2="355.5" y2="115.1" stroke="#6f9a9a" stroke-width="2.1" stroke-linecap="round"/>
<line x1="367.9" y1="122.7" x2="357" y2="123.2" stroke="#5a55b8" stroke-width="2.1" stroke-linecap="round"/>
<line x1="370.5" y1="130.9" x2="361.8" y2="130.7" stroke="#5a55b8" stroke-width="2.1" stroke-linecap="round"/>
<line x1="372.7" y1="139.2" x2="362.5" y2="138.4" stroke="#4f61bd" stroke-width="2.1" stroke-linecap="round"/>
<line x1="374" y1="147.7" x2="366.1" y2="145.9" stroke="#5a55b8" stroke-width="2.1" stroke-linecap="round"/>
<line x1="373.9" y1="156.3" x2="365.1" y2="152.7" stroke="#5b8f9e" stroke-width="2.1" stroke-linecap="round"/>
<line x1="346" y1="233.9" x2="348.2" y2="239.4" stroke="#35b7c4" stroke-width="2.1" stroke-linecap="round"/>
<line x1="341.2" y1="235.1" x2="342.4" y2="242" stroke="#5a55b8" stroke-width="2.1" stroke-linecap="round"/>
<line x1="336.2" y1="235.6" x2="336.5" y2="243.7" stroke="#35b7c4" stroke-width="2.1" stroke-linecap="round"/>
<line x1="331.2" y1="235.6" x2="331.1" y2="242.1" stroke="#5a55b8" stroke-width="2.1" stroke-linecap="round"/>
<line x1="326.2" y1="235.4" x2="325.9" y2="242.9" stroke="#35b7c4" stroke-width="2.1" stroke-linecap="round"/>
<line x1="312.8" y1="235.1" x2="312.9" y2="231.7" stroke="#7fa6e8" stroke-width="2.1" stroke-linecap="round"/>
<line x1="308.8" y1="235" x2="308.9" y2="231" stroke="#7fa6e8" stroke-width="2.1" stroke-linecap="round"/>
<line x1="304.8" y1="234.9" x2="304.9" y2="230.3" stroke="#7fa6e8" stroke-width="2.1" stroke-linecap="round"/>
<line x1="300.8" y1="234.8" x2="300.9" y2="231.1" stroke="#7fa6e8" stroke-width="2.1" stroke-linecap="round"/>
<line x1="296.8" y1="234.7" x2="296.9" y2="230.4" stroke="#7fa6e8" stroke-width="2.1" stroke-linecap="round"/>
<line x1="292.8" y1="234.6" x2="292.9" y2="231.2" stroke="#7fa6e8" stroke-width="2.1" stroke-linecap="round"/>
<path d="M357 88.4L357.7 91L358.5 93.6L359 95.3" stroke="#4c68c2" stroke-width="3.5" fill="none" stroke-linecap="round" stroke-linejoin="round"/>
<path d="M359 95.3L359.2 96.2L359.9 98.7L360.7 101.3L361 102.3" stroke="#4c68c2" stroke-width="3.5" fill="none" stroke-linecap="round" stroke-linejoin="round"/>
<path d="M361 102.3L361.4 103.9L362.2 106.5L363 109L363.1 109.2" stroke="#4c68c2" stroke-width="3.5" fill="none" stroke-linecap="round" stroke-linejoin="round"/>
<path d="M363.1 109.2L363.8 111.5L364.8 114.1L365.4 116" stroke="#4c68c2" stroke-width="3.5" fill="none" stroke-linecap="round" stroke-linejoin="round"/>
<path d="M365.4 116L365.7 116.6L366.6 119.2L367.6 121.7L367.9 122.7" stroke="#4c68c2" stroke-width="3.5" fill="none" stroke-linecap="round" stroke-linejoin="round"/>
<path d="M367.9 122.7L368.4 124.2L369.3 126.6L370 129L370.2 129.6" stroke="#4c68c2" stroke-width="3.5" fill="none" stroke-linecap="round" stroke-linejoin="round"/>
<path d="M370.2 129.6L370.7 131.3L371.3 133.6L371.9 135.9L372.1 136.5" stroke="#4c68c2" stroke-width="3.5" fill="none" stroke-linecap="round" stroke-linejoin="round"/>
<path d="M372.1 136.5L372.4 138.1L372.9 140.3L373.3 142.5L373.5 143.6" stroke="#4c68c2" stroke-width="3.5" fill="none" stroke-linecap="round" stroke-linejoin="round"/>
<path d="M373.5 143.6L373.7 144.6L373.9 146.7L374 148.7L374.1 150.7L374.1 150.7" stroke="#4c68c2" stroke-width="3.5" fill="none" stroke-linecap="round" stroke-linejoin="round"/>
<path d="M374.1 150.7L374.1 152.6L374 154.5L373.8 156.4L373.7 157.9" stroke="#4c68c2" stroke-width="3.5" fill="none" stroke-linecap="round" stroke-linejoin="round"/>
<path d="M373.7 157.9L373.6 158.3L373.3 160.4L372.9 162.5L372.4 164.8L372.3 165" stroke="#4c68c2" stroke-width="3.5" fill="none" stroke-linecap="round" stroke-linejoin="round"/>
<path d="M372.3 165L371.8 167.1L371.1 169.5L370.3 171.9" stroke="#4c68c2" stroke-width="3.5" fill="none" stroke-linecap="round" stroke-linejoin="round"/>
<path d="M370.3 171.9L370.3 172L369.4 174.5L368.6 177L368 178.8" stroke="#4c68c2" stroke-width="3.5" fill="none" stroke-linecap="round" stroke-linejoin="round"/>
<path d="M368 178.8L367.8 179.5L367 182L366.2 184.5L365.9 185.6" stroke="#4a70c2" stroke-width="3.5" fill="none" stroke-linecap="round" stroke-linejoin="round"/>
<path d="M365.9 185.6L365.5 187L364.7 189.5L363.9 192L363.8 192.5" stroke="#4482c3" stroke-width="3.5" fill="none" stroke-linecap="round" stroke-linejoin="round"/>
<path d="M363.8 192.5L363.2 194.5L362.4 197L361.7 199.4" stroke="#3f94c3" stroke-width="3.5" fill="none" stroke-linecap="round" stroke-linejoin="round"/>
<path d="M361.7 199.4L361.7 199.5L361 202L360.3 204.6L359.9 206.4" stroke="#3aa7c4" stroke-width="3.5" fill="none" stroke-linecap="round" stroke-linejoin="round"/>
<path d="M359.9 206.4L359.7 207.2L359.1 209.9L358.5 212.5L358.3 213.4" stroke="#36b5c4" stroke-width="3.5" fill="none" stroke-linecap="round" stroke-linejoin="round"/>
<path d="M358.3 213.4L357.9 215.1L357.3 217.6L356.7 219.8L356.5 220.4" stroke="#3c9ec3" stroke-width="3.5" fill="none" stroke-linecap="round" stroke-linejoin="round"/>
<path d="M356.5 220.4L356 221.8L355.3 223.5L354.7 225.1L354 226.5L353.7 227.1" stroke="#4387c3" stroke-width="3.5" fill="none" stroke-linecap="round" stroke-linejoin="round"/>
<path d="M353.7 227.1L353.4 227.7L352.6 228.8L351.9 229.8L351 230.7L350 231.6L349 232.4" stroke="#4971c2" stroke-width="3.5" fill="none" stroke-linecap="round" stroke-linejoin="round"/>
<path d="M349 232.4L348.9 232.4L347.9 233.1L346.7 233.6L345.5 234.1L344.2 234.5L342.7 234.9L342.3 234.9" stroke="#4d6ac3" stroke-width="3.5" fill="none" stroke-linecap="round" stroke-linejoin="round"/>
<path d="M342.3 234.9L341.1 235.2L339.3 235.4L337.3 235.6L335.2 235.6L335.1 235.6" stroke="#4f6dc5" stroke-width="3.5" fill="none" stroke-linecap="round" stroke-linejoin="round"/>
<path d="M335.1 235.6L332.9 235.6L330.5 235.6L327.9 235.5" stroke="#516fc7" stroke-width="3.5" fill="none" stroke-linecap="round" stroke-linejoin="round"/>
<path d="M327.9 235.5L327.9 235.5L325.2 235.4L322.4 235.3L320.7 235.2" stroke="#5372c8" stroke-width="3.5" fill="none" stroke-linecap="round" stroke-linejoin="round"/>
<path d="M320.7 235.2L319.5 235.2L316.4 235.1L313.5 235.1" stroke="#5575ca" stroke-width="3.5" fill="none" stroke-linecap="round" stroke-linejoin="round"/>
<path d="M313.5 235.1L313.1 235.1L309.7 235L306.3 234.9" stroke="#5678cc" stroke-width="3.5" fill="none" stroke-linecap="round" stroke-linejoin="round"/>
<path d="M306.3 234.9L306.2 234.9L302.6 234.8L299.1 234.8" stroke="#587bcd" stroke-width="3.5" fill="none" stroke-linecap="round" stroke-linejoin="round"/>
<path d="M299.1 234.8L299 234.8L295.4 234.7L291.9 234.6L291.9 234.6" stroke="#5a7ecf" stroke-width="3.5" fill="none" stroke-linecap="round" stroke-linejoin="round"/>
<path d="M352 232L352.5 233L352.9 234L353.2 235.1L353.6 236.1L354.1 237.1L354.2 237.4" stroke="#36b9c5" stroke-width="1.6" fill="none" stroke-linecap="round" stroke-linejoin="round"/>
<path d="M354.2 237.4L354.6 238.1L355.2 239.1L356 240L356.9 240.9L358 241.7L358.1 241.8" stroke="#37bdc7" stroke-width="1.6" fill="none" stroke-linecap="round" stroke-linejoin="round"/>
<path d="M358.1 241.8L359.1 242.5L360.4 243.2L361.7 244L363.1 244.7L363.2 244.7" stroke="#39c1c9" stroke-width="1.6" fill="none" stroke-linecap="round" stroke-linejoin="round"/>
<path d="M363.2 244.7L364.5 245.4L366 246L367.6 246.6L368.6 246.9" stroke="#3ac5cb" stroke-width="1.6" fill="none" stroke-linecap="round" stroke-linejoin="round"/>
<path d="M368.6 246.9L369.2 247.1L371 247.6L372.8 248.1L374.3 248.5" stroke="#3cc9cd" stroke-width="1.6" fill="none" stroke-linecap="round" stroke-linejoin="round"/>
<path d="M374.3 248.5L374.6 248.6L376.4 249L378.2 249.5L380 250" stroke="#3dcdcf" stroke-width="1.6" fill="none" stroke-linecap="round" stroke-linejoin="round"/>
<path d="M338 252L339.5 251.2L340.9 250.4L342.3 249.5" stroke="#3ecfd0" stroke-width="1.2" fill="none" stroke-linecap="round" stroke-linejoin="round"/>
<path d="M342.3 249.5L342.3 249.5L343.8 248.6L345.2 247.8L346.6 247.2" stroke="#3ecfd0" stroke-width="1.2" fill="none" stroke-linecap="round" stroke-linejoin="round"/>
<path d="M346.6 247.2L346.7 247.1L348.3 246.5L350 246L351.3 245.8" stroke="#3ecfd0" stroke-width="1.2" fill="none" stroke-linecap="round" stroke-linejoin="round"/>
<path d="M351.3 245.8L351.8 245.7L353.7 245.6L355.7 245.6L356.2 245.6" stroke="#3ecfd0" stroke-width="1.2" fill="none" stroke-linecap="round" stroke-linejoin="round"/>
<path d="M356.2 245.6L357.8 245.6L359.8 245.7L361.1 245.8" stroke="#3ecfd0" stroke-width="1.2" fill="none" stroke-linecap="round" stroke-linejoin="round"/>
<path d="M361.1 245.8L361.9 245.9L364 246L366 246" stroke="#3ecfd0" stroke-width="1.2" fill="none" stroke-linecap="round" stroke-linejoin="round"/>
<line x1="402.7" y1="176.3" x2="408.7" y2="178.4" stroke="#7a8fd0" stroke-width="2.1" stroke-linecap="round"/>
<line x1="400.6" y1="182.1" x2="407.7" y2="184.6" stroke="#5a55b8" stroke-width="2.1" stroke-linecap="round"/>
<line x1="398.6" y1="188" x2="406.8" y2="190.7" stroke="#7cc0c8" stroke-width="2.1" stroke-linecap="round"/>
<line x1="396.7" y1="193.9" x2="403.3" y2="196" stroke="#5a55b8" stroke-width="2.1" stroke-linecap="round"/>
<line x1="394.8" y1="199.8" x2="402.6" y2="202.1" stroke="#7a8fd0" stroke-width="2.1" stroke-linecap="round"/>
<line x1="393.2" y1="205.7" x2="399.3" y2="207.3" stroke="#5a55b8" stroke-width="2.1" stroke-linecap="round"/>
<line x1="391.7" y1="211.8" x2="399" y2="213.4" stroke="#7cc0c8" stroke-width="2.1" stroke-linecap="round"/>
<line x1="390.4" y1="217.8" x2="398.8" y2="219.6" stroke="#5a55b8" stroke-width="2.1" stroke-linecap="round"/>
<line x1="389.3" y1="223.9" x2="396.1" y2="225" stroke="#7a8fd0" stroke-width="2.1" stroke-linecap="round"/>
<line x1="388.4" y1="230.1" x2="396.4" y2="231" stroke="#5a55b8" stroke-width="2.1" stroke-linecap="round"/>
<line x1="387.8" y1="236.2" x2="394.1" y2="236.7" stroke="#7cc0c8" stroke-width="2.1" stroke-linecap="round"/>
<line x1="387.6" y1="242.4" x2="395.1" y2="242" stroke="#5a55b8" stroke-width="2.1" stroke-linecap="round"/>
<path d="M405.5 168.4L404.6 170.9L403.7 173.4L403 175.4" stroke="#35b8c5" stroke-width="3.0" fill="none" stroke-linecap="round" stroke-linejoin="round"/>
<path d="M403 175.4L402.8 175.8L401.9 178.3L401 180.8L400.5 182.4" stroke="#36bac6" stroke-width="3.0" fill="none" stroke-linecap="round" stroke-linejoin="round"/>
<path d="M400.5 182.4L400.2 183.3L399.3 185.7L398.5 188.2L398.1 189.5" stroke="#37bcc7" stroke-width="3.0" fill="none" stroke-linecap="round" stroke-linejoin="round"/>
<path d="M398.1 189.5L397.7 190.7L396.9 193.1L396.1 195.6L395.8 196.6" stroke="#38bec8" stroke-width="3.0" fill="none" stroke-linecap="round" stroke-linejoin="round"/>
<path d="M395.8 196.6L395.4 198L394.6 200.5L393.9 203L393.7 203.7" stroke="#39c1c9" stroke-width="3.0" fill="none" stroke-linecap="round" stroke-linejoin="round"/>
<path d="M393.7 203.7L393.2 205.4L392.6 207.9L392 210.4L391.9 211" stroke="#39c3ca" stroke-width="3.0" fill="none" stroke-linecap="round" stroke-linejoin="round"/>
<path d="M391.9 211L391.4 212.9L390.9 215.5L390.3 218L390.3 218.2" stroke="#3ac5cb" stroke-width="3.0" fill="none" stroke-linecap="round" stroke-linejoin="round"/>
<path d="M390.3 218.2L389.9 220.6L389.4 223L389 225.4L389 225.6" stroke="#3bc7cc" stroke-width="3.0" fill="none" stroke-linecap="round" stroke-linejoin="round"/>
<path d="M389 225.6L388.7 227.7L388.4 229.9L388.2 232.2L388.1 233" stroke="#3cc9cd" stroke-width="3.0" fill="none" stroke-linecap="round" stroke-linejoin="round"/>
<path d="M388.1 233L387.9 234.4L387.8 236.5L387.7 238.5L387.6 240.3L387.6 240.4" stroke="#3dcbce" stroke-width="3.0" fill="none" stroke-linecap="round" stroke-linejoin="round"/>
<path d="M387.6 240.4L387.6 242L387.7 243.5L387.8 244.7L387.8 245.5L387.9 246.2L388.1 246.7L388.4 247.2L388.8 247.6" stroke="#3dcecf" stroke-width="3.0" fill="none" stroke-linecap="round" stroke-linejoin="round"/>
<path d="M388.8 247.6L388.9 247.7L389.6 248.4L390.6 249.4L392 250.6L393.6 252L394.4 252.5" stroke="#3dcccf" stroke-width="3.0" fill="none" stroke-linecap="round" stroke-linejoin="round"/>
<path d="M394.4 252.5L395.6 253.4L397.7 255L399.9 256.6L400.4 256.9" stroke="#3ac4ca" stroke-width="3.0" fill="none" stroke-linecap="round" stroke-linejoin="round"/>
<path d="M400.4 256.9L402.1 258.2L404.3 259.8L406.4 261.3" stroke="#37bbc6" stroke-width="3.0" fill="none" stroke-linecap="round" stroke-linejoin="round"/>
<circle cx="387.6" cy="247.5" r="2.6" fill="#43e0a0"/>
<path d="M427.2 170.4L427.1 173.4L426.9 176.3L426.8 177.5" stroke="#35b8c4" stroke-width="3.0" fill="none" stroke-linecap="round" stroke-linejoin="round"/>
<path d="M426.8 177.5L426.7 179.3L426.5 182.2L426.4 184.7" stroke="#36bac5" stroke-width="3.0" fill="none" stroke-linecap="round" stroke-linejoin="round"/>
<path d="M426.4 184.7L426.4 185.2L426.2 188.2L426.2 191.1L426.2 191.8" stroke="#37bbc6" stroke-width="3.0" fill="none" stroke-linecap="round" stroke-linejoin="round"/>
<path d="M426.2 191.8L426.2 194.1L426.3 197.1L426.4 198.9" stroke="#37bdc7" stroke-width="3.0" fill="none" stroke-linecap="round" stroke-linejoin="round"/>
<path d="M426.4 198.9L426.5 200.1L426.7 203.2L426.9 206.1" stroke="#38bfc8" stroke-width="3.0" fill="none" stroke-linecap="round" stroke-linejoin="round"/>
<path d="M426.9 206.1L427 206.2L427.3 209.2L427.6 212.1L427.7 213.2" stroke="#39c0c9" stroke-width="3.0" fill="none" stroke-linecap="round" stroke-linejoin="round"/>
<path d="M427.7 213.2L427.9 215L428.2 217.8L428.5 220.3" stroke="#39c2ca" stroke-width="3.0" fill="none" stroke-linecap="round" stroke-linejoin="round"/>
<path d="M428.5 220.3L428.5 220.5L428.9 223L429.2 225.5L429.5 227.3" stroke="#3ac4ca" stroke-width="3.0" fill="none" stroke-linecap="round" stroke-linejoin="round"/>
<path d="M429.5 227.3L429.6 228L430 230.4L430.3 232.7L430.6 234.4" stroke="#3ac6cb" stroke-width="3.0" fill="none" stroke-linecap="round" stroke-linejoin="round"/>
<path d="M430.6 234.4L430.7 235.2L431.1 237.6L431.5 240.1L431.6 241.5" stroke="#3bc7cc" stroke-width="3.0" fill="none" stroke-linecap="round" stroke-linejoin="round"/>
<path d="M431.6 241.5L431.8 242.7L432.2 245.3L432.5 247.9L432.6 248.5" stroke="#3cc9cd" stroke-width="3.0" fill="none" stroke-linecap="round" stroke-linejoin="round"/>
<path d="M432.6 248.5L432.9 250.5L433.3 252.9L433.7 255.2L433.8 255.6" stroke="#3ccbce" stroke-width="3.0" fill="none" stroke-linecap="round" stroke-linejoin="round"/>
<path d="M433.8 255.6L434.1 257.3L434.5 259.2L435 260.8L435.5 262.3L435.6 262.5" stroke="#3dcccf" stroke-width="3.0" fill="none" stroke-linecap="round" stroke-linejoin="round"/>
<path d="M435.6 262.5L436 263.7L436.5 265.1L437 266.4L437.5 267.8L438 269.2" stroke="#3eced0" stroke-width="3.0" fill="none" stroke-linecap="round" stroke-linejoin="round"/>
<line x1="428" y1="212" x2="435" y2="210.8" stroke="#5a55b8" stroke-width="1.6"/>
<line x1="428.9" y1="218.6" x2="438.3" y2="217.4" stroke="#6f7fd0" stroke-width="1.6"/>
<line x1="429.8" y1="225.2" x2="441.6" y2="224" stroke="#5a55b8" stroke-width="1.6"/>
<line x1="430.8" y1="231.8" x2="444.9" y2="230.6" stroke="#5f9fc0" stroke-width="1.6"/>
<line x1="431.7" y1="238.4" x2="448.2" y2="237.2" stroke="#5a55b8" stroke-width="1.6"/>
<line x1="432.6" y1="245" x2="451.5" y2="243.8" stroke="#6f7fd0" stroke-width="1.6"/>
<line x1="433.5" y1="251.6" x2="454.8" y2="250.4" stroke="#5a55b8" stroke-width="1.6"/>
<line x1="389.9" y1="87" x2="399" y2="83.4" stroke="#5a55b8" stroke-width="2.1" stroke-linecap="round"/>
<line x1="390.7" y1="96.6" x2="401.3" y2="92" stroke="#6f8f9a" stroke-width="2.1" stroke-linecap="round"/>
<line x1="392.2" y1="106" x2="403.7" y2="99.6" stroke="#5a55b8" stroke-width="2.1" stroke-linecap="round"/>
<line x1="394.4" y1="115.4" x2="403.4" y2="109.7" stroke="#5a55b8" stroke-width="2.1" stroke-linecap="round"/>
<line x1="397.1" y1="124.6" x2="407.3" y2="117.6" stroke="#5f9a98" stroke-width="2.1" stroke-linecap="round"/>
<line x1="400.1" y1="133.7" x2="407.9" y2="127.8" stroke="#5f9a98" stroke-width="2.1" stroke-linecap="round"/>
<line x1="403.5" y1="142.7" x2="412.5" y2="135.5" stroke="#5a55b8" stroke-width="2.1" stroke-linecap="round"/>
<line x1="407.3" y1="151.5" x2="417.2" y2="142.7" stroke="#5a55b8" stroke-width="2.1" stroke-linecap="round"/>
<line x1="411.3" y1="160.2" x2="419.2" y2="153" stroke="#5a55b8" stroke-width="2.1" stroke-linecap="round"/>
<line x1="415.6" y1="168.8" x2="424.3" y2="160" stroke="#5a55b8" stroke-width="2.1" stroke-linecap="round"/>
<line x1="419.9" y1="177.4" x2="427.3" y2="171" stroke="#6f8f9a" stroke-width="2.1" stroke-linecap="round"/>
<line x1="480.2" y1="255.8" x2="478.7" y2="261.2" stroke="#3ecfd0" stroke-width="2.1" stroke-linecap="round"/>
<line x1="484.5" y1="254.9" x2="482.6" y2="261.1" stroke="#3ecfd0" stroke-width="2.1" stroke-linecap="round"/>
<line x1="488.8" y1="254.2" x2="486.3" y2="261.2" stroke="#9db0e8" stroke-width="2.1" stroke-linecap="round"/>
<line x1="493.2" y1="253.6" x2="490.9" y2="259.2" stroke="#3ecfd0" stroke-width="2.1" stroke-linecap="round"/>
<line x1="497.6" y1="253.2" x2="494.9" y2="259.6" stroke="#3ecfd0" stroke-width="2.1" stroke-linecap="round"/>
<line x1="502" y1="252.8" x2="499.7" y2="257.8" stroke="#9db0e8" stroke-width="2.1" stroke-linecap="round"/>
<line x1="506.4" y1="252.5" x2="503.6" y2="258.4" stroke="#3ecfd0" stroke-width="2.1" stroke-linecap="round"/>
<line x1="510.8" y1="252.3" x2="507.3" y2="258.9" stroke="#3ecfd0" stroke-width="2.1" stroke-linecap="round"/>
<path d="M389.7 84.5L389.9 86.8L390.1 89.1L390.3 91.5L390.3 91.6" stroke="#4c68c2" stroke-width="3.5" fill="none" stroke-linecap="round" stroke-linejoin="round"/>
<path d="M390.3 91.6L390.5 93.8L390.7 96.1L390.9 98.4L390.9 98.7" stroke="#4c68c2" stroke-width="3.5" fill="none" stroke-linecap="round" stroke-linejoin="round"/>
<path d="M390.9 98.7L391.2 100.8L391.6 103.2L392.1 105.6L392.1 105.8" stroke="#4c68c2" stroke-width="3.5" fill="none" stroke-linecap="round" stroke-linejoin="round"/>
<path d="M392.1 105.8L392.6 108.1L393.2 110.5L393.7 112.8" stroke="#4c68c2" stroke-width="3.5" fill="none" stroke-linecap="round" stroke-linejoin="round"/>
<path d="M393.7 112.8L393.8 113L394.4 115.5L395.1 118L395.6 119.7" stroke="#4c68c2" stroke-width="3.5" fill="none" stroke-linecap="round" stroke-linejoin="round"/>
<path d="M395.6 119.7L395.9 120.5L396.6 123L397.4 125.5L397.7 126.5" stroke="#4c68c2" stroke-width="3.5" fill="none" stroke-linecap="round" stroke-linejoin="round"/>
<path d="M397.7 126.5L398.1 127.9L399 130.4L399.8 132.8L400 133.3" stroke="#4c68c2" stroke-width="3.5" fill="none" stroke-linecap="round" stroke-linejoin="round"/>
<path d="M400 133.3L400.7 135.3L401.6 137.8L402.4 140" stroke="#4c68c2" stroke-width="3.5" fill="none" stroke-linecap="round" stroke-linejoin="round"/>
<path d="M402.4 140L402.5 140.2L403.5 142.7L404.5 145.2L405.1 146.6" stroke="#4c68c2" stroke-width="3.5" fill="none" stroke-linecap="round" stroke-linejoin="round"/>
<path d="M405.1 146.6L405.6 147.7L406.7 150.3L407.9 152.8L408 153.2" stroke="#4c68c2" stroke-width="3.5" fill="none" stroke-linecap="round" stroke-linejoin="round"/>
<path d="M408 153.2L409 155.4L410.2 157.8L411 159.6" stroke="#4c68c2" stroke-width="3.5" fill="none" stroke-linecap="round" stroke-linejoin="round"/>
<path d="M411 159.6L411.3 160.2L412.4 162.5L413.4 164.6L414.2 166.1" stroke="#4c68c2" stroke-width="3.5" fill="none" stroke-linecap="round" stroke-linejoin="round"/>
<path d="M414.2 166.1L414.5 166.6L415.5 168.5L416.5 170.4L417.5 172.3L417.5 172.4" stroke="#4c68c2" stroke-width="3.5" fill="none" stroke-linecap="round" stroke-linejoin="round"/>
<path d="M417.5 172.4L418.4 174.2L419.4 176.2L420.3 178.3L420.5 178.9" stroke="#4c68c2" stroke-width="3.5" fill="none" stroke-linecap="round" stroke-linejoin="round"/>
<path d="M420.5 178.9L421.2 180.6L422 182.9L422.9 185.4L422.9 185.6" stroke="#4c68c2" stroke-width="3.5" fill="none" stroke-linecap="round" stroke-linejoin="round"/>
<path d="M422.9 185.6L423.7 187.9L424.5 190.4L425.2 192.4" stroke="#4c68c2" stroke-width="3.5" fill="none" stroke-linecap="round" stroke-linejoin="round"/>
<path d="M425.2 192.4L425.4 193L426.2 195.5L427.2 198L427.6 199.1" stroke="#4c68c2" stroke-width="3.5" fill="none" stroke-linecap="round" stroke-linejoin="round"/>
<path d="M427.6 199.1L428.2 200.5L429.2 202.9L430.3 205.4L430.4 205.7" stroke="#4c68c2" stroke-width="3.5" fill="none" stroke-linecap="round" stroke-linejoin="round"/>
<path d="M430.4 205.7L431.3 207.9L432.5 210.4L433.3 212.2" stroke="#4973c2" stroke-width="3.5" fill="none" stroke-linecap="round" stroke-linejoin="round"/>
<path d="M433.3 212.2L433.6 212.8L434.8 215.3L436.1 217.8L436.5 218.6" stroke="#457fc3" stroke-width="3.5" fill="none" stroke-linecap="round" stroke-linejoin="round"/>
<path d="M436.5 218.6L437.4 220.3L438.9 222.8L440.1 224.8" stroke="#428ac3" stroke-width="3.5" fill="none" stroke-linecap="round" stroke-linejoin="round"/>
<path d="M440.1 224.8L440.4 225.3L441.9 227.8L443.5 230.3L443.8 230.9" stroke="#3f95c3" stroke-width="3.5" fill="none" stroke-linecap="round" stroke-linejoin="round"/>
<path d="M443.8 230.9L445 232.8L446.5 235.2L447.6 237" stroke="#3ca0c3" stroke-width="3.5" fill="none" stroke-linecap="round" stroke-linejoin="round"/>
<path d="M447.6 237L447.9 237.6L449.3 240L450.7 242.5L451.1 243.3" stroke="#38acc4" stroke-width="3.5" fill="none" stroke-linecap="round" stroke-linejoin="round"/>
<path d="M451.1 243.3L452 245L453.4 247.4L454.5 249.5" stroke="#35b7c4" stroke-width="3.5" fill="none" stroke-linecap="round" stroke-linejoin="round"/>
<path d="M454.5 249.5L454.6 249.8L455.8 251.9L456.9 253.8L457.8 255.3L458.1 255.7" stroke="#38bec7" stroke-width="3.5" fill="none" stroke-linecap="round" stroke-linejoin="round"/>
<path d="M458.1 255.7L458.5 256.5L459.1 257.4L459.4 258L459.8 258.5L460.1 258.8L460.4 259L460.9 259.1L461.5 259.3L462.2 259.4L463 259.5L463.4 259.4" stroke="#3ac5cb" stroke-width="3.5" fill="none" stroke-linecap="round" stroke-linejoin="round"/>
<path d="M463.4 259.4L463.8 259.4L464.7 259.3L465.7 259.1L466.9 258.9L468.2 258.6L469.7 258.3L470.5 258.1" stroke="#3dccce" stroke-width="3.5" fill="none" stroke-linecap="round" stroke-linejoin="round"/>
<path d="M470.5 258.1L471.4 257.9L473.4 257.5L475.5 257L477.4 256.5" stroke="#43ccd2" stroke-width="3.5" fill="none" stroke-linecap="round" stroke-linejoin="round"/>
<path d="M477.4 256.5L477.8 256.4L480.2 255.9L482.6 255.3L484.4 254.9" stroke="#4cc6d5" stroke-width="3.5" fill="none" stroke-linecap="round" stroke-linejoin="round"/>
<path d="M484.4 254.9L485 254.8L487.4 254.4L489.8 254L491.5 253.8" stroke="#55c0d9" stroke-width="3.5" fill="none" stroke-linecap="round" stroke-linejoin="round"/>
<path d="M491.5 253.8L492.4 253.7L495 253.4L497.6 253.2L498.6 253.1" stroke="#5ebadc" stroke-width="3.5" fill="none" stroke-linecap="round" stroke-linejoin="round"/>
<path d="M498.6 253.1L500.2 252.9L502.7 252.7L505 252.5L505.7 252.5" stroke="#68b5df" stroke-width="3.5" fill="none" stroke-linecap="round" stroke-linejoin="round"/>
<path d="M505.7 252.5L507.2 252.4L509.1 252.3L510.9 252.3L512.5 252.3L512.9 252.3" stroke="#71afe3" stroke-width="3.5" fill="none" stroke-linecap="round" stroke-linejoin="round"/>
<path d="M512.9 252.3L514 252.3L515.5 252.3L517 252.4L518.4 252.4L520 252.4" stroke="#7aa9e6" stroke-width="3.5" fill="none" stroke-linecap="round" stroke-linejoin="round"/>
<circle cx="438.3" cy="269.4" r="4.6" fill="#3cc9b6"/>
<path d="M438 269L439.2 268.9L440.5 268.9L441.6 268.8" stroke="#3ecfd0" stroke-width="1.6" fill="none" stroke-linecap="round" stroke-linejoin="round"/>
<path d="M441.6 268.8L441.8 268.8L443 268.8L444.2 268.7L445.2 268.6" stroke="#3ecfd0" stroke-width="1.6" fill="none" stroke-linecap="round" stroke-linejoin="round"/>
<path d="M445.2 268.6L445.5 268.6L446.8 268.4L448 268L448.7 267.7" stroke="#3ecfd0" stroke-width="1.6" fill="none" stroke-linecap="round" stroke-linejoin="round"/>
<path d="M448.7 267.7L449.2 267.5L450.5 266.9L451.8 266.1L451.9 266" stroke="#3ecfd0" stroke-width="1.6" fill="none" stroke-linecap="round" stroke-linejoin="round"/>
<path d="M451.9 266L453 265.3L454.2 264.5L455 264" stroke="#3ecfd0" stroke-width="1.6" fill="none" stroke-linecap="round" stroke-linejoin="round"/>
<path d="M455 264L455.5 263.6L456.8 262.8L458 262" stroke="#3ecfd0" stroke-width="1.6" fill="none" stroke-linecap="round" stroke-linejoin="round"/>
<line x1="728.9" y1="84.7" x2="720.5" y2="83.9" stroke="#4f61bd" stroke-width="2.1" stroke-linecap="round"/>
<line x1="725.3" y1="92.5" x2="715.3" y2="91.6" stroke="#5a55b8" stroke-width="2.1" stroke-linecap="round"/>
<line x1="721.5" y1="100.2" x2="710.1" y2="99" stroke="#4f61bd" stroke-width="2.1" stroke-linecap="round"/>
<line x1="717.7" y1="107.9" x2="708.5" y2="106.8" stroke="#5a55b8" stroke-width="2.1" stroke-linecap="round"/>
<line x1="713.8" y1="115.6" x2="703.1" y2="114.3" stroke="#4f61bd" stroke-width="2.1" stroke-linecap="round"/>
<line x1="710" y1="123.3" x2="701.5" y2="122.4" stroke="#5a55b8" stroke-width="2.1" stroke-linecap="round"/>
<line x1="706.2" y1="131" x2="696.3" y2="130" stroke="#4f61bd" stroke-width="2.1" stroke-linecap="round"/>
<line x1="702.3" y1="138.7" x2="690.9" y2="137.3" stroke="#5a55b8" stroke-width="2.1" stroke-linecap="round"/>
<line x1="693.4" y1="155" x2="697.6" y2="159.8" stroke="#4f61bd" stroke-width="2.1" stroke-linecap="round"/>
<line x1="689.8" y1="160.5" x2="694.3" y2="166.5" stroke="#4fa0b0" stroke-width="2.1" stroke-linecap="round"/>
<line x1="685.8" y1="165.8" x2="690.9" y2="172.8" stroke="#5a55b8" stroke-width="2.1" stroke-linecap="round"/>
<line x1="682" y1="171.2" x2="686.2" y2="176.7" stroke="#4f61bd" stroke-width="2.1" stroke-linecap="round"/>
<line x1="678.2" y1="176.6" x2="683.3" y2="182.9" stroke="#4fa0b0" stroke-width="2.1" stroke-linecap="round"/>
<line x1="674.7" y1="182.2" x2="679" y2="186.9" stroke="#5a55b8" stroke-width="2.1" stroke-linecap="round"/>
<line x1="671.8" y1="188.1" x2="677.4" y2="193.1" stroke="#4f61bd" stroke-width="2.1" stroke-linecap="round"/>
<line x1="668.9" y1="194.1" x2="675" y2="200.2" stroke="#4fa0b0" stroke-width="2.1" stroke-linecap="round"/>
<line x1="665.3" y1="199.5" x2="669.3" y2="205.2" stroke="#5a55b8" stroke-width="2.1" stroke-linecap="round"/>
<line x1="660.8" y1="204.4" x2="664.1" y2="211.7" stroke="#4f61bd" stroke-width="2.1" stroke-linecap="round"/>
<line x1="656.3" y1="207.6" x2="659" y2="212" stroke="#5a55b8" stroke-width="2.1" stroke-linecap="round"/>
<line x1="652.3" y1="209.8" x2="654.8" y2="215.2" stroke="#4f61bd" stroke-width="2.1" stroke-linecap="round"/>
<line x1="648.1" y1="211.6" x2="650.7" y2="218" stroke="#5a55b8" stroke-width="2.1" stroke-linecap="round"/>
<line x1="643.8" y1="213.3" x2="645.7" y2="218.5" stroke="#4f61bd" stroke-width="2.1" stroke-linecap="round"/>
<line x1="639.4" y1="214.8" x2="641.3" y2="220.9" stroke="#5a55b8" stroke-width="2.1" stroke-linecap="round"/>
<line x1="635" y1="216" x2="636.4" y2="220.9" stroke="#4f61bd" stroke-width="2.1" stroke-linecap="round"/>
<line x1="630.6" y1="217.3" x2="632.5" y2="223" stroke="#5a55b8" stroke-width="2.1" stroke-linecap="round"/>
<line x1="621.8" y1="221" x2="619.5" y2="216" stroke="#5577cc" stroke-width="2.1" stroke-linecap="round"/>
<line x1="618.8" y1="222.3" x2="616.2" y2="216.4" stroke="#6f86d8" stroke-width="2.1" stroke-linecap="round"/>
<line x1="615.8" y1="223.5" x2="613.5" y2="216.4" stroke="#5577cc" stroke-width="2.1" stroke-linecap="round"/>
<line x1="612.6" y1="224.4" x2="611.3" y2="218.6" stroke="#6f86d8" stroke-width="2.1" stroke-linecap="round"/>
<line x1="609.3" y1="225" x2="608.4" y2="218.1" stroke="#5577cc" stroke-width="2.1" stroke-linecap="round"/>
<line x1="606" y1="225.2" x2="605.9" y2="219.7" stroke="#6f86d8" stroke-width="2.1" stroke-linecap="round"/>
<line x1="602.7" y1="225.2" x2="602.9" y2="218.7" stroke="#5577cc" stroke-width="2.1" stroke-linecap="round"/>
<line x1="599.5" y1="224.9" x2="600.5" y2="217.5" stroke="#6f86d8" stroke-width="2.1" stroke-linecap="round"/>
<line x1="596.2" y1="224.4" x2="597.4" y2="218.5" stroke="#5577cc" stroke-width="2.1" stroke-linecap="round"/>
<line x1="593" y1="223.5" x2="595.4" y2="216.9" stroke="#6f86d8" stroke-width="2.1" stroke-linecap="round"/>
<line x1="590" y1="222.2" x2="592.4" y2="217.2" stroke="#5577cc" stroke-width="2.1" stroke-linecap="round"/>
<line x1="587.1" y1="220.5" x2="590.7" y2="215.1" stroke="#6f86d8" stroke-width="2.1" stroke-linecap="round"/>
<line x1="584.4" y1="218.7" x2="588.7" y2="212.5" stroke="#5577cc" stroke-width="2.1" stroke-linecap="round"/>
<line x1="581.7" y1="216.8" x2="585.1" y2="211.8" stroke="#6f86d8" stroke-width="2.1" stroke-linecap="round"/>
<line x1="578.9" y1="215" x2="582.7" y2="209.1" stroke="#5577cc" stroke-width="2.1" stroke-linecap="round"/>
<path d="M730.9 80.5L729.8 82.8L728.7 85.2L727.9 86.9" stroke="#4c68c2" stroke-width="3.5" fill="none" stroke-linecap="round" stroke-linejoin="round"/>
<path d="M727.9 86.9L727.6 87.5L726.5 89.8L725.4 92.2L724.9 93.2" stroke="#4c68c2" stroke-width="3.5" fill="none" stroke-linecap="round" stroke-linejoin="round"/>
<path d="M724.9 93.2L724.3 94.5L723.2 96.9L722 99.3L721.9 99.5" stroke="#4c68c2" stroke-width="3.5" fill="none" stroke-linecap="round" stroke-linejoin="round"/>
<path d="M721.9 99.5L720.8 101.7L719.6 104.2L718.7 105.8" stroke="#4c68c2" stroke-width="3.5" fill="none" stroke-linecap="round" stroke-linejoin="round"/>
<path d="M718.7 105.8L718.4 106.6L717.1 109.1L715.8 111.6L715.6 112.1" stroke="#4c68c2" stroke-width="3.5" fill="none" stroke-linecap="round" stroke-linejoin="round"/>
<path d="M715.6 112.1L714.6 114L713.3 116.5L712.4 118.4" stroke="#4c68c2" stroke-width="3.5" fill="none" stroke-linecap="round" stroke-linejoin="round"/>
<path d="M712.4 118.4L712.1 119L710.9 121.5L709.6 124L709.3 124.7" stroke="#4c68c2" stroke-width="3.5" fill="none" stroke-linecap="round" stroke-linejoin="round"/>
<path d="M709.3 124.7L708.4 126.5L707.2 129L706.2 131" stroke="#4c68c2" stroke-width="3.5" fill="none" stroke-linecap="round" stroke-linejoin="round"/>
<path d="M706.2 131L706 131.5L704.8 134L703.5 136.4L703.1 137.3" stroke="#4c68c2" stroke-width="3.5" fill="none" stroke-linecap="round" stroke-linejoin="round"/>
<path d="M703.1 137.3L702.3 138.8L701.1 141.1L699.8 143.5L699.8 143.5" stroke="#4c68c2" stroke-width="3.5" fill="none" stroke-linecap="round" stroke-linejoin="round"/>
<path d="M699.8 143.5L698.6 145.8L697.4 148.1L696.5 149.7" stroke="#4c68c2" stroke-width="3.5" fill="none" stroke-linecap="round" stroke-linejoin="round"/>
<path d="M696.5 149.7L696.1 150.3L694.9 152.5L693.6 154.6L692.9 155.7" stroke="#4c68c2" stroke-width="3.5" fill="none" stroke-linecap="round" stroke-linejoin="round"/>
<path d="M692.9 155.7L692.4 156.6L691.1 158.5L689.9 160.4L689 161.6" stroke="#4c68c2" stroke-width="3.5" fill="none" stroke-linecap="round" stroke-linejoin="round"/>
<path d="M689 161.6L688.6 162.2L687.3 163.9L686.1 165.5L684.8 167.2L684.8 167.2" stroke="#4b70c3" stroke-width="3.5" fill="none" stroke-linecap="round" stroke-linejoin="round"/>
<path d="M684.8 167.2L683.6 168.8L682.5 170.4L681.4 172L680.7 172.9" stroke="#478ac7" stroke-width="3.5" fill="none" stroke-linecap="round" stroke-linejoin="round"/>
<path d="M680.7 172.9L680.4 173.5L679.3 174.9L678.4 176.4L677.4 177.8L676.8 178.7" stroke="#44a4ca" stroke-width="3.5" fill="none" stroke-linecap="round" stroke-linejoin="round"/>
<path d="M676.8 178.7L676.5 179.2L675.5 180.7L674.6 182.3L673.7 184L673.3 184.8" stroke="#40bece" stroke-width="3.5" fill="none" stroke-linecap="round" stroke-linejoin="round"/>
<path d="M673.3 184.8L672.9 185.7L672 187.5L671.2 189.3L670.4 191.1L670.4 191.2" stroke="#3ecfd0" stroke-width="3.5" fill="none" stroke-linecap="round" stroke-linejoin="round"/>
<path d="M670.4 191.2L669.5 192.9L668.7 194.5L667.7 196.1L666.9 197.3" stroke="#3ecfd0" stroke-width="3.5" fill="none" stroke-linecap="round" stroke-linejoin="round"/>
<path d="M666.9 197.3L666.7 197.5L665.7 198.9L664.7 200.2L663.7 201.5L662.6 202.7L662.5 202.8" stroke="#3ecfd0" stroke-width="3.5" fill="none" stroke-linecap="round" stroke-linejoin="round"/>
<path d="M662.5 202.8L661.4 203.8L660.2 204.9L658.8 206L657.3 207L657.1 207.2" stroke="#3ecfd0" stroke-width="3.5" fill="none" stroke-linecap="round" stroke-linejoin="round"/>
<path d="M657.1 207.2L655.7 208L654.1 208.9L652.3 209.8L650.8 210.4" stroke="#3ecfd0" stroke-width="3.5" fill="none" stroke-linecap="round" stroke-linejoin="round"/>
<path d="M650.8 210.4L650.5 210.6L648.7 211.4L646.9 212.2L645 212.9L644.4 213.1" stroke="#3ecfd0" stroke-width="3.5" fill="none" stroke-linecap="round" stroke-linejoin="round"/>
<path d="M644.4 213.1L643.1 213.6L641.2 214.2L639.3 214.8L637.7 215.3" stroke="#3ecfd0" stroke-width="3.5" fill="none" stroke-linecap="round" stroke-linejoin="round"/>
<path d="M637.7 215.3L637.4 215.4L635.4 215.9L633.3 216.5L631.3 217.1L630.9 217.2" stroke="#3ecfd0" stroke-width="3.5" fill="none" stroke-linecap="round" stroke-linejoin="round"/>
<path d="M630.9 217.2L629.2 217.8L627.1 218.6L624.9 219.6L624.4 219.8" stroke="#3ecfd0" stroke-width="3.5" fill="none" stroke-linecap="round" stroke-linejoin="round"/>
<path d="M624.4 219.8L622.7 220.6L620.4 221.6L618.2 222.6L618 222.7" stroke="#42b1cc" stroke-width="3.5" fill="none" stroke-linecap="round" stroke-linejoin="round"/>
<path d="M618 222.7L615.9 223.5L613.6 224.2L611.4 224.7L611.3 224.7" stroke="#478ac7" stroke-width="3.5" fill="none" stroke-linecap="round" stroke-linejoin="round"/>
<path d="M611.3 224.7L609.2 225L606.9 225.2L604.6 225.2L604.3 225.2" stroke="#4c68c2" stroke-width="3.5" fill="none" stroke-linecap="round" stroke-linejoin="round"/>
<path d="M604.3 225.2L602.3 225.2L600.1 225L597.8 224.7L597.3 224.6" stroke="#4e6cc4" stroke-width="3.5" fill="none" stroke-linecap="round" stroke-linejoin="round"/>
<path d="M597.3 224.6L595.7 224.3L593.6 223.7L591.6 223L590.6 222.5" stroke="#506fc7" stroke-width="3.5" fill="none" stroke-linecap="round" stroke-linejoin="round"/>
<path d="M590.6 222.5L589.7 222L587.8 221L586 219.8L584.6 218.8" stroke="#5272c9" stroke-width="3.5" fill="none" stroke-linecap="round" stroke-linejoin="round"/>
<path d="M584.6 218.8L584.2 218.5L582.4 217.3L580.6 216.1L578.8 214.9" stroke="#5475cb" stroke-width="3.5" fill="none" stroke-linecap="round" stroke-linejoin="round"/>
<line x1="694.6" y1="183" x2="687.9" y2="182" stroke="#4f61bd" stroke-width="2.1" stroke-linecap="round"/>
<line x1="693.8" y1="188.9" x2="685.9" y2="187.8" stroke="#4f61bd" stroke-width="2.1" stroke-linecap="round"/>
<line x1="692.9" y1="194.9" x2="683.8" y2="193.4" stroke="#55b0b8" stroke-width="2.1" stroke-linecap="round"/>
<line x1="691.9" y1="200.8" x2="684.6" y2="199.4" stroke="#4f61bd" stroke-width="2.1" stroke-linecap="round"/>
<line x1="690.8" y1="206.7" x2="682.3" y2="205" stroke="#4f61bd" stroke-width="2.1" stroke-linecap="round"/>
<line x1="689.6" y1="212.5" x2="682.9" y2="211.1" stroke="#55b0b8" stroke-width="2.1" stroke-linecap="round"/>
<line x1="688.3" y1="218.4" x2="680.5" y2="216.6" stroke="#4f61bd" stroke-width="2.1" stroke-linecap="round"/>
<line x1="686.9" y1="224.3" x2="678" y2="222.1" stroke="#4f61bd" stroke-width="2.1" stroke-linecap="round"/>
<line x1="685.5" y1="230.1" x2="678.3" y2="228.3" stroke="#55b0b8" stroke-width="2.1" stroke-linecap="round"/>
<line x1="684" y1="235.9" x2="675.7" y2="233.5" stroke="#4f61bd" stroke-width="2.1" stroke-linecap="round"/>
<path d="M695.3 178.3L694.9 180.8L694.6 183.2L694.3 185.5" stroke="#e2937f" stroke-width="3.2" fill="none" stroke-linecap="round" stroke-linejoin="round"/>
<path d="M694.3 185.5L694.3 185.7L693.9 188.1L693.6 190.6L693.3 192.7" stroke="#e19280" stroke-width="3.2" fill="none" stroke-linecap="round" stroke-linejoin="round"/>
<path d="M693.3 192.7L693.2 193.1L692.8 195.5L692.4 198L692.1 199.9" stroke="#e09180" stroke-width="3.2" fill="none" stroke-linecap="round" stroke-linejoin="round"/>
<path d="M692.1 199.9L692 200.5L691.5 202.9L691 205.4L690.7 207.1" stroke="#e09181" stroke-width="3.2" fill="none" stroke-linecap="round" stroke-linejoin="round"/>
<path d="M690.7 207.1L690.5 207.9L690 210.4L689.5 212.8L689.2 214.2" stroke="#df9081" stroke-width="3.2" fill="none" stroke-linecap="round" stroke-linejoin="round"/>
<path d="M689.2 214.2L689 215.3L688.4 217.8L687.8 220.4L687.6 221.3" stroke="#de8f82" stroke-width="3.2" fill="none" stroke-linecap="round" stroke-linejoin="round"/>
<path d="M687.6 221.3L687.2 223.1L686.5 225.8L685.9 228.4" stroke="#de8e82" stroke-width="3.2" fill="none" stroke-linecap="round" stroke-linejoin="round"/>
<path d="M685.9 228.4L685.9 228.6L685.2 231.2L684.6 233.6L684.1 235.5" stroke="#dd8e83" stroke-width="3.2" fill="none" stroke-linecap="round" stroke-linejoin="round"/>
<path d="M684.1 235.5L684 235.8L683.5 237.6L683 238.9L682.4 239.9L681.8 240.5L681.3 240.9L680.9 241.3L680.6 241.7" stroke="#dc8d84" stroke-width="3.2" fill="none" stroke-linecap="round" stroke-linejoin="round"/>
<path d="M680.6 241.7L680.6 241.8L680.4 242.5L680.5 243.5L680.8 244.9L681.4 246.4L682.2 248.2L682.4 248.6" stroke="#db8c84" stroke-width="3.2" fill="none" stroke-linecap="round" stroke-linejoin="round"/>
<path d="M682.4 248.6L683.1 250L684 251.9L684.9 253.8L685.5 255.2" stroke="#db8c85" stroke-width="3.2" fill="none" stroke-linecap="round" stroke-linejoin="round"/>
<path d="M685.5 255.2L685.7 255.6L686.4 257.3L686.9 258.9L687.4 260.4L687.7 261.9L687.8 262.1" stroke="#da8b85" stroke-width="3.2" fill="none" stroke-linecap="round" stroke-linejoin="round"/>
<path d="M687.8 262.1L688.1 263.4L688.4 264.8L688.7 266.3L689 267.7L689.4 269.2" stroke="#d98a86" stroke-width="3.2" fill="none" stroke-linecap="round" stroke-linejoin="round"/>
<line x1="707.2" y1="180.3" x2="712.3" y2="180.9" stroke="#4f61bd" stroke-width="2.1" stroke-linecap="round"/>
<line x1="706.7" y1="185.3" x2="712.6" y2="185.9" stroke="#4f61bd" stroke-width="2.1" stroke-linecap="round"/>
<line x1="706.1" y1="190.2" x2="713" y2="191" stroke="#4f61bd" stroke-width="2.1" stroke-linecap="round"/>
<line x1="705.6" y1="195.2" x2="711.1" y2="195.9" stroke="#4f61bd" stroke-width="2.1" stroke-linecap="round"/>
<path d="M707.2 180.3L707 182.5L706.7 184.7L706.5 186.8L706.4 187.5" stroke="#e2937f" stroke-width="3.0" fill="none" stroke-linecap="round" stroke-linejoin="round"/>
<path d="M706.4 187.5L706.3 189L706 191.2L705.8 193.4L705.6 194.7" stroke="#e19280" stroke-width="3.0" fill="none" stroke-linecap="round" stroke-linejoin="round"/>
<path d="M705.6 194.7L705.5 195.7L705.2 198L704.9 200.4L704.6 201.9" stroke="#e09181" stroke-width="3.0" fill="none" stroke-linecap="round" stroke-linejoin="round"/>
<path d="M704.6 201.9L704.5 202.8L704.1 205.3L703.7 207.8L703.5 209.1" stroke="#df9081" stroke-width="3.0" fill="none" stroke-linecap="round" stroke-linejoin="round"/>
<path d="M703.5 209.1L703.3 210.3L703 212.8L702.6 215.3L702.5 216.2" stroke="#de8f82" stroke-width="3.0" fill="none" stroke-linecap="round" stroke-linejoin="round"/>
<path d="M702.5 216.2L702.3 217.8L702 220.3L701.8 222.9L701.7 223.4" stroke="#dd8e83" stroke-width="3.0" fill="none" stroke-linecap="round" stroke-linejoin="round"/>
<path d="M701.7 223.4L701.6 225.4L701.3 228L701.2 230.5L701.1 230.7" stroke="#dc8d84" stroke-width="3.0" fill="none" stroke-linecap="round" stroke-linejoin="round"/>
<path d="M701.1 230.7L701 233L700.8 235.4L700.7 237.6L700.7 237.9" stroke="#db8c84" stroke-width="3.0" fill="none" stroke-linecap="round" stroke-linejoin="round"/>
<path d="M700.7 237.9L700.6 239.7L700.5 241.7L700.5 243.5L700.4 245.2" stroke="#da8b85" stroke-width="3.0" fill="none" stroke-linecap="round" stroke-linejoin="round"/>
<path d="M700.4 245.2L700.4 245.3L700.4 247.1L700.4 248.8L700.3 250.6L700.3 252.4" stroke="#d98a86" stroke-width="3.0" fill="none" stroke-linecap="round" stroke-linejoin="round"/>
<line x1="732.3" y1="169.1" x2="738.3" y2="171.2" stroke="#4f61bd" stroke-width="2.1" stroke-linecap="round"/>
<line x1="730.2" y1="175.2" x2="737.3" y2="177.6" stroke="#4f61bd" stroke-width="2.1" stroke-linecap="round"/>
<line x1="728.2" y1="181.2" x2="736.4" y2="183.9" stroke="#52b6bc" stroke-width="2.1" stroke-linecap="round"/>
<line x1="726.3" y1="187.3" x2="732.9" y2="189.4" stroke="#4f61bd" stroke-width="2.1" stroke-linecap="round"/>
<line x1="724.4" y1="193.4" x2="732.1" y2="195.8" stroke="#4f61bd" stroke-width="2.1" stroke-linecap="round"/>
<line x1="722.6" y1="199.6" x2="728.8" y2="201.2" stroke="#4f61bd" stroke-width="2.1" stroke-linecap="round"/>
<line x1="721.1" y1="205.8" x2="728.4" y2="207.5" stroke="#52b6bc" stroke-width="2.1" stroke-linecap="round"/>
<line x1="719.8" y1="212.1" x2="728.2" y2="213.8" stroke="#4f61bd" stroke-width="2.1" stroke-linecap="round"/>
<line x1="718.6" y1="218.4" x2="725.4" y2="219.6" stroke="#4f61bd" stroke-width="2.1" stroke-linecap="round"/>
<line x1="717.6" y1="224.7" x2="725.6" y2="225.8" stroke="#4f61bd" stroke-width="2.1" stroke-linecap="round"/>
<line x1="716.8" y1="231" x2="723.2" y2="231.7" stroke="#52b6bc" stroke-width="2.1" stroke-linecap="round"/>
<line x1="716.1" y1="237.4" x2="723.6" y2="238.3" stroke="#4f61bd" stroke-width="2.1" stroke-linecap="round"/>
<path d="M733.9 164.5L733.1 166.7L732.4 168.9L731.6 171L731.5 171.6" stroke="#e2937f" stroke-width="3.2" fill="none" stroke-linecap="round" stroke-linejoin="round"/>
<path d="M731.5 171.6L730.9 173.2L730.1 175.4L729.4 177.6L729 178.7" stroke="#e2937f" stroke-width="3.2" fill="none" stroke-linecap="round" stroke-linejoin="round"/>
<path d="M729 178.7L728.6 179.9L727.9 182.2L727.1 184.6L726.8 185.8" stroke="#e2937f" stroke-width="3.2" fill="none" stroke-linecap="round" stroke-linejoin="round"/>
<path d="M726.8 185.8L726.4 187L725.6 189.5L724.8 192L724.5 193" stroke="#e2937f" stroke-width="3.2" fill="none" stroke-linecap="round" stroke-linejoin="round"/>
<path d="M724.5 193L724.1 194.5L723.3 197L722.6 199.5L722.5 200.2" stroke="#e2937f" stroke-width="3.2" fill="none" stroke-linecap="round" stroke-linejoin="round"/>
<path d="M722.5 200.2L722 202L721.4 204.5L720.8 207L720.7 207.4" stroke="#e2937f" stroke-width="3.2" fill="none" stroke-linecap="round" stroke-linejoin="round"/>
<path d="M720.7 207.4L720.3 209.6L719.8 212.2L719.3 214.7L719.2 214.8" stroke="#e2937f" stroke-width="3.2" fill="none" stroke-linecap="round" stroke-linejoin="round"/>
<path d="M719.2 214.8L718.8 217.1L718.4 219.5L718 221.8L717.9 222.2" stroke="#e2937f" stroke-width="3.2" fill="none" stroke-linecap="round" stroke-linejoin="round"/>
<path d="M717.9 222.2L717.7 224L717.4 226.1L717.1 228.1L717 229.6" stroke="#e2937f" stroke-width="3.2" fill="none" stroke-linecap="round" stroke-linejoin="round"/>
<path d="M717 229.6L716.9 230L716.7 231.9L716.5 233.8L716.3 235.7L716.2 237" stroke="#e2937f" stroke-width="3.2" fill="none" stroke-linecap="round" stroke-linejoin="round"/>
<path d="M716.2 237L716.1 237.6L715.8 239.6L715.6 241.6L715.3 243.6L715.2 244.5" stroke="#e2937f" stroke-width="3.2" fill="none" stroke-linecap="round" stroke-linejoin="round"/>
<path d="M715.2 244.5L715 245.6L714.8 247.5L714.5 249.3L714.3 250.9L714.2 251.9" stroke="#d6868e" stroke-width="3.2" fill="none" stroke-linecap="round" stroke-linejoin="round"/>
<path d="M714.2 251.9L714.1 252.4L713.9 253.6L713.8 254.7L713.7 255.6L713.5 256.3L713.4 257.1L713.3 257.8L713.2 258.5L713.1 259.3" stroke="#bd6aaf" stroke-width="3.2" fill="none" stroke-linecap="round" stroke-linejoin="round"/>
<path d="M612 250L614.2 249.6L616.4 249L618.6 248.4L618.9 248.4" stroke="#4c8d89" stroke-width="1.2" fill="none" stroke-linecap="round" stroke-linejoin="round"/>
<path d="M618.9 248.4L620.8 247.9L623 247.4L625.2 247L625.8 247" stroke="#4a8a87" stroke-width="1.2" fill="none" stroke-linecap="round" stroke-linejoin="round"/>
<path d="M625.8 247L627.6 246.9L630 247L632.6 247.4L632.8 247.5" stroke="#488685" stroke-width="1.2" fill="none" stroke-linecap="round" stroke-linejoin="round"/>
<path d="M632.8 247.5L635.2 248L637.9 248.8L639.6 249.4" stroke="#468384" stroke-width="1.2" fill="none" stroke-linecap="round" stroke-linejoin="round"/>
<path d="M639.6 249.4L640.7 249.8L643.5 250.9L646.2 251.9" stroke="#438082" stroke-width="1.2" fill="none" stroke-linecap="round" stroke-linejoin="round"/>
<path d="M646.2 251.9L646.3 251.9L649.2 253L652 254L652.9 254.3" stroke="#417c80" stroke-width="1.2" fill="none" stroke-linecap="round" stroke-linejoin="round"/>
<path d="M652.9 254.3L654.8 254.9L657.5 255.8L659.6 256.5" stroke="#3f797e" stroke-width="1.2" fill="none" stroke-linecap="round" stroke-linejoin="round"/>
<path d="M659.6 256.5L660.2 256.7L663 257.6L665.8 258.5L666.3 258.7" stroke="#3d757c" stroke-width="1.2" fill="none" stroke-linecap="round" stroke-linejoin="round"/>
<path d="M666.3 258.7L668.7 259.6L671.8 260.7L672.9 261.2" stroke="#3b727a" stroke-width="1.2" fill="none" stroke-linecap="round" stroke-linejoin="round"/>
<path d="M672.9 261.2L675 262L678.4 263.5L679.4 263.9" stroke="#396e78" stroke-width="1.2" fill="none" stroke-linecap="round" stroke-linejoin="round"/>
<path d="M679.4 263.9L682 265.1L685.7 266.8L685.9 266.9" stroke="#366b76" stroke-width="1.2" fill="none" stroke-linecap="round" stroke-linejoin="round"/>
<path d="M685.9 266.9L689.6 268.6L692.2 269.9" stroke="#346875" stroke-width="1.2" fill="none" stroke-linecap="round" stroke-linejoin="round"/>
<path d="M692.2 269.9L693.4 270.5L697.3 272.4L698.6 273" stroke="#326473" stroke-width="1.2" fill="none" stroke-linecap="round" stroke-linejoin="round"/>
<path d="M698.6 273L701.2 274.2L705 276" stroke="#306171" stroke-width="1.2" fill="none" stroke-linecap="round" stroke-linejoin="round"/>
<line x1="672" y1="230.5" x2="679" y2="232.5" stroke="#e8d24a" stroke-width="1.6"/>
<circle cx="354.1" cy="77.2" r="30" fill="url(#glow)"/>
<circle cx="387.7" cy="73.2" r="30" fill="url(#glow)"/>
<circle cx="733.9" cy="72.8" r="30" fill="url(#glow)"/>
<polygon points="362.4,79.3 359.6,80.7 360.4,84.8 356.2,82.5 354.6,85.7 352.5,83.5 348.9,85.5 349.7,80.8 346.2,80.4 347.6,77.6 344.6,74.8 349.3,74.2 348.6,70.6 351.7,71.2 353.5,67.4 355.5,71.7 358.7,70 359.1,73.1 363.2,73.6 359.8,76.8" fill="#e22a30"/>
<path d="M349.1 78.2L353.1 76.2L352.1 81.2Z M355.1 72.2L358.1 76.2L354.1 76.2Z" fill="#b3141c"/>
<path d="M351.1 73.2L354.1 75.7L350.6 76.7Z M355.1 78.2L359.1 79.2L356.1 82.2Z" fill="#f4605a"/>
<polygon points="396,75.3 393.2,76.7 394,80.8 389.8,78.5 388.2,81.7 386.1,79.5 382.5,81.5 383.3,76.8 379.8,76.4 381.2,73.6 378.2,70.8 382.9,70.2 382.2,66.6 385.3,67.2 387.1,63.4 389.1,67.7 392.3,66 392.7,69.1 396.8,69.6 393.4,72.8" fill="#e22a30"/>
<path d="M382.7 74.2L386.7 72.2L385.7 77.2Z M388.7 68.2L391.7 72.2L387.7 72.2Z" fill="#b3141c"/>
<path d="M384.7 69.2L387.7 71.7L384.2 72.7Z M388.7 74.2L392.7 75.2L389.7 78.2Z" fill="#f4605a"/>
<polygon points="742.2,74.9 739.4,76.3 740.2,80.4 736,78.1 734.4,81.3 732.3,79.1 728.7,81.1 729.5,76.4 726,76 727.4,73.2 724.4,70.4 729.1,69.8 728.4,66.2 731.5,66.8 733.3,63 735.3,67.3 738.5,65.6 738.9,68.7 743,69.2 739.6,72.4" fill="#e22a30"/>
<path d="M728.9 73.8L732.9 71.8L731.9 76.8Z M734.9 67.8L737.9 71.8L733.9 71.8Z" fill="#b3141c"/>
<path d="M730.9 68.8L733.9 71.3L730.4 72.3Z M734.9 73.8L738.9 74.8L735.9 77.8Z" fill="#f4605a"/>
<polygon points="636.8,146.5 652.8,145.8 649,149.7 661.2,159.9 653.9,167.8 642,157.9 638.2,161.8" fill="#c00d12"/>
<line x1="294.6" y1="74.8" x2="333.2" y2="74.8" stroke="#000" stroke-width="2"/>
<line x1="311.4" y1="126.7" x2="357.7" y2="126.7" stroke="#000" stroke-width="2"/>
<line x1="293.4" y1="188.7" x2="355.2" y2="188.7" stroke="#fff" stroke-width="2"/>
<line x1="442.8" y1="194.6" x2="472.8" y2="194.6" stroke="#fbf7df" stroke-width="2"/>
<line x1="715" y1="233.3" x2="749" y2="269.5" stroke="#fff" stroke-width="2.2"/>
<g>
<text x="247.7" y="84.2" font-size="26.7" text-anchor="start" fill="#000">Cy5</text>
<text x="151.3" y="140.7" font-size="26.7" text-anchor="start" fill="#000">RPA product</text>
<text x="144.5" y="194.1" font-size="26.7" text-anchor="start" fill="#000">DNA probe</text>
<text x="164.7" y="225.6" font-size="26.7" text-anchor="start" fill="#000">(match)</text>
<text x="493.2" y="129.3" font-size="26.7" text-anchor="start" fill="#000">Hindrance by</text>
<text x="514.2" y="160.6" font-size="26.7" text-anchor="start" fill="#000">mismatch</text>
<text x="486.6" y="208.6" font-size="26.7" text-anchor="start" fill="#fcf7dc">Target</text>
<text x="486.1" y="240.3" font-size="26.7" text-anchor="start" fill="#fcf7dc">region</text>
<text x="694.9" y="300.3" font-size="26.7" text-anchor="start" fill="#fdf6ee">DNA probe</text>
<text x="696.4" y="331.3" font-size="26.7" text-anchor="start" fill="#fdf6ee">(</text>
<text x="708.3" y="331.3" font-size="26.7" text-anchor="start" fill="#fdf6ee">mismatch</text>
<text x="824.7" y="331.3" font-size="26.7" text-anchor="start" fill="#fdf6ee">)</text>
</g>
<text x="-0.9" y="28.6" font-size="39.5" text-anchor="start" fill="#000" font-weight="bold">a</text>
</g>
<g>
<text x="1006.9" y="33.6" font-size="39.5" text-anchor="start" fill="#000" font-weight="bold">b</text>
<rect x="1262.2" y="386.6" width="16" height="7.4" fill="#140b35"/>
<rect x="1281" y="132" width="16" height="262" fill="#57106e"/>
<rect x="1300.2" y="376.6" width="16" height="17.4" fill="#9d2964"/>
<rect x="1316.4" y="387" width="2" height="7" fill="#111"/>
<rect x="1337.5" y="390" width="16" height="4" fill="#fb9b06"/>
<rect x="1357" y="392.2" width="16" height="2" fill="#f3e55d"/>
<rect x="1423.2" y="268.4" width="16" height="125.6" fill="#57106e"/>
<rect x="1442.2" y="379.3" width="16" height="14.7" fill="#9d2964"/>
<rect x="1458.4" y="387" width="2" height="7" fill="#111"/>
<rect x="1565" y="354.7" width="16" height="39.3" fill="#57106e"/>
<rect x="1584" y="382.8" width="16" height="11.2" fill="#9d2964"/>
<rect x="1600.4" y="386.5" width="2" height="7.5" fill="#111"/>
<rect x="1707.1" y="382.8" width="16" height="11.2" fill="#57106e"/>
<rect x="1726.3" y="388.6" width="16" height="5.4" fill="#9d2964"/>
<rect x="1742.6" y="386.5" width="2" height="7.5" fill="#111"/>
<rect x="1830.6" y="390.6" width="16" height="3.4" fill="#140b35"/>
<rect x="1849.8" y="388" width="16" height="6" fill="#57106e"/>
<rect x="1868.6" y="391" width="16" height="3" fill="#9d2964"/>
<rect x="1885.4" y="387" width="2" height="7" fill="#111"/>
<rect x="2027" y="387" width="2" height="7" fill="#111"/>
<rect x="1279" y="261" width="20" height="7.4" fill="#fff"/>
<line x1="1289" y1="36.5" x2="1289" y2="132" stroke="#8a8a8a" stroke-width="1"/>
<line x1="1284" y1="36.5" x2="1294" y2="36.5" stroke="#8a8a8a" stroke-width="1"/>
<line x1="1289" y1="132" x2="1289" y2="261" stroke="#3c0a50" stroke-width="1"/>
<ellipse cx="1284.6" cy="65.8" rx="2" ry="1.2" fill="#000"/>
<ellipse cx="1293.2" cy="71" rx="2" ry="1.2" fill="#000"/>
<ellipse cx="1289" cy="259" rx="2" ry="1" fill="#000"/>
<line x1="1270" y1="380.5" x2="1270" y2="386.6" stroke="#333" stroke-width="1"/>
<line x1="1264.5" y1="380.5" x2="1275.5" y2="380.5" stroke="#333" stroke-width="1"/>
<ellipse cx="1265" cy="381.2" rx="2.2" ry="1.2" fill="#000"/>
<ellipse cx="1270" cy="384" rx="2" ry="1.2" fill="#000"/>
<line x1="1308" y1="369" x2="1308" y2="376.6" stroke="#555" stroke-width="1"/>
<line x1="1304" y1="369" x2="1312" y2="369" stroke="#555" stroke-width="1"/>
<ellipse cx="1308" cy="368.2" rx="2.2" ry="1.3" fill="#000"/>
<ellipse cx="1302.5" cy="378.6" rx="2" ry="1.2" fill="#000"/>
<ellipse cx="1313.5" cy="382.6" rx="2" ry="1.2" fill="#000"/>
<line x1="1345.5" y1="384.5" x2="1345.5" y2="390" stroke="#555" stroke-width="1"/>
<line x1="1341.5" y1="384.5" x2="1349.5" y2="384.5" stroke="#555" stroke-width="1"/>
<ellipse cx="1349.5" cy="383" rx="2.2" ry="1.3" fill="#000"/>
<ellipse cx="1342" cy="389.8" rx="2" ry="1.2" fill="#000"/>
<ellipse cx="1361" cy="392.6" rx="1.8" ry="1.2" fill="#000"/>
<ellipse cx="1368.5" cy="391.6" rx="2" ry="1.3" fill="#000"/>
<ellipse cx="1408" cy="392.8" rx="2" ry="1.2" fill="#000"/>
<ellipse cx="1416" cy="393" rx="2" ry="1.1" fill="#000"/>
<line x1="1450" y1="373" x2="1450" y2="379.3" stroke="#555" stroke-width="1"/>
<line x1="1445.5" y1="373" x2="1454.5" y2="373" stroke="#555" stroke-width="1"/>
<ellipse cx="1455" cy="371.2" rx="2.2" ry="1.3" fill="#000"/>
<ellipse cx="1450" cy="381.6" rx="2" ry="1.3" fill="#000"/>
<ellipse cx="1445" cy="384.8" rx="2" ry="1.2" fill="#000"/>
<ellipse cx="1484" cy="393" rx="1.6" ry="1" fill="#000"/>
<ellipse cx="1491.5" cy="392.6" rx="2" ry="1.2" fill="#000"/>
<ellipse cx="1502.5" cy="392.8" rx="1.8" ry="1" fill="#000"/>
<ellipse cx="1549" cy="392" rx="2" ry="1.6" fill="#000"/>
<ellipse cx="1556" cy="393" rx="2" ry="1" fill="#000"/>
<line x1="1573" y1="349.6" x2="1573" y2="354.7" stroke="#444" stroke-width="1"/>
<line x1="1569" y1="349.6" x2="1577" y2="349.6" stroke="#444" stroke-width="1"/>
<ellipse cx="1578.5" cy="348.4" rx="2.2" ry="1.3" fill="#000"/>
<ellipse cx="1569" cy="359" rx="2" ry="1" fill="#000"/>
<ellipse cx="1586.5" cy="381.8" rx="2" ry="1.3" fill="#000"/>
<ellipse cx="1592" cy="382.6" rx="2.4" ry="1.2" fill="#000"/>
<ellipse cx="1598" cy="382" rx="2" ry="1.3" fill="#000"/>
<ellipse cx="1607" cy="392.2" rx="2" ry="1.4" fill="#000"/>
<ellipse cx="1613" cy="393" rx="2" ry="1" fill="#000"/>
<ellipse cx="1694" cy="392.8" rx="2" ry="1" fill="#000"/>
<ellipse cx="1700.5" cy="392.4" rx="2" ry="1.2" fill="#000"/>
<ellipse cx="1711" cy="382.4" rx="2" ry="1.2" fill="#000"/>
<ellipse cx="1716" cy="382.8" rx="2.4" ry="1" fill="#000"/>
<ellipse cx="1721.5" cy="381.2" rx="2" ry="1.3" fill="#000"/>
<line x1="1734.5" y1="384.4" x2="1734.5" y2="388.6" stroke="#444" stroke-width="1"/>
<line x1="1731" y1="384.4" x2="1738" y2="384.4" stroke="#444" stroke-width="1"/>
<ellipse cx="1734.5" cy="383.2" rx="2.2" ry="1.3" fill="#000"/>
<ellipse cx="1731" cy="390" rx="2" ry="1" fill="#000"/>
<ellipse cx="1739" cy="390.4" rx="2" ry="1" fill="#000"/>
<line x1="1838" y1="385.6" x2="1838" y2="390.6" stroke="#444" stroke-width="1"/>
<line x1="1834" y1="385.6" x2="1842" y2="385.6" stroke="#444" stroke-width="1"/>
<ellipse cx="1842.5" cy="384" rx="2.2" ry="1.3" fill="#000"/>
<ellipse cx="1857" cy="386.6" rx="2.2" ry="1.3" fill="#000"/>
<line x1="1876.5" y1="387" x2="1876.5" y2="391" stroke="#444" stroke-width="1"/>
<line x1="1872.5" y1="387" x2="1880.5" y2="387" stroke="#444" stroke-width="1"/>
<ellipse cx="1872.5" cy="386.6" rx="2.2" ry="1.3" fill="#000"/>
<ellipse cx="1880.5" cy="389.2" rx="2" ry="1.2" fill="#000"/>
<ellipse cx="1910" cy="392.8" rx="2" ry="1.1" fill="#000"/>
<ellipse cx="1917" cy="392.8" rx="2" ry="1.1" fill="#000"/>
<ellipse cx="1921" cy="392.8" rx="2" ry="1.1" fill="#000"/>
<ellipse cx="1929" cy="392.8" rx="2" ry="1.1" fill="#000"/>
<ellipse cx="1937" cy="392.8" rx="2" ry="1.1" fill="#000"/>
<ellipse cx="1977" cy="392.8" rx="2" ry="1.1" fill="#000"/>
<ellipse cx="1994" cy="392.8" rx="2" ry="1.1" fill="#000"/>
<ellipse cx="1999" cy="392.8" rx="2" ry="1.1" fill="#000"/>
<ellipse cx="2004" cy="392.8" rx="2" ry="1.1" fill="#000"/>
<ellipse cx="2013" cy="392.8" rx="2" ry="1.1" fill="#000"/>
<ellipse cx="2018" cy="392.8" rx="2" ry="1.1" fill="#000"/>
<ellipse cx="2023" cy="392.8" rx="2" ry="1.1" fill="#000"/>
<ellipse cx="2056" cy="392.8" rx="2" ry="1.1" fill="#000"/>
<ellipse cx="2061" cy="392.8" rx="2" ry="1.1" fill="#000"/>
<ellipse cx="2072" cy="392.8" rx="2" ry="1.1" fill="#000"/>
<ellipse cx="2079" cy="392.8" rx="2" ry="1.1" fill="#000"/>
<line x1="1246.5" y1="8.2" x2="1246.5" y2="395.2" stroke="#000" stroke-width="3"/>
<line x1="1245" y1="394" x2="2098.6" y2="394" stroke="#000" stroke-width="2.0"/>
<line x1="1246.5" y1="9.5" x2="1260" y2="9.5" stroke="#000" stroke-width="2.4"/>
<line x1="1246.5" y1="72.4" x2="1253" y2="72.4" stroke="#000" stroke-width="2.4"/>
<line x1="1246.5" y1="135.3" x2="1260" y2="135.3" stroke="#000" stroke-width="2.4"/>
<line x1="1246.5" y1="198.2" x2="1253" y2="198.2" stroke="#000" stroke-width="2.4"/>
<line x1="1246.5" y1="330.7" x2="1253" y2="330.7" stroke="#000" stroke-width="2.4"/>
<rect x="1241" y="262.5" width="12" height="6" fill="#fff"/>
<line x1="1233" y1="266.1" x2="1259.8" y2="257.5" stroke="#000" stroke-width="1.8"/>
<line x1="1233" y1="272.3" x2="1259.8" y2="263.8" stroke="#000" stroke-width="1.8"/>
<line x1="1540.5" y1="284.5" x2="1565" y2="352.8" stroke="#222" stroke-width="1.3" stroke-dasharray="8 3 1.5 3"/>
<line x1="2046.6" y1="393.7" x2="2170" y2="282" stroke="#222" stroke-width="1.3" stroke-dasharray="8 3 1.5 3"/>
<text transform="translate(1233.4 19.7) scale(1.065 1)" font-size="22" text-anchor="end">12,000</text>
<text transform="translate(1233.4 143.2) scale(1.065 1)" font-size="22" text-anchor="end">11,000</text>
<text transform="translate(1233.4 338.6) scale(1.065 1)" font-size="22" text-anchor="end">500</text>
<text transform="translate(1233.4 419.5) scale(1.065 1)" font-size="22" text-anchor="end">0</text>
<text transform="translate(1314 432.6) scale(1.06 1)" font-size="22" text-anchor="middle">10,000</text>
<text transform="translate(1460.8 432.6) scale(1.06 1)" font-size="22" text-anchor="middle">1,000</text>
<text transform="translate(1602.3 432.6) scale(1.06 1)" font-size="22" text-anchor="middle">100</text>
<text transform="translate(1743.6 432.6) scale(1.06 1)" font-size="22" text-anchor="middle">10</text>
<text transform="translate(1884.8 432.6) scale(1.06 1)" font-size="22" text-anchor="middle">1</text>
<text transform="translate(2023 432.6) scale(1.06 1)" font-size="22" text-anchor="middle">0</text>
<text transform="translate(1693.5 479.5) scale(1.087 1)" font-size="27.3" text-anchor="middle">Alpha lentivirus viral particles (cp/rxn)</text>
<text transform="translate(1090.6 222.5) rotate(-90)" font-size="29.4" text-anchor="middle">Background subtracted</text>
<text transform="translate(1127 223.2) rotate(-90)" font-size="29" text-anchor="middle">fluorescence</text>
<rect x="1618.6" y="264" width="15.3" height="3.8" fill="#140b35"/>
<rect x="1637.1" y="71.4" width="15.3" height="196.4" fill="#57106e"/>
<rect x="1655" y="212.8" width="15.3" height="55" fill="#9d2964"/>
<rect x="1671.4" y="261" width="1.6" height="6.8" fill="#111"/>
<rect x="1673.4" y="266.2" width="15.3" height="1.6" fill="#dd513a"/>
<rect x="1755.7" y="265.2" width="15.3" height="2.6" fill="#140b35"/>
<rect x="1773.9" y="210.3" width="15.3" height="57.5" fill="#57106e"/>
<rect x="1792.1" y="240" width="15.3" height="27.8" fill="#9d2964"/>
<rect x="1808.4" y="261" width="1.6" height="6.8" fill="#111"/>
<rect x="1892.3" y="249.1" width="15.3" height="18.7" fill="#140b35"/>
<rect x="1911" y="236.9" width="15.3" height="30.9" fill="#57106e"/>
<rect x="1929.1" y="250.8" width="15.3" height="17" fill="#9d2964"/>
<rect x="1945" y="261" width="1.6" height="6.8" fill="#111"/>
<rect x="1965.3" y="263.7" width="15.3" height="4.1" fill="#fb9b06"/>
<rect x="2029.4" y="266.2" width="15.3" height="1.6" fill="#140b35"/>
<rect x="2047.8" y="264.3" width="15.3" height="3.5" fill="#57106e"/>
<rect x="2066" y="263.7" width="15.3" height="4.1" fill="#9d2964"/>
<rect x="2082" y="260.5" width="1.6" height="7.3" fill="#111"/>
<rect x="2102" y="265.5" width="15.3" height="2.3" fill="#fb9b06"/>
<rect x="2120.3" y="265.5" width="15.3" height="2.3" fill="#f3e55d"/>
<line x1="1644.6" y1="45.2" x2="1644.6" y2="71.4" stroke="#8a8a8a" stroke-width="1"/>
<line x1="1641.1" y1="45.2" x2="1648.1" y2="45.2" stroke="#8a8a8a" stroke-width="1"/>
<ellipse cx="1644.6" cy="39" rx="1.2" ry="1.2" fill="#000"/>
<ellipse cx="1644.6" cy="76.5" rx="1.2" ry="1.2" fill="#000"/>
<ellipse cx="1644.6" cy="97.5" rx="1.2" ry="1.2" fill="#000"/>
<line x1="1644.6" y1="71.4" x2="1644.6" y2="120" stroke="#3c0a50" stroke-width="0.8"/>
<line x1="1626" y1="259.5" x2="1626" y2="264" stroke="#8a8a8a" stroke-width="1"/>
<line x1="1621.5" y1="259.5" x2="1630.5" y2="259.5" stroke="#8a8a8a" stroke-width="1"/>
<ellipse cx="1621.4" cy="258" rx="1.3" ry="1.3" fill="#000"/>
<line x1="1662.6" y1="208.3" x2="1662.6" y2="212.8" stroke="#8a8a8a" stroke-width="1"/>
<line x1="1658.6" y1="208.3" x2="1666.6" y2="208.3" stroke="#8a8a8a" stroke-width="1"/>
<ellipse cx="1657.5" cy="208.3" rx="1.3" ry="1.3" fill="#000"/>
<ellipse cx="1668" cy="212" rx="1.3" ry="1.3" fill="#000"/>
<ellipse cx="1662.6" cy="217.6" rx="1.3" ry="1.3" fill="#000"/>
<line x1="1681" y1="262.4" x2="1681" y2="266.2" stroke="#8a8a8a" stroke-width="1"/>
<line x1="1677" y1="262.4" x2="1685" y2="262.4" stroke="#8a8a8a" stroke-width="1"/>
<ellipse cx="1677.2" cy="261.4" rx="1.3" ry="1.3" fill="#000"/>
<line x1="1763.2" y1="261.6" x2="1763.2" y2="265.2" stroke="#333" stroke-width="1"/>
<line x1="1758.7" y1="261.6" x2="1767.7" y2="261.6" stroke="#333" stroke-width="1"/>
<ellipse cx="1759.3" cy="263.4" rx="1.3" ry="1.3" fill="#000"/>
<ellipse cx="1767" cy="261.6" rx="1.3" ry="1.3" fill="#000"/>
<line x1="1781.5" y1="206" x2="1781.5" y2="210.3" stroke="#8a8a8a" stroke-width="1"/>
<line x1="1778.5" y1="206" x2="1784.5" y2="206" stroke="#8a8a8a" stroke-width="1"/>
<ellipse cx="1781.5" cy="204.2" rx="1.3" ry="1.3" fill="#000"/>
<line x1="1799.8" y1="220.5" x2="1799.8" y2="240" stroke="#8a8a8a" stroke-width="1"/>
<line x1="1795.8" y1="220.5" x2="1803.8" y2="220.5" stroke="#8a8a8a" stroke-width="1"/>
<ellipse cx="1799.8" cy="215" rx="1.3" ry="1.3" fill="#000"/>
<ellipse cx="1796" cy="249" rx="1.3" ry="1.3" fill="#000"/>
<ellipse cx="1803.5" cy="255.4" rx="1.3" ry="1.3" fill="#000"/>
<line x1="1900" y1="224.3" x2="1900" y2="249.1" stroke="#8a8a8a" stroke-width="1"/>
<line x1="1896" y1="224.3" x2="1904" y2="224.3" stroke="#8a8a8a" stroke-width="1"/>
<ellipse cx="1900" cy="220.2" rx="1.3" ry="1.3" fill="#000"/>
<line x1="1918.5" y1="232.5" x2="1918.5" y2="236.9" stroke="#8a8a8a" stroke-width="1"/>
<line x1="1915.5" y1="232.5" x2="1921.5" y2="232.5" stroke="#8a8a8a" stroke-width="1"/>
<ellipse cx="1918.5" cy="230.4" rx="1.3" ry="1.3" fill="#000"/>
<line x1="1936.6" y1="229" x2="1936.6" y2="250.8" stroke="#8a8a8a" stroke-width="1"/>
<line x1="1932.6" y1="229" x2="1940.6" y2="229" stroke="#8a8a8a" stroke-width="1"/>
<ellipse cx="1936.6" cy="231" rx="1.3" ry="1.3" fill="#000"/>
<ellipse cx="1936.6" cy="242.7" rx="1.3" ry="1.3" fill="#000"/>
<line x1="1936.6" y1="250.8" x2="1936.6" y2="266" stroke="#5a1038" stroke-width="0.8"/>
<ellipse cx="1972.8" cy="262.6" rx="1.5" ry="1.5" fill="#000"/>
<ellipse cx="1978.3" cy="261.8" rx="1.5" ry="1.5" fill="#000"/>
<ellipse cx="2033.3" cy="261.8" rx="1.4" ry="1.4" fill="#000"/>
<line x1="2039" y1="263" x2="2039" y2="266" stroke="#8a8a8a" stroke-width="1"/>
<line x1="2036.5" y1="263" x2="2041.5" y2="263" stroke="#8a8a8a" stroke-width="1"/>
<ellipse cx="2050" cy="261.2" rx="1.3" ry="1.3" fill="#000"/>
<line x1="2055.5" y1="262" x2="2055.5" y2="264.3" stroke="#8a8a8a" stroke-width="1"/>
<line x1="2052.5" y1="262" x2="2058.5" y2="262" stroke="#8a8a8a" stroke-width="1"/>
<ellipse cx="2069.6" cy="260" rx="1.4" ry="1.4" fill="#000"/>
<line x1="2074" y1="259.8" x2="2074" y2="263.7" stroke="#8a8a8a" stroke-width="1"/>
<line x1="2071" y1="259.8" x2="2077" y2="259.8" stroke="#8a8a8a" stroke-width="1"/>
<ellipse cx="2077" cy="263" rx="1.3" ry="1.3" fill="#000"/>
<ellipse cx="2106" cy="264.4" rx="1.3" ry="1.3" fill="#000"/>
<ellipse cx="2113.5" cy="263" rx="1.4" ry="1.4" fill="#000"/>
<ellipse cx="2124" cy="263.6" rx="1.3" ry="1.3" fill="#000"/>
<ellipse cx="2131.6" cy="264.4" rx="1.3" ry="1.3" fill="#000"/>
<line x1="1604" y1="16.1" x2="1604" y2="268.6" stroke="#000" stroke-width="1.9"/>
<line x1="1603" y1="267.8" x2="2151" y2="267.8" stroke="#000" stroke-width="1.6"/>
<line x1="1604" y1="17" x2="1612.3" y2="17" stroke="#000" stroke-width="1.8"/>
<line x1="1604" y1="80" x2="1608.2" y2="80" stroke="#000" stroke-width="1.8"/>
<line x1="1604" y1="142.6" x2="1612.3" y2="142.6" stroke="#000" stroke-width="1.8"/>
<line x1="1604" y1="205.3" x2="1608.2" y2="205.3" stroke="#000" stroke-width="1.8"/>
<text transform="translate(1588 32.1) scale(1.08 1)" font-size="22" text-anchor="end">400</text>
<text transform="translate(1588 150.5) scale(1.08 1)" font-size="22" text-anchor="end">200</text>
<text transform="translate(1588 275.5) scale(1.08 1)" font-size="22" text-anchor="end">0</text>
<text transform="translate(1667.4 299.7) scale(1.08 1)" font-size="22" text-anchor="middle">100</text>
<text transform="translate(1809.6 299.7) scale(1.08 1)" font-size="22" text-anchor="middle">10</text>
<text transform="translate(1946 299.7) scale(1.08 1)" font-size="22" text-anchor="middle">1</text>
<text transform="translate(2077.4 299.7) scale(1.08 1)" font-size="22" text-anchor="middle">0</text>
<rect x="1934" y="1.9" width="27.6" height="17.3" fill="#140b35"/>
<text transform="translate(1977 16.6) scale(1.058 1)" font-size="16.7" text-anchor="start">Y144Y</text>
<rect x="1934" y="21.2" width="27.6" height="17.3" fill="#57106e"/>
<text transform="translate(1977 35.8) scale(1.058 1)" font-size="16.7" text-anchor="start">Y144del</text>
<rect x="1934" y="40.5" width="27.6" height="17.3" fill="#9d2964"/>
<text transform="translate(1977 54.9) scale(1.058 1)" font-size="16.7" text-anchor="start">Y144SY145N</text>
<rect x="1934" y="59.9" width="27.6" height="17.3" fill="#dd513a"/>
<text transform="translate(1977 74.1) scale(1.058 1)" font-size="16.7" text-anchor="start">G142D143-145del</text>
<rect x="1934" y="79.2" width="27.6" height="17.3" fill="#fb9b06"/>
<text transform="translate(1977 93.2) scale(1.058 1)" font-size="16.7" text-anchor="start">G142D</text>
<rect x="1934" y="98.5" width="27.6" height="17.3" fill="#f3e55d"/>
<text transform="translate(1977 112.4) scale(1.058 1)" font-size="16.7" text-anchor="start">G142DY145H</text>
</g>
<g>
<rect x="246.4" y="707.3" width="77.2" height="519.4" fill="#038386" stroke="#000" stroke-width="2"/>
<rect x="382.5" y="885.1" width="77.2" height="341.6" fill="#038386" stroke="#000" stroke-width="2"/>
<rect x="518.6" y="915.2" width="77.2" height="311.5" fill="#038386" stroke="#000" stroke-width="2"/>
<rect x="654.7" y="1010.6" width="77.2" height="216.1" fill="#038386" stroke="#000" stroke-width="2"/>
<rect x="790.8" y="985.3" width="77.2" height="241.4" fill="#038386" stroke="#000" stroke-width="2"/>
<rect x="926.9" y="1222" width="77.2" height="4.7" fill="#038386" stroke="#000" stroke-width="2"/>
<line x1="217.5" y1="566.1" x2="217.5" y2="1228" stroke="#000" stroke-width="2.6"/>
<line x1="216.2" y1="1226.7" x2="1033" y2="1226.7" stroke="#000" stroke-width="2.6"/>
<line x1="217.5" y1="567.4" x2="229.2" y2="567.4" stroke="#000" stroke-width="2.6"/>
<line x1="217.5" y1="633.3" x2="223.8" y2="633.3" stroke="#000" stroke-width="2.6"/>
<line x1="217.5" y1="699.3" x2="229.2" y2="699.3" stroke="#000" stroke-width="2.6"/>
<line x1="217.5" y1="765.2" x2="223.8" y2="765.2" stroke="#000" stroke-width="2.6"/>
<line x1="217.5" y1="831.1" x2="229.2" y2="831.1" stroke="#000" stroke-width="2.6"/>
<line x1="217.5" y1="897" x2="223.8" y2="897" stroke="#000" stroke-width="2.6"/>
<line x1="217.5" y1="963" x2="229.2" y2="963" stroke="#000" stroke-width="2.6"/>
<line x1="217.5" y1="1028.9" x2="223.8" y2="1028.9" stroke="#000" stroke-width="2.6"/>
<line x1="217.5" y1="1094.8" x2="229.2" y2="1094.8" stroke="#000" stroke-width="2.6"/>
<line x1="217.5" y1="1160.8" x2="223.8" y2="1160.8" stroke="#000" stroke-width="2.6"/>
<line x1="285" y1="1213.7" x2="285" y2="1226.7" stroke="#000" stroke-width="2"/>
<line x1="421.1" y1="1213.7" x2="421.1" y2="1226.7" stroke="#000" stroke-width="2"/>
<line x1="557.2" y1="1213.7" x2="557.2" y2="1226.7" stroke="#000" stroke-width="2"/>
<line x1="693.3" y1="1213.7" x2="693.3" y2="1226.7" stroke="#000" stroke-width="2"/>
<line x1="829.4" y1="1213.7" x2="829.4" y2="1226.7" stroke="#000" stroke-width="2"/>
<line x1="965.5" y1="1213.7" x2="965.5" y2="1226.7" stroke="#000" stroke-width="2"/>
<line x1="285" y1="654.9" x2="285" y2="759.4" stroke="#000" stroke-width="2"/>
<line x1="280.5" y1="654.9" x2="289.5" y2="654.9" stroke="#000" stroke-width="2"/>
<line x1="280.5" y1="759.4" x2="289.5" y2="759.4" stroke="#000" stroke-width="2"/>
<line x1="420.5" y1="865" x2="420.5" y2="904" stroke="#000" stroke-width="2"/>
<line x1="416" y1="865" x2="425" y2="865" stroke="#000" stroke-width="2"/>
<line x1="416" y1="904" x2="425" y2="904" stroke="#000" stroke-width="2"/>
<line x1="556.9" y1="887.8" x2="556.9" y2="941.7" stroke="#000" stroke-width="2"/>
<line x1="552.4" y1="887.8" x2="561.4" y2="887.8" stroke="#000" stroke-width="2"/>
<line x1="552.4" y1="941.7" x2="561.4" y2="941.7" stroke="#000" stroke-width="2"/>
<line x1="692.9" y1="977.9" x2="692.9" y2="1041.6" stroke="#000" stroke-width="2"/>
<line x1="688.4" y1="977.9" x2="697.4" y2="977.9" stroke="#000" stroke-width="2"/>
<line x1="688.4" y1="1041.6" x2="697.4" y2="1041.6" stroke="#000" stroke-width="2"/>
<line x1="829" y1="956.8" x2="829" y2="1012.2" stroke="#000" stroke-width="2"/>
<line x1="824.5" y1="956.8" x2="833.5" y2="956.8" stroke="#000" stroke-width="2"/>
<line x1="824.5" y1="1012.2" x2="833.5" y2="1012.2" stroke="#000" stroke-width="2"/>
<circle cx="285" cy="637.7" r="4.4" fill="#000"/>
<circle cx="264.8" cy="735.6" r="4.4" fill="#000"/>
<circle cx="304.5" cy="748.4" r="4.4" fill="#000"/>
<circle cx="394.3" cy="878" r="4.4" fill="#000"/>
<circle cx="420.5" cy="865.3" r="4.4" fill="#000"/>
<circle cx="446.5" cy="909.7" r="4.4" fill="#000"/>
<circle cx="582.9" cy="879.2" r="4.4" fill="#000"/>
<circle cx="556.9" cy="927.4" r="4.4" fill="#000"/>
<circle cx="530.9" cy="937.6" r="4.4" fill="#000"/>
<circle cx="666.6" cy="988.5" r="4.4" fill="#000"/>
<circle cx="718.9" cy="988.8" r="4.4" fill="#000"/>
<circle cx="692.9" cy="1052.5" r="4.4" fill="#000"/>
<circle cx="829" cy="950" r="4.4" fill="#000"/>
<circle cx="809" cy="990.3" r="4.4" fill="#000"/>
<circle cx="848.6" cy="1013.3" r="4.4" fill="#000"/>
<circle cx="938.7" cy="1221.5" r="4.4" fill="#000"/>
<circle cx="965" cy="1218.6" r="4.4" fill="#000"/>
<circle cx="991.4" cy="1225" r="4.4" fill="#000"/>
<text transform="translate(192 581.3) scale(1.08 1)" font-size="24.5" text-anchor="end" fill="#000">2,500</text>
<text transform="translate(192 712.1) scale(1.08 1)" font-size="24.5" text-anchor="end" fill="#000">2,000</text>
<text transform="translate(192 841.5) scale(1.08 1)" font-size="24.5" text-anchor="end" fill="#000">1,500</text>
<text transform="translate(192 971.1) scale(1.08 1)" font-size="24.5" text-anchor="end" fill="#000">1,000</text>
<text transform="translate(192 1100.7) scale(1.08 1)" font-size="24.5" text-anchor="end" fill="#000">500</text>
<text transform="translate(192 1231) scale(1.08 1)" font-size="24.5" text-anchor="end" fill="#000">0</text>
<text transform="translate(286 1266.7) scale(1.08 1)" font-size="24.5" text-anchor="middle" fill="#000">0 day</text>
<text transform="translate(420.2 1266.7) scale(1.08 1)" font-size="24.5" text-anchor="middle" fill="#000">7 days</text>
<text transform="translate(557.3 1266.7) scale(1.08 1)" font-size="24.5" text-anchor="middle" fill="#000">14 days</text>
<text transform="translate(691.4 1266.7) scale(1.08 1)" font-size="24.5" text-anchor="middle" fill="#000">21 days</text>
<text transform="translate(828.6 1266.7) scale(1.08 1)" font-size="24.5" text-anchor="middle" fill="#000">30 days</text>
<text transform="translate(962.6 1266.7) scale(1.08 1)" font-size="24.5" text-anchor="middle" fill="#000">Blank</text>
</g>
<text transform="translate(632.4 1308.2) scale(1.09 1)" font-size="27" text-anchor="middle" fill="#000">Reagents kept in R.T.</text>
<text transform="translate(84.2 906.2) rotate(-90)" font-size="29.4" text-anchor="middle">IRDye800 fluorescence signals</text>
<text x="-0.2" y="562.8" font-size="39.5" text-anchor="start" fill="#000" font-weight="bold">c</text>
<g>
<rect x="1308.9" y="635.4" width="77.3" height="592.6" fill="#cd3d70" stroke="#000" stroke-width="2"/>
<rect x="1444.7" y="790.5" width="77.3" height="437.5" fill="#cd3d70" stroke="#000" stroke-width="2"/>
<rect x="1580.4" y="880.6" width="77.3" height="347.4" fill="#cd3d70" stroke="#000" stroke-width="2"/>
<rect x="1716.2" y="1075.8" width="77.3" height="152.2" fill="#cd3d70" stroke="#000" stroke-width="2"/>
<rect x="1851.9" y="1087.8" width="77.3" height="140.2" fill="#cd3d70" stroke="#000" stroke-width="2"/>
<rect x="1987.7" y="1220.5" width="77.3" height="7.5" fill="#cd3d70" stroke="#000" stroke-width="2"/>
<line x1="1280.6" y1="568.2" x2="1280.6" y2="1229.3" stroke="#000" stroke-width="2.6"/>
<line x1="1279.3" y1="1228" x2="2094.2" y2="1228" stroke="#000" stroke-width="2.6"/>
<line x1="1280.6" y1="569.5" x2="1292.9" y2="569.5" stroke="#000" stroke-width="2.6"/>
<line x1="1280.6" y1="651.8" x2="1286.9" y2="651.8" stroke="#000" stroke-width="2.6"/>
<line x1="1280.6" y1="734.1" x2="1292.9" y2="734.1" stroke="#000" stroke-width="2.6"/>
<line x1="1280.6" y1="816.4" x2="1286.9" y2="816.4" stroke="#000" stroke-width="2.6"/>
<line x1="1280.6" y1="898.8" x2="1292.9" y2="898.8" stroke="#000" stroke-width="2.6"/>
<line x1="1280.6" y1="981.1" x2="1286.9" y2="981.1" stroke="#000" stroke-width="2.6"/>
<line x1="1280.6" y1="1063.4" x2="1292.9" y2="1063.4" stroke="#000" stroke-width="2.6"/>
<line x1="1280.6" y1="1145.7" x2="1286.9" y2="1145.7" stroke="#000" stroke-width="2.6"/>
<line x1="1347.6" y1="1215" x2="1347.6" y2="1228" stroke="#000" stroke-width="2"/>
<line x1="1483.3" y1="1215" x2="1483.3" y2="1228" stroke="#000" stroke-width="2"/>
<line x1="1619.1" y1="1215" x2="1619.1" y2="1228" stroke="#000" stroke-width="2"/>
<line x1="1754.8" y1="1215" x2="1754.8" y2="1228" stroke="#000" stroke-width="2"/>
<line x1="1890.6" y1="1215" x2="1890.6" y2="1228" stroke="#000" stroke-width="2"/>
<line x1="2026.3" y1="1215" x2="2026.3" y2="1228" stroke="#000" stroke-width="2"/>
<line x1="1347.6" y1="620.7" x2="1347.6" y2="649.4" stroke="#000" stroke-width="2"/>
<line x1="1343.1" y1="620.7" x2="1352.1" y2="620.7" stroke="#000" stroke-width="2"/>
<line x1="1343.1" y1="649.4" x2="1352.1" y2="649.4" stroke="#000" stroke-width="2"/>
<line x1="1483.3" y1="772.5" x2="1483.3" y2="804.8" stroke="#000" stroke-width="2"/>
<line x1="1478.8" y1="772.5" x2="1487.8" y2="772.5" stroke="#000" stroke-width="2"/>
<line x1="1478.8" y1="804.8" x2="1487.8" y2="804.8" stroke="#000" stroke-width="2"/>
<line x1="1619.2" y1="808.1" x2="1619.2" y2="951.9" stroke="#000" stroke-width="2"/>
<line x1="1614.7" y1="808.1" x2="1623.7" y2="808.1" stroke="#000" stroke-width="2"/>
<line x1="1614.7" y1="951.9" x2="1623.7" y2="951.9" stroke="#000" stroke-width="2"/>
<line x1="1755" y1="1056.7" x2="1755" y2="1092.5" stroke="#000" stroke-width="2"/>
<line x1="1750.5" y1="1056.7" x2="1759.5" y2="1056.7" stroke="#000" stroke-width="2"/>
<line x1="1750.5" y1="1092.5" x2="1759.5" y2="1092.5" stroke="#000" stroke-width="2"/>
<line x1="1890.6" y1="1059.7" x2="1890.6" y2="1114.3" stroke="#000" stroke-width="2"/>
<line x1="1886.1" y1="1059.7" x2="1895.1" y2="1059.7" stroke="#000" stroke-width="2"/>
<line x1="1886.1" y1="1114.3" x2="1895.1" y2="1114.3" stroke="#000" stroke-width="2"/>
<circle cx="1321.3" cy="630.3" r="4.4" fill="#000"/>
<circle cx="1373.6" cy="621.2" r="4.4" fill="#000"/>
<circle cx="1347.6" cy="652.2" r="4.4" fill="#000"/>
<circle cx="1457" cy="767" r="4.4" fill="#000"/>
<circle cx="1483.3" cy="804.8" r="4.4" fill="#000"/>
<circle cx="1509.3" cy="797.7" r="4.4" fill="#000"/>
<circle cx="1619.2" cy="785.7" r="4.4" fill="#000"/>
<circle cx="1599.3" cy="911.6" r="4.4" fill="#000"/>
<circle cx="1638.9" cy="942.5" r="4.4" fill="#000"/>
<circle cx="1735.4" cy="1062.3" r="4.4" fill="#000"/>
<circle cx="1774.6" cy="1063.5" r="4.4" fill="#000"/>
<circle cx="1755" cy="1098.9" r="4.4" fill="#000"/>
<circle cx="1890.6" cy="1054" r="4.4" fill="#000"/>
<circle cx="1871" cy="1091.4" r="4.4" fill="#000"/>
<circle cx="1910.2" cy="1116.2" r="4.4" fill="#000"/>
<circle cx="2000.7" cy="1220.6" r="4.4" fill="#000"/>
<circle cx="2026.3" cy="1221.5" r="4.4" fill="#000"/>
<circle cx="2052.7" cy="1218.4" r="4.4" fill="#000"/>
<text transform="translate(1248.6 583) scale(1.08 1)" font-size="24.5" text-anchor="end" fill="#000">2,000</text>
<text transform="translate(1248.6 745.8) scale(1.08 1)" font-size="24.5" text-anchor="end" fill="#000">1,500</text>
<text transform="translate(1248.6 907.3) scale(1.08 1)" font-size="24.5" text-anchor="end" fill="#000">1,000</text>
<text transform="translate(1245.3 1069.8) scale(1.08 1)" font-size="24.5" text-anchor="end" fill="#000">500</text>
<text transform="translate(1257.8 1231.7) scale(1.08 1)" font-size="24.5" text-anchor="end" fill="#000">0</text>
<text transform="translate(1347.7 1266.5) scale(1.08 1)" font-size="24.5" text-anchor="middle" fill="#000">0 day</text>
<text transform="translate(1482.9 1266.5) scale(1.08 1)" font-size="24.5" text-anchor="middle" fill="#000">7 days</text>
<text transform="translate(1619 1266.5) scale(1.08 1)" font-size="24.5" text-anchor="middle" fill="#000">14 days</text>
<text transform="translate(1753 1266.5) scale(1.08 1)" font-size="24.5" text-anchor="middle" fill="#000">21 days</text>
<text transform="translate(1888.4 1266.5) scale(1.08 1)" font-size="24.5" text-anchor="middle" fill="#000">30 days</text>
<text transform="translate(2027 1266.5) scale(1.08 1)" font-size="24.5" text-anchor="middle" fill="#000">Blank</text>
</g>
<text transform="translate(1654.3 1308.2) scale(1.09 1)" font-size="27" text-anchor="middle" fill="#000">Reagents kept in R.T.</text>
<text transform="translate(1146 906.5) rotate(-90)" font-size="29.3" text-anchor="middle">Cy5 fluorescence signals</text>
<text x="1136.5" y="562.9" font-size="39.5" text-anchor="start" fill="#000" font-weight="bold">d</text>
</svg></body></html>
